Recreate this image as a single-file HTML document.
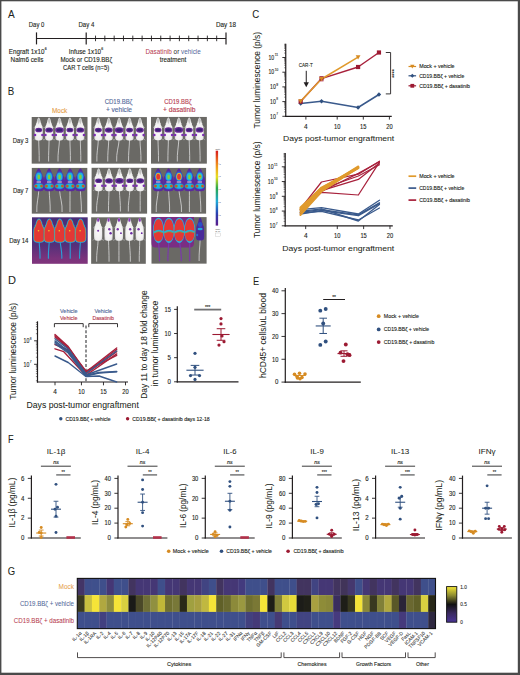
<!DOCTYPE html>
<html><head><meta charset="utf-8"><style>
html,body{margin:0;padding:0;background:#fff;}
svg{display:block;}
text{font-family:"Liberation Sans", sans-serif;}
</style></head><body>
<svg width="520" height="675" viewBox="0 0 520 675">
<defs>
<filter id="bl" x="-20%" y="-20%" width="140%" height="140%"><feGaussianBlur stdDeviation="0.45"/></filter>
<filter id="bl2" x="-20%" y="-20%" width="140%" height="140%"><feGaussianBlur stdDeviation="0.8"/></filter>
<linearGradient id="cbar" x1="0" y1="0" x2="0" y2="1">
<stop offset="0" stop-color="#d7191c"/><stop offset="0.18" stop-color="#f08a1c"/><stop offset="0.35" stop-color="#e8e020"/><stop offset="0.5" stop-color="#2aa84a"/><stop offset="0.68" stop-color="#20a8d8"/><stop offset="0.84" stop-color="#2a40b0"/><stop offset="1" stop-color="#5a1a8a"/>
</linearGradient>
<linearGradient id="hmbar" x1="0" y1="0" x2="0" y2="1">
<stop offset="0" stop-color="#f2e636"/><stop offset="0.25" stop-color="#8c8a30"/><stop offset="0.5" stop-color="#111111"/><stop offset="0.75" stop-color="#3a2a60"/><stop offset="1" stop-color="#4a3496"/>
</linearGradient>
<radialGradient id="mw" cx="0.5" cy="0.6" r="0.6"><stop offset="0" stop-color="#fbfafa"/><stop offset="0.7" stop-color="#f0efef"/><stop offset="1" stop-color="#cfcfcf"/></radialGradient>
<linearGradient id="d14bg" x1="0" y1="0" x2="0" y2="1">
<stop offset="0" stop-color="#4a2e78"/><stop offset="0.6" stop-color="#54307a"/><stop offset="0.88" stop-color="#7a337c"/><stop offset="1" stop-color="#80347c"/>
</linearGradient>
</defs>
<rect x="0" y="0" width="520" height="675" fill="#ffffff"/>
<text x="8.10" y="17.80" font-size="11" fill="#231f20" stroke="#231f20" stroke-width="0.05" textLength="6.70" lengthAdjust="spacingAndGlyphs" >A</text>
<line x1="36.50" y1="38.50" x2="226.00" y2="38.50" stroke="#231f20" stroke-width="1.1" />
<line x1="36.50" y1="32.40" x2="36.50" y2="44.40" stroke="#231f20" stroke-width="1.2" />
<line x1="86.20" y1="32.40" x2="86.20" y2="44.40" stroke="#231f20" stroke-width="1.2" />
<line x1="226.00" y1="32.40" x2="226.00" y2="44.40" stroke="#231f20" stroke-width="1.2" />
<line x1="95.52" y1="35.60" x2="95.52" y2="41.20" stroke="#231f20" stroke-width="0.9" />
<line x1="104.84" y1="35.60" x2="104.84" y2="41.20" stroke="#231f20" stroke-width="0.9" />
<line x1="114.16" y1="35.60" x2="114.16" y2="41.20" stroke="#231f20" stroke-width="0.9" />
<line x1="123.48" y1="35.60" x2="123.48" y2="41.20" stroke="#231f20" stroke-width="0.9" />
<line x1="132.80" y1="35.60" x2="132.80" y2="41.20" stroke="#231f20" stroke-width="0.9" />
<line x1="142.12" y1="35.60" x2="142.12" y2="41.20" stroke="#231f20" stroke-width="0.9" />
<line x1="151.44" y1="35.60" x2="151.44" y2="41.20" stroke="#231f20" stroke-width="0.9" />
<line x1="160.76" y1="35.60" x2="160.76" y2="41.20" stroke="#231f20" stroke-width="0.9" />
<line x1="170.08" y1="35.60" x2="170.08" y2="41.20" stroke="#231f20" stroke-width="0.9" />
<line x1="179.40" y1="35.60" x2="179.40" y2="41.20" stroke="#231f20" stroke-width="0.9" />
<line x1="188.72" y1="35.60" x2="188.72" y2="41.20" stroke="#231f20" stroke-width="0.9" />
<line x1="198.04" y1="35.60" x2="198.04" y2="41.20" stroke="#231f20" stroke-width="0.9" />
<line x1="207.36" y1="35.60" x2="207.36" y2="41.20" stroke="#231f20" stroke-width="0.9" />
<line x1="216.68" y1="35.60" x2="216.68" y2="41.20" stroke="#231f20" stroke-width="0.9" />
<text x="28.80" y="27.00" font-size="6.7" fill="#231f20" stroke="#231f20" stroke-width="0.12" textLength="15.50" lengthAdjust="spacingAndGlyphs" >Day 0</text>
<text x="78.50" y="27.00" font-size="6.7" fill="#231f20" stroke="#231f20" stroke-width="0.12" textLength="15.80" lengthAdjust="spacingAndGlyphs" >Day 4</text>
<text x="216.00" y="27.00" font-size="6.7" fill="#231f20" stroke="#231f20" stroke-width="0.12" textLength="20.00" lengthAdjust="spacingAndGlyphs" >Day 18</text>
<text x="8.80" y="54.00" font-size="6.7" fill="#231f20" stroke="#231f20" stroke-width="0.12" textLength="35.60" lengthAdjust="spacingAndGlyphs" >Engraft 1x10</text>
<text x="44.80" y="50.30" font-size="3.5" fill="#231f20" stroke="#231f20" stroke-width="0.12" >6</text>
<text x="10.60" y="62.30" font-size="6.7" fill="#231f20" stroke="#231f20" stroke-width="0.12" textLength="32.80" lengthAdjust="spacingAndGlyphs" >Nalm6 cells</text>
<text x="68.80" y="54.00" font-size="6.7" fill="#231f20" stroke="#231f20" stroke-width="0.12" textLength="32.30" lengthAdjust="spacingAndGlyphs" >Infuse 1x10</text>
<text x="101.20" y="50.30" font-size="3.5" fill="#231f20" stroke="#231f20" stroke-width="0.12" >6</text>
<text x="60.50" y="62.20" font-size="6.7" fill="#231f20" stroke="#231f20" stroke-width="0.12" textLength="51.60" lengthAdjust="spacingAndGlyphs" >Mock or CD19.BBζ</text>
<text x="63.00" y="70.40" font-size="6.7" fill="#231f20" stroke="#231f20" stroke-width="0.12" textLength="46.20" lengthAdjust="spacingAndGlyphs" >CAR T cells (n=5)</text>
<text x="145.4" y="54" font-size="6.7" textLength="55.4" lengthAdjust="spacingAndGlyphs"><tspan fill="#b63a4e">Dasatinib</tspan><tspan fill="#231f20"> or </tspan><tspan fill="#52699a">vehicle</tspan></text>
<text x="173.00" y="62.30" font-size="6.7" fill="#231f20" stroke="#231f20" stroke-width="0.12" text-anchor="middle" textLength="26.50" lengthAdjust="spacingAndGlyphs" >treatment</text>
<text x="7.70" y="95.00" font-size="11" fill="#231f20" stroke="#231f20" stroke-width="0.05" textLength="6.50" lengthAdjust="spacingAndGlyphs" >B</text>
<text x="52.00" y="112.60" font-size="6.9" fill="#e6a04a" stroke="#e6a04a" stroke-width="0.12" textLength="15.30" lengthAdjust="spacingAndGlyphs" >Mock</text>
<text x="104.70" y="103.60" font-size="6.8" fill="#52699a" stroke="#52699a" stroke-width="0.12" textLength="27.70" lengthAdjust="spacingAndGlyphs" >CD19.BBζ</text>
<text x="105.90" y="112.40" font-size="6.8" fill="#52699a" stroke="#52699a" stroke-width="0.12" textLength="26.10" lengthAdjust="spacingAndGlyphs" >+ vehicle</text>
<text x="164.30" y="103.60" font-size="6.8" fill="#b63a4e" stroke="#b63a4e" stroke-width="0.12" textLength="27.20" lengthAdjust="spacingAndGlyphs" >CD19.BBζ</text>
<text x="163.10" y="112.40" font-size="6.8" fill="#b63a4e" stroke="#b63a4e" stroke-width="0.12" textLength="32.40" lengthAdjust="spacingAndGlyphs" >+ dasatinib</text>
<text x="12.80" y="142.90" font-size="6.9" fill="#231f20" stroke="#231f20" stroke-width="0.12" textLength="15.50" lengthAdjust="spacingAndGlyphs" >Day 3</text>
<text x="12.90" y="192.90" font-size="6.9" fill="#231f20" stroke="#231f20" stroke-width="0.12" textLength="15.50" lengthAdjust="spacingAndGlyphs" >Day 7</text>
<text x="9.20" y="242.90" font-size="6.9" fill="#231f20" stroke="#231f20" stroke-width="0.12" textLength="19.20" lengthAdjust="spacingAndGlyphs" >Day 14</text>
<g>
<rect x="31.70" y="117.00" width="55.80" height="46.65" fill="#6a6965" />
<g filter="url(#bl)">
<path d="M38.70,139.90 C38.80,147.34 39.30,152.65 39.20,161.15" stroke="#cfcfcf" stroke-width="0.9" fill="none" stroke-linecap="round"/>
<line x1="35.10" y1="126.90" x2="33.70" y2="127.70" stroke="#b8b8b8" stroke-width="0.6" />
<line x1="35.10" y1="138.40" x2="33.40" y2="140.20" stroke="#b8b8b8" stroke-width="0.6" />
<line x1="42.30" y1="126.90" x2="43.70" y2="127.70" stroke="#b8b8b8" stroke-width="0.6" />
<line x1="42.30" y1="138.40" x2="44.00" y2="140.20" stroke="#b8b8b8" stroke-width="0.6" />
<path d="M38.70,117.40 L39.40,118.00 L40.10,119.40 L40.60,121.40 L40.90,122.90 L41.60,123.90 L41.40,124.70 L42.30,126.00 L42.70,128.40 L42.80,132.40 L42.80,136.40 L42.60,138.70 L41.80,139.90 L39.90,140.40 L37.50,140.40 L35.60,139.90 L34.80,138.70 L34.60,136.40 L34.60,132.40 L34.70,128.40 L35.10,126.00 L36.00,124.70 L35.80,123.90 L36.50,122.90 L36.80,121.40 L37.30,119.40 L38.00,118.00 Z" fill="url(#mw)"/>
<path d="M37.20,120.40 L38.70,118.20 L40.20,120.40 L38.70,124.40 Z" fill="#c4c4c4"/>
<ellipse cx="38.70" cy="130.00" rx="3.50" ry="2.30" fill="#6a2d96"/>
<ellipse cx="38.70" cy="130.00" rx="2.30" ry="1.30" fill="#3a2274"/>
<circle cx="35.00" cy="135.00" r="1.3" fill="#7a2fb0"/>
<circle cx="42.40" cy="135.00" r="1.3" fill="#7a2fb0"/>
<path d="M49.10,139.90 C49.00,147.34 48.50,152.65 48.60,161.15" stroke="#cfcfcf" stroke-width="0.9" fill="none" stroke-linecap="round"/>
<line x1="45.50" y1="126.90" x2="44.10" y2="127.70" stroke="#b8b8b8" stroke-width="0.6" />
<line x1="45.50" y1="138.40" x2="43.80" y2="140.20" stroke="#b8b8b8" stroke-width="0.6" />
<line x1="52.70" y1="126.90" x2="54.10" y2="127.70" stroke="#b8b8b8" stroke-width="0.6" />
<line x1="52.70" y1="138.40" x2="54.40" y2="140.20" stroke="#b8b8b8" stroke-width="0.6" />
<path d="M49.10,117.40 L49.80,118.00 L50.50,119.40 L51.00,121.40 L51.30,122.90 L52.00,123.90 L51.80,124.70 L52.70,126.00 L53.10,128.40 L53.20,132.40 L53.20,136.40 L53.00,138.70 L52.20,139.90 L50.30,140.40 L47.90,140.40 L46.00,139.90 L45.20,138.70 L45.00,136.40 L45.00,132.40 L45.10,128.40 L45.50,126.00 L46.40,124.70 L46.20,123.90 L46.90,122.90 L47.20,121.40 L47.70,119.40 L48.40,118.00 Z" fill="url(#mw)"/>
<path d="M47.60,120.40 L49.10,118.20 L50.60,120.40 L49.10,124.40 Z" fill="#c4c4c4"/>
<ellipse cx="49.10" cy="130.00" rx="3.92" ry="2.58" fill="#6a2d96"/>
<ellipse cx="49.10" cy="130.00" rx="2.58" ry="1.46" fill="#3a2274"/>
<circle cx="45.40" cy="135.00" r="1.3" fill="#7a2fb0"/>
<circle cx="52.80" cy="135.00" r="1.3" fill="#7a2fb0"/>
<path d="M59.50,139.90 C59.20,147.34 57.70,152.65 58.00,161.15" stroke="#cfcfcf" stroke-width="0.9" fill="none" stroke-linecap="round"/>
<line x1="55.90" y1="126.90" x2="54.50" y2="127.70" stroke="#b8b8b8" stroke-width="0.6" />
<line x1="55.90" y1="138.40" x2="54.20" y2="140.20" stroke="#b8b8b8" stroke-width="0.6" />
<line x1="63.10" y1="126.90" x2="64.50" y2="127.70" stroke="#b8b8b8" stroke-width="0.6" />
<line x1="63.10" y1="138.40" x2="64.80" y2="140.20" stroke="#b8b8b8" stroke-width="0.6" />
<path d="M59.50,117.40 L60.20,118.00 L60.90,119.40 L61.40,121.40 L61.70,122.90 L62.40,123.90 L62.20,124.70 L63.10,126.00 L63.50,128.40 L63.60,132.40 L63.60,136.40 L63.40,138.70 L62.60,139.90 L60.70,140.40 L58.30,140.40 L56.40,139.90 L55.60,138.70 L55.40,136.40 L55.40,132.40 L55.50,128.40 L55.90,126.00 L56.80,124.70 L56.60,123.90 L57.30,122.90 L57.60,121.40 L58.10,119.40 L58.80,118.00 Z" fill="url(#mw)"/>
<path d="M58.00,120.40 L59.50,118.20 L61.00,120.40 L59.50,124.40 Z" fill="#c4c4c4"/>
<ellipse cx="59.50" cy="130.00" rx="4.34" ry="2.85" fill="#6a2d96"/>
<ellipse cx="59.50" cy="130.00" rx="2.85" ry="1.61" fill="#3a2274"/>
<circle cx="55.80" cy="135.00" r="1.3" fill="#7a2fb0"/>
<circle cx="63.20" cy="135.00" r="1.3" fill="#7a2fb0"/>
<path d="M69.90,139.90 C70.00,147.34 70.50,152.65 70.40,161.15" stroke="#cfcfcf" stroke-width="0.9" fill="none" stroke-linecap="round"/>
<line x1="66.30" y1="126.90" x2="64.90" y2="127.70" stroke="#b8b8b8" stroke-width="0.6" />
<line x1="66.30" y1="138.40" x2="64.60" y2="140.20" stroke="#b8b8b8" stroke-width="0.6" />
<line x1="73.50" y1="126.90" x2="74.90" y2="127.70" stroke="#b8b8b8" stroke-width="0.6" />
<line x1="73.50" y1="138.40" x2="75.20" y2="140.20" stroke="#b8b8b8" stroke-width="0.6" />
<path d="M69.90,117.40 L70.60,118.00 L71.30,119.40 L71.80,121.40 L72.10,122.90 L72.80,123.90 L72.60,124.70 L73.50,126.00 L73.90,128.40 L74.00,132.40 L74.00,136.40 L73.80,138.70 L73.00,139.90 L71.10,140.40 L68.70,140.40 L66.80,139.90 L66.00,138.70 L65.80,136.40 L65.80,132.40 L65.90,128.40 L66.30,126.00 L67.20,124.70 L67.00,123.90 L67.70,122.90 L68.00,121.40 L68.50,119.40 L69.20,118.00 Z" fill="url(#mw)"/>
<path d="M68.40,120.40 L69.90,118.20 L71.40,120.40 L69.90,124.40 Z" fill="#c4c4c4"/>
<ellipse cx="69.90" cy="130.00" rx="3.50" ry="2.30" fill="#6a2d96"/>
<ellipse cx="69.90" cy="130.00" rx="2.30" ry="1.30" fill="#3a2274"/>
<circle cx="66.20" cy="135.00" r="1.3" fill="#7a2fb0"/>
<circle cx="73.60" cy="135.00" r="1.3" fill="#7a2fb0"/>
<path d="M80.30,139.90 C80.40,147.34 80.90,152.65 80.80,161.15" stroke="#cfcfcf" stroke-width="0.9" fill="none" stroke-linecap="round"/>
<line x1="76.70" y1="126.90" x2="75.30" y2="127.70" stroke="#b8b8b8" stroke-width="0.6" />
<line x1="76.70" y1="138.40" x2="75.00" y2="140.20" stroke="#b8b8b8" stroke-width="0.6" />
<line x1="83.90" y1="126.90" x2="85.30" y2="127.70" stroke="#b8b8b8" stroke-width="0.6" />
<line x1="83.90" y1="138.40" x2="85.60" y2="140.20" stroke="#b8b8b8" stroke-width="0.6" />
<path d="M80.30,117.40 L81.00,118.00 L81.70,119.40 L82.20,121.40 L82.50,122.90 L83.20,123.90 L83.00,124.70 L83.90,126.00 L84.30,128.40 L84.40,132.40 L84.40,136.40 L84.20,138.70 L83.40,139.90 L81.50,140.40 L79.10,140.40 L77.20,139.90 L76.40,138.70 L76.20,136.40 L76.20,132.40 L76.30,128.40 L76.70,126.00 L77.60,124.70 L77.40,123.90 L78.10,122.90 L78.40,121.40 L78.90,119.40 L79.60,118.00 Z" fill="url(#mw)"/>
<path d="M78.80,120.40 L80.30,118.20 L81.80,120.40 L80.30,124.40 Z" fill="#c4c4c4"/>
<ellipse cx="80.30" cy="130.00" rx="3.92" ry="2.58" fill="#6a2d96"/>
<ellipse cx="80.30" cy="130.00" rx="2.58" ry="1.46" fill="#3a2274"/>
<circle cx="76.60" cy="135.00" r="1.3" fill="#7a2fb0"/>
<circle cx="84.00" cy="135.00" r="1.3" fill="#7a2fb0"/>
</g></g>
<g>
<rect x="91.35" y="117.10" width="55.55" height="46.55" fill="#6a6965" />
<g filter="url(#bl)">
<path d="M98.35,140.00 C98.05,147.40 96.55,152.69 96.85,161.15" stroke="#cfcfcf" stroke-width="0.9" fill="none" stroke-linecap="round"/>
<line x1="94.75" y1="127.00" x2="93.35" y2="127.80" stroke="#b8b8b8" stroke-width="0.6" />
<line x1="94.75" y1="138.50" x2="93.05" y2="140.30" stroke="#b8b8b8" stroke-width="0.6" />
<line x1="101.95" y1="127.00" x2="103.35" y2="127.80" stroke="#b8b8b8" stroke-width="0.6" />
<line x1="101.95" y1="138.50" x2="103.65" y2="140.30" stroke="#b8b8b8" stroke-width="0.6" />
<path d="M98.35,117.50 L99.05,118.10 L99.75,119.50 L100.25,121.50 L100.55,123.00 L101.25,124.00 L101.05,124.80 L101.95,126.10 L102.35,128.50 L102.45,132.50 L102.45,136.50 L102.25,138.80 L101.45,140.00 L99.55,140.50 L97.15,140.50 L95.25,140.00 L94.45,138.80 L94.25,136.50 L94.25,132.50 L94.35,128.50 L94.75,126.10 L95.65,124.80 L95.45,124.00 L96.15,123.00 L96.45,121.50 L96.95,119.50 L97.65,118.10 Z" fill="url(#mw)"/>
<path d="M96.85,120.50 L98.35,118.30 L99.85,120.50 L98.35,124.50 Z" fill="#c4c4c4"/>
<ellipse cx="98.35" cy="130.10" rx="3.50" ry="2.30" fill="#6a2d96"/>
<ellipse cx="98.35" cy="130.10" rx="2.30" ry="1.30" fill="#3a2274"/>
<circle cx="94.65" cy="135.10" r="1.3" fill="#7a2fb0"/>
<circle cx="102.05" cy="135.10" r="1.3" fill="#7a2fb0"/>
<path d="M108.75,140.00 C108.55,147.40 107.55,152.69 107.75,161.15" stroke="#cfcfcf" stroke-width="0.9" fill="none" stroke-linecap="round"/>
<line x1="105.15" y1="127.00" x2="103.75" y2="127.80" stroke="#b8b8b8" stroke-width="0.6" />
<line x1="105.15" y1="138.50" x2="103.45" y2="140.30" stroke="#b8b8b8" stroke-width="0.6" />
<line x1="112.35" y1="127.00" x2="113.75" y2="127.80" stroke="#b8b8b8" stroke-width="0.6" />
<line x1="112.35" y1="138.50" x2="114.05" y2="140.30" stroke="#b8b8b8" stroke-width="0.6" />
<path d="M108.75,117.50 L109.45,118.10 L110.15,119.50 L110.65,121.50 L110.95,123.00 L111.65,124.00 L111.45,124.80 L112.35,126.10 L112.75,128.50 L112.85,132.50 L112.85,136.50 L112.65,138.80 L111.85,140.00 L109.95,140.50 L107.55,140.50 L105.65,140.00 L104.85,138.80 L104.65,136.50 L104.65,132.50 L104.75,128.50 L105.15,126.10 L106.05,124.80 L105.85,124.00 L106.55,123.00 L106.85,121.50 L107.35,119.50 L108.05,118.10 Z" fill="url(#mw)"/>
<path d="M107.25,120.50 L108.75,118.30 L110.25,120.50 L108.75,124.50 Z" fill="#c4c4c4"/>
<ellipse cx="108.75" cy="130.10" rx="3.92" ry="2.58" fill="#6a2d96"/>
<ellipse cx="108.75" cy="130.10" rx="2.58" ry="1.46" fill="#3a2274"/>
<circle cx="105.05" cy="135.10" r="1.3" fill="#7a2fb0"/>
<circle cx="112.45" cy="135.10" r="1.3" fill="#7a2fb0"/>
<path d="M119.15,140.00 C118.65,147.40 116.15,152.69 116.65,161.15" stroke="#cfcfcf" stroke-width="0.9" fill="none" stroke-linecap="round"/>
<line x1="115.55" y1="127.00" x2="114.15" y2="127.80" stroke="#b8b8b8" stroke-width="0.6" />
<line x1="115.55" y1="138.50" x2="113.85" y2="140.30" stroke="#b8b8b8" stroke-width="0.6" />
<line x1="122.75" y1="127.00" x2="124.15" y2="127.80" stroke="#b8b8b8" stroke-width="0.6" />
<line x1="122.75" y1="138.50" x2="124.45" y2="140.30" stroke="#b8b8b8" stroke-width="0.6" />
<path d="M119.15,117.50 L119.85,118.10 L120.55,119.50 L121.05,121.50 L121.35,123.00 L122.05,124.00 L121.85,124.80 L122.75,126.10 L123.15,128.50 L123.25,132.50 L123.25,136.50 L123.05,138.80 L122.25,140.00 L120.35,140.50 L117.95,140.50 L116.05,140.00 L115.25,138.80 L115.05,136.50 L115.05,132.50 L115.15,128.50 L115.55,126.10 L116.45,124.80 L116.25,124.00 L116.95,123.00 L117.25,121.50 L117.75,119.50 L118.45,118.10 Z" fill="url(#mw)"/>
<path d="M117.65,120.50 L119.15,118.30 L120.65,120.50 L119.15,124.50 Z" fill="#c4c4c4"/>
<ellipse cx="119.15" cy="130.10" rx="4.34" ry="2.85" fill="#6a2d96"/>
<ellipse cx="119.15" cy="130.10" rx="2.85" ry="1.61" fill="#3a2274"/>
<circle cx="115.45" cy="135.10" r="1.3" fill="#7a2fb0"/>
<circle cx="122.85" cy="135.10" r="1.3" fill="#7a2fb0"/>
<path d="M129.55,140.00 C129.35,147.40 128.35,152.69 128.55,161.15" stroke="#cfcfcf" stroke-width="0.9" fill="none" stroke-linecap="round"/>
<line x1="125.95" y1="127.00" x2="124.55" y2="127.80" stroke="#b8b8b8" stroke-width="0.6" />
<line x1="125.95" y1="138.50" x2="124.25" y2="140.30" stroke="#b8b8b8" stroke-width="0.6" />
<line x1="133.15" y1="127.00" x2="134.55" y2="127.80" stroke="#b8b8b8" stroke-width="0.6" />
<line x1="133.15" y1="138.50" x2="134.85" y2="140.30" stroke="#b8b8b8" stroke-width="0.6" />
<path d="M129.55,117.50 L130.25,118.10 L130.95,119.50 L131.45,121.50 L131.75,123.00 L132.45,124.00 L132.25,124.80 L133.15,126.10 L133.55,128.50 L133.65,132.50 L133.65,136.50 L133.45,138.80 L132.65,140.00 L130.75,140.50 L128.35,140.50 L126.45,140.00 L125.65,138.80 L125.45,136.50 L125.45,132.50 L125.55,128.50 L125.95,126.10 L126.85,124.80 L126.65,124.00 L127.35,123.00 L127.65,121.50 L128.15,119.50 L128.85,118.10 Z" fill="url(#mw)"/>
<path d="M128.05,120.50 L129.55,118.30 L131.05,120.50 L129.55,124.50 Z" fill="#c4c4c4"/>
<ellipse cx="129.55" cy="130.10" rx="3.50" ry="2.30" fill="#6a2d96"/>
<ellipse cx="129.55" cy="130.10" rx="2.30" ry="1.30" fill="#3a2274"/>
<circle cx="125.85" cy="135.10" r="1.3" fill="#7a2fb0"/>
<circle cx="133.25" cy="135.10" r="1.3" fill="#7a2fb0"/>
<path d="M139.95,140.00 C140.15,147.40 141.15,152.69 140.95,161.15" stroke="#cfcfcf" stroke-width="0.9" fill="none" stroke-linecap="round"/>
<line x1="136.35" y1="127.00" x2="134.95" y2="127.80" stroke="#b8b8b8" stroke-width="0.6" />
<line x1="136.35" y1="138.50" x2="134.65" y2="140.30" stroke="#b8b8b8" stroke-width="0.6" />
<line x1="143.55" y1="127.00" x2="144.95" y2="127.80" stroke="#b8b8b8" stroke-width="0.6" />
<line x1="143.55" y1="138.50" x2="145.25" y2="140.30" stroke="#b8b8b8" stroke-width="0.6" />
<path d="M139.95,117.50 L140.65,118.10 L141.35,119.50 L141.85,121.50 L142.15,123.00 L142.85,124.00 L142.65,124.80 L143.55,126.10 L143.95,128.50 L144.05,132.50 L144.05,136.50 L143.85,138.80 L143.05,140.00 L141.15,140.50 L138.75,140.50 L136.85,140.00 L136.05,138.80 L135.85,136.50 L135.85,132.50 L135.95,128.50 L136.35,126.10 L137.25,124.80 L137.05,124.00 L137.75,123.00 L138.05,121.50 L138.55,119.50 L139.25,118.10 Z" fill="url(#mw)"/>
<path d="M138.45,120.50 L139.95,118.30 L141.45,120.50 L139.95,124.50 Z" fill="#c4c4c4"/>
<ellipse cx="139.95" cy="130.10" rx="3.92" ry="2.58" fill="#6a2d96"/>
<ellipse cx="139.95" cy="130.10" rx="2.58" ry="1.46" fill="#3a2274"/>
<circle cx="136.25" cy="135.10" r="1.3" fill="#7a2fb0"/>
<circle cx="143.65" cy="135.10" r="1.3" fill="#7a2fb0"/>
</g></g>
<g>
<rect x="151.00" y="116.95" width="55.85" height="46.70" fill="#6a6965" />
<g filter="url(#bl)">
<path d="M158.00,139.85 C158.10,147.31 158.60,152.63 158.50,161.15" stroke="#cfcfcf" stroke-width="0.9" fill="none" stroke-linecap="round"/>
<line x1="154.40" y1="126.85" x2="153.00" y2="127.65" stroke="#b8b8b8" stroke-width="0.6" />
<line x1="154.40" y1="138.35" x2="152.70" y2="140.15" stroke="#b8b8b8" stroke-width="0.6" />
<line x1="161.60" y1="126.85" x2="163.00" y2="127.65" stroke="#b8b8b8" stroke-width="0.6" />
<line x1="161.60" y1="138.35" x2="163.30" y2="140.15" stroke="#b8b8b8" stroke-width="0.6" />
<path d="M158.00,117.35 L158.70,117.95 L159.40,119.35 L159.90,121.35 L160.20,122.85 L160.90,123.85 L160.70,124.65 L161.60,125.95 L162.00,128.35 L162.10,132.35 L162.10,136.35 L161.90,138.65 L161.10,139.85 L159.20,140.35 L156.80,140.35 L154.90,139.85 L154.10,138.65 L153.90,136.35 L153.90,132.35 L154.00,128.35 L154.40,125.95 L155.30,124.65 L155.10,123.85 L155.80,122.85 L156.10,121.35 L156.60,119.35 L157.30,117.95 Z" fill="url(#mw)"/>
<path d="M156.50,120.35 L158.00,118.15 L159.50,120.35 L158.00,124.35 Z" fill="#c4c4c4"/>
<ellipse cx="158.00" cy="129.95" rx="3.50" ry="2.30" fill="#6a2d96"/>
<ellipse cx="158.00" cy="129.95" rx="2.30" ry="1.30" fill="#3a2274"/>
<circle cx="154.30" cy="134.95" r="1.3" fill="#7a2fb0"/>
<circle cx="161.70" cy="134.95" r="1.3" fill="#7a2fb0"/>
<path d="M168.40,139.85 C168.30,147.31 167.80,152.63 167.90,161.15" stroke="#cfcfcf" stroke-width="0.9" fill="none" stroke-linecap="round"/>
<line x1="164.80" y1="126.85" x2="163.40" y2="127.65" stroke="#b8b8b8" stroke-width="0.6" />
<line x1="164.80" y1="138.35" x2="163.10" y2="140.15" stroke="#b8b8b8" stroke-width="0.6" />
<line x1="172.00" y1="126.85" x2="173.40" y2="127.65" stroke="#b8b8b8" stroke-width="0.6" />
<line x1="172.00" y1="138.35" x2="173.70" y2="140.15" stroke="#b8b8b8" stroke-width="0.6" />
<path d="M168.40,117.35 L169.10,117.95 L169.80,119.35 L170.30,121.35 L170.60,122.85 L171.30,123.85 L171.10,124.65 L172.00,125.95 L172.40,128.35 L172.50,132.35 L172.50,136.35 L172.30,138.65 L171.50,139.85 L169.60,140.35 L167.20,140.35 L165.30,139.85 L164.50,138.65 L164.30,136.35 L164.30,132.35 L164.40,128.35 L164.80,125.95 L165.70,124.65 L165.50,123.85 L166.20,122.85 L166.50,121.35 L167.00,119.35 L167.70,117.95 Z" fill="url(#mw)"/>
<path d="M166.90,120.35 L168.40,118.15 L169.90,120.35 L168.40,124.35 Z" fill="#c4c4c4"/>
<ellipse cx="168.40" cy="129.95" rx="3.92" ry="2.58" fill="#6a2d96"/>
<ellipse cx="168.40" cy="129.95" rx="2.58" ry="1.46" fill="#3a2274"/>
<circle cx="164.70" cy="134.95" r="1.3" fill="#7a2fb0"/>
<circle cx="172.10" cy="134.95" r="1.3" fill="#7a2fb0"/>
<path d="M178.80,139.85 C178.50,147.31 177.00,152.63 177.30,161.15" stroke="#cfcfcf" stroke-width="0.9" fill="none" stroke-linecap="round"/>
<line x1="175.20" y1="126.85" x2="173.80" y2="127.65" stroke="#b8b8b8" stroke-width="0.6" />
<line x1="175.20" y1="138.35" x2="173.50" y2="140.15" stroke="#b8b8b8" stroke-width="0.6" />
<line x1="182.40" y1="126.85" x2="183.80" y2="127.65" stroke="#b8b8b8" stroke-width="0.6" />
<line x1="182.40" y1="138.35" x2="184.10" y2="140.15" stroke="#b8b8b8" stroke-width="0.6" />
<path d="M178.80,117.35 L179.50,117.95 L180.20,119.35 L180.70,121.35 L181.00,122.85 L181.70,123.85 L181.50,124.65 L182.40,125.95 L182.80,128.35 L182.90,132.35 L182.90,136.35 L182.70,138.65 L181.90,139.85 L180.00,140.35 L177.60,140.35 L175.70,139.85 L174.90,138.65 L174.70,136.35 L174.70,132.35 L174.80,128.35 L175.20,125.95 L176.10,124.65 L175.90,123.85 L176.60,122.85 L176.90,121.35 L177.40,119.35 L178.10,117.95 Z" fill="url(#mw)"/>
<path d="M177.30,120.35 L178.80,118.15 L180.30,120.35 L178.80,124.35 Z" fill="#c4c4c4"/>
<ellipse cx="178.80" cy="129.95" rx="4.34" ry="2.85" fill="#6a2d96"/>
<ellipse cx="178.80" cy="129.95" rx="2.85" ry="1.61" fill="#3a2274"/>
<circle cx="175.10" cy="134.95" r="1.3" fill="#7a2fb0"/>
<circle cx="182.50" cy="134.95" r="1.3" fill="#7a2fb0"/>
<path d="M189.20,139.85 C189.30,147.31 189.80,152.63 189.70,161.15" stroke="#cfcfcf" stroke-width="0.9" fill="none" stroke-linecap="round"/>
<line x1="185.60" y1="126.85" x2="184.20" y2="127.65" stroke="#b8b8b8" stroke-width="0.6" />
<line x1="185.60" y1="138.35" x2="183.90" y2="140.15" stroke="#b8b8b8" stroke-width="0.6" />
<line x1="192.80" y1="126.85" x2="194.20" y2="127.65" stroke="#b8b8b8" stroke-width="0.6" />
<line x1="192.80" y1="138.35" x2="194.50" y2="140.15" stroke="#b8b8b8" stroke-width="0.6" />
<path d="M189.20,117.35 L189.90,117.95 L190.60,119.35 L191.10,121.35 L191.40,122.85 L192.10,123.85 L191.90,124.65 L192.80,125.95 L193.20,128.35 L193.30,132.35 L193.30,136.35 L193.10,138.65 L192.30,139.85 L190.40,140.35 L188.00,140.35 L186.10,139.85 L185.30,138.65 L185.10,136.35 L185.10,132.35 L185.20,128.35 L185.60,125.95 L186.50,124.65 L186.30,123.85 L187.00,122.85 L187.30,121.35 L187.80,119.35 L188.50,117.95 Z" fill="url(#mw)"/>
<path d="M187.70,120.35 L189.20,118.15 L190.70,120.35 L189.20,124.35 Z" fill="#c4c4c4"/>
<ellipse cx="189.20" cy="129.95" rx="3.50" ry="2.30" fill="#6a2d96"/>
<ellipse cx="189.20" cy="129.95" rx="2.30" ry="1.30" fill="#3a2274"/>
<circle cx="185.50" cy="134.95" r="1.3" fill="#7a2fb0"/>
<circle cx="192.90" cy="134.95" r="1.3" fill="#7a2fb0"/>
<path d="M199.60,139.85 C199.70,147.31 200.20,152.63 200.10,161.15" stroke="#cfcfcf" stroke-width="0.9" fill="none" stroke-linecap="round"/>
<line x1="196.00" y1="126.85" x2="194.60" y2="127.65" stroke="#b8b8b8" stroke-width="0.6" />
<line x1="196.00" y1="138.35" x2="194.30" y2="140.15" stroke="#b8b8b8" stroke-width="0.6" />
<line x1="203.20" y1="126.85" x2="204.60" y2="127.65" stroke="#b8b8b8" stroke-width="0.6" />
<line x1="203.20" y1="138.35" x2="204.90" y2="140.15" stroke="#b8b8b8" stroke-width="0.6" />
<path d="M199.60,117.35 L200.30,117.95 L201.00,119.35 L201.50,121.35 L201.80,122.85 L202.50,123.85 L202.30,124.65 L203.20,125.95 L203.60,128.35 L203.70,132.35 L203.70,136.35 L203.50,138.65 L202.70,139.85 L200.80,140.35 L198.40,140.35 L196.50,139.85 L195.70,138.65 L195.50,136.35 L195.50,132.35 L195.60,128.35 L196.00,125.95 L196.90,124.65 L196.70,123.85 L197.40,122.85 L197.70,121.35 L198.20,119.35 L198.90,117.95 Z" fill="url(#mw)"/>
<path d="M198.10,120.35 L199.60,118.15 L201.10,120.35 L199.60,124.35 Z" fill="#c4c4c4"/>
<ellipse cx="199.60" cy="129.95" rx="3.92" ry="2.58" fill="#6a2d96"/>
<ellipse cx="199.60" cy="129.95" rx="2.58" ry="1.46" fill="#3a2274"/>
<circle cx="195.90" cy="134.95" r="1.3" fill="#7a2fb0"/>
<circle cx="203.30" cy="134.95" r="1.3" fill="#7a2fb0"/>
</g></g>
<g>
<rect x="31.80" y="167.90" width="55.50" height="45.75" fill="#6a6965" />
<g filter="url(#bl)">
<path d="M38.80,190.80 C38.40,198.10 36.40,203.31 36.80,211.65" stroke="#cfcfcf" stroke-width="0.9" fill="none" stroke-linecap="round"/>
<path d="M38.80,168.30 L39.71,168.90 L40.62,170.30 L41.27,172.30 L41.66,173.80 L42.57,174.80 L42.31,175.60 L43.48,176.90 L44.00,179.30 L44.13,183.30 L44.13,187.30 L43.87,189.60 L42.83,190.80 L40.36,191.30 L37.24,191.30 L34.77,190.80 L33.73,189.60 L33.47,187.30 L33.47,183.30 L33.60,179.30 L34.12,176.90 L35.29,175.60 L35.03,174.80 L35.94,173.80 L36.33,172.30 L36.98,170.30 L37.89,168.90 Z" fill="#5a2b9c"/>
<ellipse cx="38.80" cy="176.50" rx="3.6" ry="5.0" fill="#2c5fd0"/>
<ellipse cx="38.80" cy="176.70" rx="2.8" ry="4.0" fill="#22b2e2"/>
<ellipse cx="38.80" cy="176.90" rx="1.3" ry="2.4" fill="#86cc3a"/>
<ellipse cx="38.80" cy="186.10" rx="5.0" ry="3.4" fill="#2c5fd0"/>
<ellipse cx="38.80" cy="186.10" rx="4.0" ry="2.6" fill="#22b2e2"/>
<circle cx="36.00" cy="186.10" r="1.7" fill="#50c040"/>
<circle cx="36.00" cy="186.10" r="1.15" fill="#e33834"/>
<circle cx="41.60" cy="186.10" r="1.7" fill="#50c040"/>
<circle cx="41.60" cy="186.10" r="1.15" fill="#e33834"/>
<rect x="36.60" y="181.50" width="4.4" height="1.0" fill="#e0e0e0"/>
<path d="M49.20,190.80 C49.40,198.10 50.40,203.31 50.20,211.65" stroke="#cfcfcf" stroke-width="0.9" fill="none" stroke-linecap="round"/>
<path d="M49.20,168.30 L50.11,168.90 L51.02,170.30 L51.67,172.30 L52.06,173.80 L52.97,174.80 L52.71,175.60 L53.88,176.90 L54.40,179.30 L54.53,183.30 L54.53,187.30 L54.27,189.60 L53.23,190.80 L50.76,191.30 L47.64,191.30 L45.17,190.80 L44.13,189.60 L43.87,187.30 L43.87,183.30 L44.00,179.30 L44.52,176.90 L45.69,175.60 L45.43,174.80 L46.34,173.80 L46.73,172.30 L47.38,170.30 L48.29,168.90 Z" fill="#5a2b9c"/>
<ellipse cx="49.20" cy="176.50" rx="3.6" ry="5.0" fill="#2c5fd0"/>
<ellipse cx="49.20" cy="176.70" rx="2.8" ry="4.0" fill="#22b2e2"/>
<ellipse cx="49.20" cy="176.90" rx="1.3" ry="2.4" fill="#86cc3a"/>
<ellipse cx="49.20" cy="186.10" rx="5.0" ry="3.4" fill="#2c5fd0"/>
<ellipse cx="49.20" cy="186.10" rx="4.0" ry="2.6" fill="#22b2e2"/>
<circle cx="46.40" cy="186.10" r="1.7" fill="#50c040"/>
<circle cx="46.40" cy="186.10" r="1.15" fill="#e33834"/>
<circle cx="52.00" cy="186.10" r="1.7" fill="#50c040"/>
<circle cx="52.00" cy="186.10" r="1.15" fill="#e33834"/>
<rect x="47.00" y="181.50" width="4.4" height="1.0" fill="#e0e0e0"/>
<path d="M59.60,190.80 C60.10,198.10 62.60,203.31 62.10,211.65" stroke="#cfcfcf" stroke-width="0.9" fill="none" stroke-linecap="round"/>
<path d="M59.60,168.30 L60.51,168.90 L61.42,170.30 L62.07,172.30 L62.46,173.80 L63.37,174.80 L63.11,175.60 L64.28,176.90 L64.80,179.30 L64.93,183.30 L64.93,187.30 L64.67,189.60 L63.63,190.80 L61.16,191.30 L58.04,191.30 L55.57,190.80 L54.53,189.60 L54.27,187.30 L54.27,183.30 L54.40,179.30 L54.92,176.90 L56.09,175.60 L55.83,174.80 L56.74,173.80 L57.13,172.30 L57.78,170.30 L58.69,168.90 Z" fill="#5a2b9c"/>
<ellipse cx="59.60" cy="176.50" rx="3.6" ry="5.0" fill="#2c5fd0"/>
<ellipse cx="59.60" cy="176.70" rx="2.8" ry="4.0" fill="#22b2e2"/>
<ellipse cx="59.60" cy="176.90" rx="1.3" ry="2.4" fill="#86cc3a"/>
<ellipse cx="59.60" cy="186.10" rx="5.0" ry="3.4" fill="#2c5fd0"/>
<ellipse cx="59.60" cy="186.10" rx="4.0" ry="2.6" fill="#22b2e2"/>
<circle cx="56.80" cy="186.10" r="1.7" fill="#50c040"/>
<circle cx="56.80" cy="186.10" r="1.15" fill="#e33834"/>
<circle cx="62.40" cy="186.10" r="1.7" fill="#50c040"/>
<circle cx="62.40" cy="186.10" r="1.15" fill="#e33834"/>
<rect x="57.40" y="181.50" width="4.4" height="1.0" fill="#e0e0e0"/>
<path d="M70.00,190.80 C70.00,198.10 70.00,203.31 70.00,211.65" stroke="#cfcfcf" stroke-width="0.9" fill="none" stroke-linecap="round"/>
<path d="M70.00,168.30 L70.91,168.90 L71.82,170.30 L72.47,172.30 L72.86,173.80 L73.77,174.80 L73.51,175.60 L74.68,176.90 L75.20,179.30 L75.33,183.30 L75.33,187.30 L75.07,189.60 L74.03,190.80 L71.56,191.30 L68.44,191.30 L65.97,190.80 L64.93,189.60 L64.67,187.30 L64.67,183.30 L64.80,179.30 L65.32,176.90 L66.49,175.60 L66.23,174.80 L67.14,173.80 L67.53,172.30 L68.18,170.30 L69.09,168.90 Z" fill="#5a2b9c"/>
<ellipse cx="70.00" cy="176.50" rx="3.6" ry="5.0" fill="#2c5fd0"/>
<ellipse cx="70.00" cy="176.70" rx="2.8" ry="4.0" fill="#22b2e2"/>
<ellipse cx="70.00" cy="176.90" rx="1.3" ry="2.4" fill="#86cc3a"/>
<ellipse cx="70.00" cy="186.10" rx="5.0" ry="3.4" fill="#2c5fd0"/>
<ellipse cx="70.00" cy="186.10" rx="4.0" ry="2.6" fill="#22b2e2"/>
<circle cx="67.20" cy="186.10" r="1.7" fill="#50c040"/>
<circle cx="67.20" cy="186.10" r="1.15" fill="#e33834"/>
<circle cx="72.80" cy="186.10" r="1.7" fill="#50c040"/>
<circle cx="72.80" cy="186.10" r="1.15" fill="#e33834"/>
<rect x="67.80" y="181.50" width="4.4" height="1.0" fill="#e0e0e0"/>
<path d="M80.40,190.80 C80.60,198.10 81.60,203.31 81.40,211.65" stroke="#cfcfcf" stroke-width="0.9" fill="none" stroke-linecap="round"/>
<path d="M80.40,168.30 L81.31,168.90 L82.22,170.30 L82.87,172.30 L83.26,173.80 L84.17,174.80 L83.91,175.60 L85.08,176.90 L85.60,179.30 L85.73,183.30 L85.73,187.30 L85.47,189.60 L84.43,190.80 L81.96,191.30 L78.84,191.30 L76.37,190.80 L75.33,189.60 L75.07,187.30 L75.07,183.30 L75.20,179.30 L75.72,176.90 L76.89,175.60 L76.63,174.80 L77.54,173.80 L77.93,172.30 L78.58,170.30 L79.49,168.90 Z" fill="#5a2b9c"/>
<ellipse cx="80.40" cy="176.50" rx="3.6" ry="5.0" fill="#2c5fd0"/>
<ellipse cx="80.40" cy="176.70" rx="2.8" ry="4.0" fill="#22b2e2"/>
<ellipse cx="80.40" cy="176.90" rx="1.3" ry="2.4" fill="#86cc3a"/>
<ellipse cx="80.40" cy="186.10" rx="5.0" ry="3.4" fill="#2c5fd0"/>
<ellipse cx="80.40" cy="186.10" rx="4.0" ry="2.6" fill="#22b2e2"/>
<circle cx="77.60" cy="186.10" r="1.7" fill="#50c040"/>
<circle cx="77.60" cy="186.10" r="1.15" fill="#e33834"/>
<circle cx="83.20" cy="186.10" r="1.7" fill="#50c040"/>
<circle cx="83.20" cy="186.10" r="1.15" fill="#e33834"/>
<rect x="78.20" y="181.50" width="4.4" height="1.0" fill="#e0e0e0"/>
</g></g>
<g>
<rect x="91.60" y="167.80" width="55.50" height="45.85" fill="#6a6965" />
<g filter="url(#bl)">
<path d="M98.60,190.70 C98.20,197.86 96.20,202.97 96.60,211.15" stroke="#cfcfcf" stroke-width="0.9" fill="none" stroke-linecap="round"/>
<line x1="95.00" y1="177.70" x2="93.60" y2="178.50" stroke="#b8b8b8" stroke-width="0.6" />
<line x1="95.00" y1="189.20" x2="93.30" y2="191.00" stroke="#b8b8b8" stroke-width="0.6" />
<line x1="102.20" y1="177.70" x2="103.60" y2="178.50" stroke="#b8b8b8" stroke-width="0.6" />
<line x1="102.20" y1="189.20" x2="103.90" y2="191.00" stroke="#b8b8b8" stroke-width="0.6" />
<path d="M98.60,168.20 L99.30,168.80 L100.00,170.20 L100.50,172.20 L100.80,173.70 L101.50,174.70 L101.30,175.50 L102.20,176.80 L102.60,179.20 L102.70,183.20 L102.70,187.20 L102.50,189.50 L101.70,190.70 L99.80,191.20 L97.40,191.20 L95.50,190.70 L94.70,189.50 L94.50,187.20 L94.50,183.20 L94.60,179.20 L95.00,176.80 L95.90,175.50 L95.70,174.70 L96.40,173.70 L96.70,172.20 L97.20,170.20 L97.90,168.80 Z" fill="url(#mw)"/>
<path d="M97.10,171.20 L98.60,169.00 L100.10,171.20 L98.60,175.20 Z" fill="#c4c4c4"/>
<ellipse cx="98.60" cy="180.80" rx="3.50" ry="2.30" fill="#6a2d96"/>
<ellipse cx="98.60" cy="180.80" rx="2.30" ry="1.30" fill="#3a2274"/>
<circle cx="94.90" cy="185.80" r="1.3" fill="#7a2fb0"/>
<circle cx="102.30" cy="185.80" r="1.3" fill="#7a2fb0"/>
<path d="M109.00,190.70 C108.90,197.86 108.40,202.97 108.50,211.15" stroke="#cfcfcf" stroke-width="0.9" fill="none" stroke-linecap="round"/>
<line x1="105.40" y1="177.70" x2="104.00" y2="178.50" stroke="#b8b8b8" stroke-width="0.6" />
<line x1="105.40" y1="189.20" x2="103.70" y2="191.00" stroke="#b8b8b8" stroke-width="0.6" />
<line x1="112.60" y1="177.70" x2="114.00" y2="178.50" stroke="#b8b8b8" stroke-width="0.6" />
<line x1="112.60" y1="189.20" x2="114.30" y2="191.00" stroke="#b8b8b8" stroke-width="0.6" />
<path d="M109.00,168.20 L109.70,168.80 L110.40,170.20 L110.90,172.20 L111.20,173.70 L111.90,174.70 L111.70,175.50 L112.60,176.80 L113.00,179.20 L113.10,183.20 L113.10,187.20 L112.90,189.50 L112.10,190.70 L110.20,191.20 L107.80,191.20 L105.90,190.70 L105.10,189.50 L104.90,187.20 L104.90,183.20 L105.00,179.20 L105.40,176.80 L106.30,175.50 L106.10,174.70 L106.80,173.70 L107.10,172.20 L107.60,170.20 L108.30,168.80 Z" fill="url(#mw)"/>
<path d="M107.50,171.20 L109.00,169.00 L110.50,171.20 L109.00,175.20 Z" fill="#c4c4c4"/>
<ellipse cx="109.00" cy="180.80" rx="3.92" ry="2.58" fill="#6a2d96"/>
<ellipse cx="109.00" cy="180.80" rx="2.58" ry="1.46" fill="#3a2274"/>
<circle cx="105.30" cy="185.80" r="1.3" fill="#7a2fb0"/>
<circle cx="112.70" cy="185.80" r="1.3" fill="#7a2fb0"/>
<path d="M119.40,190.70 C119.60,197.86 120.60,202.97 120.40,211.15" stroke="#cfcfcf" stroke-width="0.9" fill="none" stroke-linecap="round"/>
<line x1="115.80" y1="177.70" x2="114.40" y2="178.50" stroke="#b8b8b8" stroke-width="0.6" />
<line x1="115.80" y1="189.20" x2="114.10" y2="191.00" stroke="#b8b8b8" stroke-width="0.6" />
<line x1="123.00" y1="177.70" x2="124.40" y2="178.50" stroke="#b8b8b8" stroke-width="0.6" />
<line x1="123.00" y1="189.20" x2="124.70" y2="191.00" stroke="#b8b8b8" stroke-width="0.6" />
<path d="M119.40,168.20 L120.10,168.80 L120.80,170.20 L121.30,172.20 L121.60,173.70 L122.30,174.70 L122.10,175.50 L123.00,176.80 L123.40,179.20 L123.50,183.20 L123.50,187.20 L123.30,189.50 L122.50,190.70 L120.60,191.20 L118.20,191.20 L116.30,190.70 L115.50,189.50 L115.30,187.20 L115.30,183.20 L115.40,179.20 L115.80,176.80 L116.70,175.50 L116.50,174.70 L117.20,173.70 L117.50,172.20 L118.00,170.20 L118.70,168.80 Z" fill="url(#mw)"/>
<path d="M117.90,171.20 L119.40,169.00 L120.90,171.20 L119.40,175.20 Z" fill="#c4c4c4"/>
<ellipse cx="119.40" cy="180.80" rx="4.34" ry="2.85" fill="#6a2d96"/>
<ellipse cx="119.40" cy="180.80" rx="2.85" ry="1.61" fill="#3a2274"/>
<circle cx="115.70" cy="185.80" r="1.3" fill="#7a2fb0"/>
<circle cx="123.10" cy="185.80" r="1.3" fill="#7a2fb0"/>
<path d="M129.80,190.70 C129.50,197.86 128.00,202.97 128.30,211.15" stroke="#cfcfcf" stroke-width="0.9" fill="none" stroke-linecap="round"/>
<line x1="126.20" y1="177.70" x2="124.80" y2="178.50" stroke="#b8b8b8" stroke-width="0.6" />
<line x1="126.20" y1="189.20" x2="124.50" y2="191.00" stroke="#b8b8b8" stroke-width="0.6" />
<line x1="133.40" y1="177.70" x2="134.80" y2="178.50" stroke="#b8b8b8" stroke-width="0.6" />
<line x1="133.40" y1="189.20" x2="135.10" y2="191.00" stroke="#b8b8b8" stroke-width="0.6" />
<path d="M129.80,168.20 L130.50,168.80 L131.20,170.20 L131.70,172.20 L132.00,173.70 L132.70,174.70 L132.50,175.50 L133.40,176.80 L133.80,179.20 L133.90,183.20 L133.90,187.20 L133.70,189.50 L132.90,190.70 L131.00,191.20 L128.60,191.20 L126.70,190.70 L125.90,189.50 L125.70,187.20 L125.70,183.20 L125.80,179.20 L126.20,176.80 L127.10,175.50 L126.90,174.70 L127.60,173.70 L127.90,172.20 L128.40,170.20 L129.10,168.80 Z" fill="url(#mw)"/>
<path d="M128.30,171.20 L129.80,169.00 L131.30,171.20 L129.80,175.20 Z" fill="#c4c4c4"/>
<ellipse cx="129.80" cy="180.80" rx="3.50" ry="2.30" fill="#6a2d96"/>
<ellipse cx="129.80" cy="180.80" rx="2.30" ry="1.30" fill="#3a2274"/>
<circle cx="126.10" cy="185.80" r="1.3" fill="#7a2fb0"/>
<circle cx="133.50" cy="185.80" r="1.3" fill="#7a2fb0"/>
<path d="M140.20,190.70 C140.20,197.86 140.20,202.97 140.20,211.15" stroke="#cfcfcf" stroke-width="0.9" fill="none" stroke-linecap="round"/>
<line x1="136.60" y1="177.70" x2="135.20" y2="178.50" stroke="#b8b8b8" stroke-width="0.6" />
<line x1="136.60" y1="189.20" x2="134.90" y2="191.00" stroke="#b8b8b8" stroke-width="0.6" />
<line x1="143.80" y1="177.70" x2="145.20" y2="178.50" stroke="#b8b8b8" stroke-width="0.6" />
<line x1="143.80" y1="189.20" x2="145.50" y2="191.00" stroke="#b8b8b8" stroke-width="0.6" />
<path d="M140.20,168.20 L140.90,168.80 L141.60,170.20 L142.10,172.20 L142.40,173.70 L143.10,174.70 L142.90,175.50 L143.80,176.80 L144.20,179.20 L144.30,183.20 L144.30,187.20 L144.10,189.50 L143.30,190.70 L141.40,191.20 L139.00,191.20 L137.10,190.70 L136.30,189.50 L136.10,187.20 L136.10,183.20 L136.20,179.20 L136.60,176.80 L137.50,175.50 L137.30,174.70 L138.00,173.70 L138.30,172.20 L138.80,170.20 L139.50,168.80 Z" fill="url(#mw)"/>
<path d="M138.70,171.20 L140.20,169.00 L141.70,171.20 L140.20,175.20 Z" fill="#c4c4c4"/>
<ellipse cx="140.20" cy="180.80" rx="3.92" ry="2.58" fill="#6a2d96"/>
<ellipse cx="140.20" cy="180.80" rx="2.58" ry="1.46" fill="#3a2274"/>
<circle cx="136.50" cy="185.80" r="1.3" fill="#7a2fb0"/>
<circle cx="143.90" cy="185.80" r="1.3" fill="#7a2fb0"/>
</g></g>
<g>
<rect x="151.20" y="167.90" width="54.90" height="45.75" fill="#6a6965" />
<g filter="url(#bl)">
<path d="M158.20,190.80 C157.80,198.10 155.80,203.31 156.20,211.65" stroke="#cfcfcf" stroke-width="0.9" fill="none" stroke-linecap="round"/>
<path d="M158.20,168.30 L159.11,168.90 L160.02,170.30 L160.67,172.30 L161.06,173.80 L161.97,174.80 L161.71,175.60 L162.88,176.90 L163.40,179.30 L163.53,183.30 L163.53,187.30 L163.27,189.60 L162.23,190.80 L159.76,191.30 L156.64,191.30 L154.17,190.80 L153.13,189.60 L152.87,187.30 L152.87,183.30 L153.00,179.30 L153.52,176.90 L154.69,175.60 L154.43,174.80 L155.34,173.80 L155.73,172.30 L156.38,170.30 L157.29,168.90 Z" fill="#5a2b9c"/>
<ellipse cx="158.20" cy="176.50" rx="3.6" ry="5.0" fill="#2c5fd0"/>
<ellipse cx="158.20" cy="176.70" rx="2.8" ry="4.0" fill="#22b2e2"/>
<ellipse cx="158.20" cy="176.50" rx="2.5" ry="3.6" fill="#f0c020"/>
<ellipse cx="158.20" cy="176.70" rx="1.9" ry="2.9" fill="#e33834"/>
<ellipse cx="158.20" cy="186.10" rx="5.0" ry="3.4" fill="#2c5fd0"/>
<ellipse cx="158.20" cy="186.10" rx="4.0" ry="2.6" fill="#22b2e2"/>
<circle cx="155.40" cy="186.10" r="1.7" fill="#50c040"/>
<circle cx="155.40" cy="186.10" r="1.15" fill="#e33834"/>
<circle cx="161.00" cy="186.10" r="1.7" fill="#50c040"/>
<circle cx="161.00" cy="186.10" r="1.15" fill="#e33834"/>
<rect x="156.00" y="181.50" width="4.4" height="1.0" fill="#e0e0e0"/>
<path d="M168.60,190.80 C168.80,198.10 169.80,203.31 169.60,211.65" stroke="#cfcfcf" stroke-width="0.9" fill="none" stroke-linecap="round"/>
<path d="M168.60,168.30 L169.51,168.90 L170.42,170.30 L171.07,172.30 L171.46,173.80 L172.37,174.80 L172.11,175.60 L173.28,176.90 L173.80,179.30 L173.93,183.30 L173.93,187.30 L173.67,189.60 L172.63,190.80 L170.16,191.30 L167.04,191.30 L164.57,190.80 L163.53,189.60 L163.27,187.30 L163.27,183.30 L163.40,179.30 L163.92,176.90 L165.09,175.60 L164.83,174.80 L165.74,173.80 L166.13,172.30 L166.78,170.30 L167.69,168.90 Z" fill="#5a2b9c"/>
<ellipse cx="168.60" cy="176.50" rx="3.6" ry="5.0" fill="#2c5fd0"/>
<ellipse cx="168.60" cy="176.70" rx="2.8" ry="4.0" fill="#22b2e2"/>
<ellipse cx="168.60" cy="176.90" rx="1.3" ry="2.4" fill="#86cc3a"/>
<ellipse cx="168.60" cy="186.10" rx="5.0" ry="3.4" fill="#2c5fd0"/>
<ellipse cx="168.60" cy="186.10" rx="4.0" ry="2.6" fill="#22b2e2"/>
<circle cx="165.80" cy="186.10" r="1.7" fill="#50c040"/>
<circle cx="165.80" cy="186.10" r="1.15" fill="#e33834"/>
<circle cx="171.40" cy="186.10" r="1.7" fill="#50c040"/>
<circle cx="171.40" cy="186.10" r="1.15" fill="#e33834"/>
<rect x="166.40" y="181.50" width="4.4" height="1.0" fill="#e0e0e0"/>
<path d="M179.00,190.80 C179.50,198.10 182.00,203.31 181.50,211.65" stroke="#cfcfcf" stroke-width="0.9" fill="none" stroke-linecap="round"/>
<path d="M179.00,168.30 L179.91,168.90 L180.82,170.30 L181.47,172.30 L181.86,173.80 L182.77,174.80 L182.51,175.60 L183.68,176.90 L184.20,179.30 L184.33,183.30 L184.33,187.30 L184.07,189.60 L183.03,190.80 L180.56,191.30 L177.44,191.30 L174.97,190.80 L173.93,189.60 L173.67,187.30 L173.67,183.30 L173.80,179.30 L174.32,176.90 L175.49,175.60 L175.23,174.80 L176.14,173.80 L176.53,172.30 L177.18,170.30 L178.09,168.90 Z" fill="#5a2b9c"/>
<ellipse cx="179.00" cy="176.50" rx="3.6" ry="5.0" fill="#2c5fd0"/>
<ellipse cx="179.00" cy="176.70" rx="2.8" ry="4.0" fill="#22b2e2"/>
<ellipse cx="179.00" cy="176.50" rx="2.5" ry="3.6" fill="#f0c020"/>
<ellipse cx="179.00" cy="176.70" rx="1.9" ry="2.9" fill="#e33834"/>
<ellipse cx="179.00" cy="186.10" rx="5.0" ry="3.4" fill="#2c5fd0"/>
<ellipse cx="179.00" cy="186.10" rx="4.0" ry="2.6" fill="#22b2e2"/>
<circle cx="176.20" cy="186.10" r="1.7" fill="#50c040"/>
<circle cx="176.20" cy="186.10" r="1.15" fill="#e33834"/>
<circle cx="181.80" cy="186.10" r="1.7" fill="#50c040"/>
<circle cx="181.80" cy="186.10" r="1.15" fill="#e33834"/>
<rect x="176.80" y="181.50" width="4.4" height="1.0" fill="#e0e0e0"/>
<path d="M189.40,190.80 C189.40,198.10 189.40,203.31 189.40,211.65" stroke="#cfcfcf" stroke-width="0.9" fill="none" stroke-linecap="round"/>
<path d="M189.40,168.30 L190.31,168.90 L191.22,170.30 L191.87,172.30 L192.26,173.80 L193.17,174.80 L192.91,175.60 L194.08,176.90 L194.60,179.30 L194.73,183.30 L194.73,187.30 L194.47,189.60 L193.43,190.80 L190.96,191.30 L187.84,191.30 L185.37,190.80 L184.33,189.60 L184.07,187.30 L184.07,183.30 L184.20,179.30 L184.72,176.90 L185.89,175.60 L185.63,174.80 L186.54,173.80 L186.93,172.30 L187.58,170.30 L188.49,168.90 Z" fill="#5a2b9c"/>
<ellipse cx="189.40" cy="176.50" rx="3.6" ry="5.0" fill="#2c5fd0"/>
<ellipse cx="189.40" cy="176.70" rx="2.8" ry="4.0" fill="#22b2e2"/>
<ellipse cx="189.40" cy="176.90" rx="1.3" ry="2.4" fill="#86cc3a"/>
<ellipse cx="189.40" cy="186.10" rx="5.0" ry="3.4" fill="#2c5fd0"/>
<ellipse cx="189.40" cy="186.10" rx="4.0" ry="2.6" fill="#22b2e2"/>
<circle cx="186.60" cy="186.10" r="1.7" fill="#50c040"/>
<circle cx="186.60" cy="186.10" r="1.15" fill="#e33834"/>
<circle cx="192.20" cy="186.10" r="1.7" fill="#50c040"/>
<circle cx="192.20" cy="186.10" r="1.15" fill="#e33834"/>
<rect x="187.20" y="181.50" width="4.4" height="1.0" fill="#e0e0e0"/>
<path d="M199.80,190.80 C200.00,198.10 201.00,203.31 200.80,211.65" stroke="#cfcfcf" stroke-width="0.9" fill="none" stroke-linecap="round"/>
<path d="M199.80,168.30 L200.71,168.90 L201.62,170.30 L202.27,172.30 L202.66,173.80 L203.57,174.80 L203.31,175.60 L204.48,176.90 L205.00,179.30 L205.13,183.30 L205.13,187.30 L204.87,189.60 L203.83,190.80 L201.36,191.30 L198.24,191.30 L195.77,190.80 L194.73,189.60 L194.47,187.30 L194.47,183.30 L194.60,179.30 L195.12,176.90 L196.29,175.60 L196.03,174.80 L196.94,173.80 L197.33,172.30 L197.98,170.30 L198.89,168.90 Z" fill="#5a2b9c"/>
<ellipse cx="199.80" cy="176.50" rx="3.6" ry="5.0" fill="#2c5fd0"/>
<ellipse cx="199.80" cy="176.70" rx="2.8" ry="4.0" fill="#22b2e2"/>
<ellipse cx="199.80" cy="176.50" rx="1.8" ry="2.6" fill="#90d030"/>
<circle cx="199.80" cy="176.30" r="0.9" fill="#e84020"/>
<ellipse cx="199.80" cy="186.10" rx="5.0" ry="3.4" fill="#2c5fd0"/>
<ellipse cx="199.80" cy="186.10" rx="4.0" ry="2.6" fill="#22b2e2"/>
<circle cx="197.00" cy="186.10" r="1.7" fill="#50c040"/>
<circle cx="197.00" cy="186.10" r="1.15" fill="#e33834"/>
<circle cx="202.60" cy="186.10" r="1.7" fill="#50c040"/>
<circle cx="202.60" cy="186.10" r="1.15" fill="#e33834"/>
<rect x="197.60" y="181.50" width="4.4" height="1.0" fill="#e0e0e0"/>
</g></g>
<g>
<rect x="32.00" y="217.30" width="55.70" height="46.50" fill="url(#d14bg)" />
<g filter="url(#bl)">
<path d="M39.00,238.70 C39.20,245.56 40.20,250.46 40.00,258.30" stroke="#2aa0d8" stroke-width="1.1" fill="none" stroke-linecap="round"/>
<path d="M39.00,219.70 L39.78,220.27 L40.57,221.60 L41.13,223.50 L41.46,224.93 L42.25,225.88 L42.02,226.64 L43.03,227.87 L43.48,230.15 L43.59,233.95 L43.59,237.75 L43.37,239.94 L42.47,241.08 L40.34,241.55 L37.66,241.55 L35.53,241.08 L34.63,239.94 L34.41,237.75 L34.41,233.95 L34.52,230.15 L34.97,227.87 L35.98,226.64 L35.75,225.88 L36.54,224.93 L36.87,223.50 L37.43,221.60 L38.22,220.27 Z" fill="#2a80d0" stroke="#2a80d0" stroke-width="2.8" stroke-linejoin="round" opacity="0.6"/>
<path d="M39.00,219.70 L39.78,220.27 L40.57,221.60 L41.13,223.50 L41.46,224.93 L42.25,225.88 L42.02,226.64 L43.03,227.87 L43.48,230.15 L43.59,233.95 L43.59,237.75 L43.37,239.94 L42.47,241.08 L40.34,241.55 L37.66,241.55 L35.53,241.08 L34.63,239.94 L34.41,237.75 L34.41,233.95 L34.52,230.15 L34.97,227.87 L35.98,226.64 L35.75,225.88 L36.54,224.93 L36.87,223.50 L37.43,221.60 L38.22,220.27 Z" fill="#26b8e0" stroke="#26b8e0" stroke-width="1.8" stroke-linejoin="round"/>
<path d="M39.00,219.70 L39.78,220.27 L40.57,221.60 L41.13,223.50 L41.46,224.93 L42.25,225.88 L42.02,226.64 L43.03,227.87 L43.48,230.15 L43.59,233.95 L43.59,237.75 L43.37,239.94 L42.47,241.08 L40.34,241.55 L37.66,241.55 L35.53,241.08 L34.63,239.94 L34.41,237.75 L34.41,233.95 L34.52,230.15 L34.97,227.87 L35.98,226.64 L35.75,225.88 L36.54,224.93 L36.87,223.50 L37.43,221.60 L38.22,220.27 Z" fill="#80c850" stroke="#80c850" stroke-width="1.0" stroke-linejoin="round"/>
<path d="M39.00,219.70 L39.78,220.27 L40.57,221.60 L41.13,223.50 L41.46,224.93 L42.25,225.88 L42.02,226.64 L43.03,227.87 L43.48,230.15 L43.59,233.95 L43.59,237.75 L43.37,239.94 L42.47,241.08 L40.34,241.55 L37.66,241.55 L35.53,241.08 L34.63,239.94 L34.41,237.75 L34.41,233.95 L34.52,230.15 L34.97,227.87 L35.98,226.64 L35.75,225.88 L36.54,224.93 L36.87,223.50 L37.43,221.60 L38.22,220.27 Z" fill="#e33834" stroke="#e33834" stroke-width="0.6" stroke-linejoin="round"/>
<circle cx="38.50" cy="230.70" r="0.8" fill="#f0d020"/>
<path d="M49.40,238.70 C49.20,245.56 48.20,250.46 48.40,258.30" stroke="#2aa0d8" stroke-width="1.1" fill="none" stroke-linecap="round"/>
<path d="M49.40,219.70 L50.18,220.27 L50.97,221.60 L51.53,223.50 L51.86,224.93 L52.65,225.88 L52.42,226.64 L53.43,227.87 L53.88,230.15 L53.99,233.95 L53.99,237.75 L53.77,239.94 L52.87,241.08 L50.74,241.55 L48.06,241.55 L45.93,241.08 L45.03,239.94 L44.81,237.75 L44.81,233.95 L44.92,230.15 L45.37,227.87 L46.38,226.64 L46.15,225.88 L46.94,224.93 L47.27,223.50 L47.83,221.60 L48.62,220.27 Z" fill="#2a80d0" stroke="#2a80d0" stroke-width="2.8" stroke-linejoin="round" opacity="0.6"/>
<path d="M49.40,219.70 L50.18,220.27 L50.97,221.60 L51.53,223.50 L51.86,224.93 L52.65,225.88 L52.42,226.64 L53.43,227.87 L53.88,230.15 L53.99,233.95 L53.99,237.75 L53.77,239.94 L52.87,241.08 L50.74,241.55 L48.06,241.55 L45.93,241.08 L45.03,239.94 L44.81,237.75 L44.81,233.95 L44.92,230.15 L45.37,227.87 L46.38,226.64 L46.15,225.88 L46.94,224.93 L47.27,223.50 L47.83,221.60 L48.62,220.27 Z" fill="#26b8e0" stroke="#26b8e0" stroke-width="1.8" stroke-linejoin="round"/>
<path d="M49.40,219.70 L50.18,220.27 L50.97,221.60 L51.53,223.50 L51.86,224.93 L52.65,225.88 L52.42,226.64 L53.43,227.87 L53.88,230.15 L53.99,233.95 L53.99,237.75 L53.77,239.94 L52.87,241.08 L50.74,241.55 L48.06,241.55 L45.93,241.08 L45.03,239.94 L44.81,237.75 L44.81,233.95 L44.92,230.15 L45.37,227.87 L46.38,226.64 L46.15,225.88 L46.94,224.93 L47.27,223.50 L47.83,221.60 L48.62,220.27 Z" fill="#80c850" stroke="#80c850" stroke-width="1.0" stroke-linejoin="round"/>
<path d="M49.40,219.70 L50.18,220.27 L50.97,221.60 L51.53,223.50 L51.86,224.93 L52.65,225.88 L52.42,226.64 L53.43,227.87 L53.88,230.15 L53.99,233.95 L53.99,237.75 L53.77,239.94 L52.87,241.08 L50.74,241.55 L48.06,241.55 L45.93,241.08 L45.03,239.94 L44.81,237.75 L44.81,233.95 L44.92,230.15 L45.37,227.87 L46.38,226.64 L46.15,225.88 L46.94,224.93 L47.27,223.50 L47.83,221.60 L48.62,220.27 Z" fill="#e33834" stroke="#e33834" stroke-width="0.6" stroke-linejoin="round"/>
<circle cx="48.90" cy="230.70" r="0.8" fill="#f0d020"/>
<path d="M59.80,238.70 C60.20,245.56 62.20,250.46 61.80,258.30" stroke="#2aa0d8" stroke-width="1.1" fill="none" stroke-linecap="round"/>
<path d="M59.80,219.70 L60.58,220.27 L61.37,221.60 L61.93,223.50 L62.26,224.93 L63.05,225.88 L62.82,226.64 L63.83,227.87 L64.28,230.15 L64.39,233.95 L64.39,237.75 L64.17,239.94 L63.27,241.08 L61.14,241.55 L58.46,241.55 L56.33,241.08 L55.43,239.94 L55.21,237.75 L55.21,233.95 L55.32,230.15 L55.77,227.87 L56.78,226.64 L56.55,225.88 L57.34,224.93 L57.67,223.50 L58.23,221.60 L59.02,220.27 Z" fill="#2a80d0" stroke="#2a80d0" stroke-width="2.8" stroke-linejoin="round" opacity="0.6"/>
<path d="M59.80,219.70 L60.58,220.27 L61.37,221.60 L61.93,223.50 L62.26,224.93 L63.05,225.88 L62.82,226.64 L63.83,227.87 L64.28,230.15 L64.39,233.95 L64.39,237.75 L64.17,239.94 L63.27,241.08 L61.14,241.55 L58.46,241.55 L56.33,241.08 L55.43,239.94 L55.21,237.75 L55.21,233.95 L55.32,230.15 L55.77,227.87 L56.78,226.64 L56.55,225.88 L57.34,224.93 L57.67,223.50 L58.23,221.60 L59.02,220.27 Z" fill="#26b8e0" stroke="#26b8e0" stroke-width="1.8" stroke-linejoin="round"/>
<path d="M59.80,219.70 L60.58,220.27 L61.37,221.60 L61.93,223.50 L62.26,224.93 L63.05,225.88 L62.82,226.64 L63.83,227.87 L64.28,230.15 L64.39,233.95 L64.39,237.75 L64.17,239.94 L63.27,241.08 L61.14,241.55 L58.46,241.55 L56.33,241.08 L55.43,239.94 L55.21,237.75 L55.21,233.95 L55.32,230.15 L55.77,227.87 L56.78,226.64 L56.55,225.88 L57.34,224.93 L57.67,223.50 L58.23,221.60 L59.02,220.27 Z" fill="#80c850" stroke="#80c850" stroke-width="1.0" stroke-linejoin="round"/>
<path d="M59.80,219.70 L60.58,220.27 L61.37,221.60 L61.93,223.50 L62.26,224.93 L63.05,225.88 L62.82,226.64 L63.83,227.87 L64.28,230.15 L64.39,233.95 L64.39,237.75 L64.17,239.94 L63.27,241.08 L61.14,241.55 L58.46,241.55 L56.33,241.08 L55.43,239.94 L55.21,237.75 L55.21,233.95 L55.32,230.15 L55.77,227.87 L56.78,226.64 L56.55,225.88 L57.34,224.93 L57.67,223.50 L58.23,221.60 L59.02,220.27 Z" fill="#e33834" stroke="#e33834" stroke-width="0.6" stroke-linejoin="round"/>
<circle cx="59.30" cy="230.70" r="0.8" fill="#f0d020"/>
<path d="M70.20,238.70 C70.20,245.56 70.20,250.46 70.20,258.30" stroke="#2aa0d8" stroke-width="1.1" fill="none" stroke-linecap="round"/>
<path d="M70.20,219.70 L70.98,220.27 L71.77,221.60 L72.33,223.50 L72.66,224.93 L73.45,225.88 L73.22,226.64 L74.23,227.87 L74.68,230.15 L74.79,233.95 L74.79,237.75 L74.57,239.94 L73.67,241.08 L71.54,241.55 L68.86,241.55 L66.73,241.08 L65.83,239.94 L65.61,237.75 L65.61,233.95 L65.72,230.15 L66.17,227.87 L67.18,226.64 L66.95,225.88 L67.74,224.93 L68.07,223.50 L68.63,221.60 L69.42,220.27 Z" fill="#2a80d0" stroke="#2a80d0" stroke-width="2.8" stroke-linejoin="round" opacity="0.6"/>
<path d="M70.20,219.70 L70.98,220.27 L71.77,221.60 L72.33,223.50 L72.66,224.93 L73.45,225.88 L73.22,226.64 L74.23,227.87 L74.68,230.15 L74.79,233.95 L74.79,237.75 L74.57,239.94 L73.67,241.08 L71.54,241.55 L68.86,241.55 L66.73,241.08 L65.83,239.94 L65.61,237.75 L65.61,233.95 L65.72,230.15 L66.17,227.87 L67.18,226.64 L66.95,225.88 L67.74,224.93 L68.07,223.50 L68.63,221.60 L69.42,220.27 Z" fill="#26b8e0" stroke="#26b8e0" stroke-width="1.8" stroke-linejoin="round"/>
<path d="M70.20,219.70 L70.98,220.27 L71.77,221.60 L72.33,223.50 L72.66,224.93 L73.45,225.88 L73.22,226.64 L74.23,227.87 L74.68,230.15 L74.79,233.95 L74.79,237.75 L74.57,239.94 L73.67,241.08 L71.54,241.55 L68.86,241.55 L66.73,241.08 L65.83,239.94 L65.61,237.75 L65.61,233.95 L65.72,230.15 L66.17,227.87 L67.18,226.64 L66.95,225.88 L67.74,224.93 L68.07,223.50 L68.63,221.60 L69.42,220.27 Z" fill="#80c850" stroke="#80c850" stroke-width="1.0" stroke-linejoin="round"/>
<path d="M70.20,219.70 L70.98,220.27 L71.77,221.60 L72.33,223.50 L72.66,224.93 L73.45,225.88 L73.22,226.64 L74.23,227.87 L74.68,230.15 L74.79,233.95 L74.79,237.75 L74.57,239.94 L73.67,241.08 L71.54,241.55 L68.86,241.55 L66.73,241.08 L65.83,239.94 L65.61,237.75 L65.61,233.95 L65.72,230.15 L66.17,227.87 L67.18,226.64 L66.95,225.88 L67.74,224.93 L68.07,223.50 L68.63,221.60 L69.42,220.27 Z" fill="#e33834" stroke="#e33834" stroke-width="0.6" stroke-linejoin="round"/>
<circle cx="69.70" cy="230.70" r="0.8" fill="#f0d020"/>
<path d="M80.60,238.70 C80.40,245.56 79.40,250.46 79.60,258.30" stroke="#2aa0d8" stroke-width="1.1" fill="none" stroke-linecap="round"/>
<path d="M80.60,219.70 L81.38,220.27 L82.17,221.60 L82.73,223.50 L83.06,224.93 L83.85,225.88 L83.62,226.64 L84.63,227.87 L85.08,230.15 L85.19,233.95 L85.19,237.75 L84.97,239.94 L84.07,241.08 L81.94,241.55 L79.26,241.55 L77.13,241.08 L76.23,239.94 L76.01,237.75 L76.01,233.95 L76.12,230.15 L76.57,227.87 L77.58,226.64 L77.35,225.88 L78.14,224.93 L78.47,223.50 L79.03,221.60 L79.82,220.27 Z" fill="#2a80d0" stroke="#2a80d0" stroke-width="2.8" stroke-linejoin="round" opacity="0.6"/>
<path d="M80.60,219.70 L81.38,220.27 L82.17,221.60 L82.73,223.50 L83.06,224.93 L83.85,225.88 L83.62,226.64 L84.63,227.87 L85.08,230.15 L85.19,233.95 L85.19,237.75 L84.97,239.94 L84.07,241.08 L81.94,241.55 L79.26,241.55 L77.13,241.08 L76.23,239.94 L76.01,237.75 L76.01,233.95 L76.12,230.15 L76.57,227.87 L77.58,226.64 L77.35,225.88 L78.14,224.93 L78.47,223.50 L79.03,221.60 L79.82,220.27 Z" fill="#26b8e0" stroke="#26b8e0" stroke-width="1.8" stroke-linejoin="round"/>
<path d="M80.60,219.70 L81.38,220.27 L82.17,221.60 L82.73,223.50 L83.06,224.93 L83.85,225.88 L83.62,226.64 L84.63,227.87 L85.08,230.15 L85.19,233.95 L85.19,237.75 L84.97,239.94 L84.07,241.08 L81.94,241.55 L79.26,241.55 L77.13,241.08 L76.23,239.94 L76.01,237.75 L76.01,233.95 L76.12,230.15 L76.57,227.87 L77.58,226.64 L77.35,225.88 L78.14,224.93 L78.47,223.50 L79.03,221.60 L79.82,220.27 Z" fill="#80c850" stroke="#80c850" stroke-width="1.0" stroke-linejoin="round"/>
<path d="M80.60,219.70 L81.38,220.27 L82.17,221.60 L82.73,223.50 L83.06,224.93 L83.85,225.88 L83.62,226.64 L84.63,227.87 L85.08,230.15 L85.19,233.95 L85.19,237.75 L84.97,239.94 L84.07,241.08 L81.94,241.55 L79.26,241.55 L77.13,241.08 L76.23,239.94 L76.01,237.75 L76.01,233.95 L76.12,230.15 L76.57,227.87 L77.58,226.64 L77.35,225.88 L78.14,224.93 L78.47,223.50 L79.03,221.60 L79.82,220.27 Z" fill="#e33834" stroke="#e33834" stroke-width="0.6" stroke-linejoin="round"/>
<circle cx="80.10" cy="230.70" r="0.8" fill="#f0d020"/>
</g></g>
<g>
<rect x="91.15" y="217.30" width="54.65" height="46.50" fill="#6a6965" />
<g filter="url(#bl)">
<path d="M98.15,240.20 C97.85,247.59 96.35,252.86 96.65,261.30" stroke="#cfcfcf" stroke-width="0.9" fill="none" stroke-linecap="round"/>
<line x1="94.55" y1="227.20" x2="93.15" y2="228.00" stroke="#b8b8b8" stroke-width="0.6" />
<line x1="94.55" y1="238.70" x2="92.85" y2="240.50" stroke="#b8b8b8" stroke-width="0.6" />
<line x1="101.75" y1="227.20" x2="103.15" y2="228.00" stroke="#b8b8b8" stroke-width="0.6" />
<line x1="101.75" y1="238.70" x2="103.45" y2="240.50" stroke="#b8b8b8" stroke-width="0.6" />
<path d="M98.15,217.70 L98.85,218.30 L99.55,219.70 L100.05,221.70 L100.35,223.20 L101.05,224.20 L100.85,225.00 L101.75,226.30 L102.15,228.70 L102.25,232.70 L102.25,236.70 L102.05,239.00 L101.25,240.20 L99.35,240.70 L96.95,240.70 L95.05,240.20 L94.25,239.00 L94.05,236.70 L94.05,232.70 L94.15,228.70 L94.55,226.30 L95.45,225.00 L95.25,224.20 L95.95,223.20 L96.25,221.70 L96.75,219.70 L97.45,218.30 Z" fill="url(#mw)"/>
<ellipse cx="98.15" cy="219.90" rx="1.1" ry="1.9" fill="#8a3ab8"/>
<circle cx="98.15" cy="230.70" r="1.0" fill="#7a34a8"/>
<path d="M108.55,240.20 C108.65,247.59 109.15,252.86 109.05,261.30" stroke="#cfcfcf" stroke-width="0.9" fill="none" stroke-linecap="round"/>
<line x1="104.95" y1="227.20" x2="103.55" y2="228.00" stroke="#b8b8b8" stroke-width="0.6" />
<line x1="104.95" y1="238.70" x2="103.25" y2="240.50" stroke="#b8b8b8" stroke-width="0.6" />
<line x1="112.15" y1="227.20" x2="113.55" y2="228.00" stroke="#b8b8b8" stroke-width="0.6" />
<line x1="112.15" y1="238.70" x2="113.85" y2="240.50" stroke="#b8b8b8" stroke-width="0.6" />
<path d="M108.55,217.70 L109.25,218.30 L109.95,219.70 L110.45,221.70 L110.75,223.20 L111.45,224.20 L111.25,225.00 L112.15,226.30 L112.55,228.70 L112.65,232.70 L112.65,236.70 L112.45,239.00 L111.65,240.20 L109.75,240.70 L107.35,240.70 L105.45,240.20 L104.65,239.00 L104.45,236.70 L104.45,232.70 L104.55,228.70 L104.95,226.30 L105.85,225.00 L105.65,224.20 L106.35,223.20 L106.65,221.70 L107.15,219.70 L107.85,218.30 Z" fill="url(#mw)"/>
<ellipse cx="108.55" cy="219.90" rx="1.1" ry="1.9" fill="#8a3ab8"/>
<circle cx="109.35" cy="229.20" r="1.2" fill="#7a34a8"/>
<circle cx="110.55" cy="233.20" r="1.20" fill="#6a2aa0"/>
<path d="M118.95,240.20 C118.95,247.59 118.95,252.86 118.95,261.30" stroke="#cfcfcf" stroke-width="0.9" fill="none" stroke-linecap="round"/>
<line x1="115.35" y1="227.20" x2="113.95" y2="228.00" stroke="#b8b8b8" stroke-width="0.6" />
<line x1="115.35" y1="238.70" x2="113.65" y2="240.50" stroke="#b8b8b8" stroke-width="0.6" />
<line x1="122.55" y1="227.20" x2="123.95" y2="228.00" stroke="#b8b8b8" stroke-width="0.6" />
<line x1="122.55" y1="238.70" x2="124.25" y2="240.50" stroke="#b8b8b8" stroke-width="0.6" />
<path d="M118.95,217.70 L119.65,218.30 L120.35,219.70 L120.85,221.70 L121.15,223.20 L121.85,224.20 L121.65,225.00 L122.55,226.30 L122.95,228.70 L123.05,232.70 L123.05,236.70 L122.85,239.00 L122.05,240.20 L120.15,240.70 L117.75,240.70 L115.85,240.20 L115.05,239.00 L114.85,236.70 L114.85,232.70 L114.95,228.70 L115.35,226.30 L116.25,225.00 L116.05,224.20 L116.75,223.20 L117.05,221.70 L117.55,219.70 L118.25,218.30 Z" fill="url(#mw)"/>
<ellipse cx="118.95" cy="219.90" rx="1.1" ry="1.9" fill="#8a3ab8"/>
<circle cx="117.75" cy="229.20" r="1.2" fill="#7a34a8"/>
<circle cx="120.95" cy="233.20" r="0.90" fill="#6a2aa0"/>
<path d="M129.35,240.20 C129.55,247.59 130.55,252.86 130.35,261.30" stroke="#cfcfcf" stroke-width="0.9" fill="none" stroke-linecap="round"/>
<line x1="125.75" y1="227.20" x2="124.35" y2="228.00" stroke="#b8b8b8" stroke-width="0.6" />
<line x1="125.75" y1="238.70" x2="124.05" y2="240.50" stroke="#b8b8b8" stroke-width="0.6" />
<line x1="132.95" y1="227.20" x2="134.35" y2="228.00" stroke="#b8b8b8" stroke-width="0.6" />
<line x1="132.95" y1="238.70" x2="134.65" y2="240.50" stroke="#b8b8b8" stroke-width="0.6" />
<path d="M129.35,217.70 L130.05,218.30 L130.75,219.70 L131.25,221.70 L131.55,223.20 L132.25,224.20 L132.05,225.00 L132.95,226.30 L133.35,228.70 L133.45,232.70 L133.45,236.70 L133.25,239.00 L132.45,240.20 L130.55,240.70 L128.15,240.70 L126.25,240.20 L125.45,239.00 L125.25,236.70 L125.25,232.70 L125.35,228.70 L125.75,226.30 L126.65,225.00 L126.45,224.20 L127.15,223.20 L127.45,221.70 L127.95,219.70 L128.65,218.30 Z" fill="url(#mw)"/>
<ellipse cx="129.35" cy="219.90" rx="1.1" ry="1.9" fill="#8a3ab8"/>
<circle cx="130.15" cy="229.20" r="1.2" fill="#7a34a8"/>
<circle cx="131.35" cy="233.20" r="1.20" fill="#6a2aa0"/>
<path d="M139.75,240.20 C139.65,247.59 139.15,252.86 139.25,261.30" stroke="#cfcfcf" stroke-width="0.9" fill="none" stroke-linecap="round"/>
<line x1="136.15" y1="227.20" x2="134.75" y2="228.00" stroke="#b8b8b8" stroke-width="0.6" />
<line x1="136.15" y1="238.70" x2="134.45" y2="240.50" stroke="#b8b8b8" stroke-width="0.6" />
<line x1="143.35" y1="227.20" x2="144.75" y2="228.00" stroke="#b8b8b8" stroke-width="0.6" />
<line x1="143.35" y1="238.70" x2="145.05" y2="240.50" stroke="#b8b8b8" stroke-width="0.6" />
<path d="M139.75,217.70 L140.45,218.30 L141.15,219.70 L141.65,221.70 L141.95,223.20 L142.65,224.20 L142.45,225.00 L143.35,226.30 L143.75,228.70 L143.85,232.70 L143.85,236.70 L143.65,239.00 L142.85,240.20 L140.95,240.70 L138.55,240.70 L136.65,240.20 L135.85,239.00 L135.65,236.70 L135.65,232.70 L135.75,228.70 L136.15,226.30 L137.05,225.00 L136.85,224.20 L137.55,223.20 L137.85,221.70 L138.35,219.70 L139.05,218.30 Z" fill="url(#mw)"/>
<ellipse cx="139.75" cy="219.90" rx="1.1" ry="1.9" fill="#8a3ab8"/>
<circle cx="138.55" cy="229.20" r="1.2" fill="#7a34a8"/>
<circle cx="141.75" cy="233.20" r="0.90" fill="#6a2aa0"/>
</g></g>
<g>
<rect x="151.50" y="217.10" width="55.10" height="46.55" fill="#6a6965" />
<path d="M151.50,217.10 H194.00 V243.10 Q194.00,247.60 189.50,247.60 H155.50 Q151.50,247.60 151.50,243.10 Z" fill="#7a2e84" filter="url(#bl)"/>
<g filter="url(#bl)">
<path d="M158.50,239.50 C158.70,246.90 159.70,252.19 159.50,260.65" stroke="#7a3aa8" stroke-width="1.2" fill="none" stroke-linecap="round"/>
<ellipse cx="158.50" cy="230.30" rx="5.6" ry="12.6" fill="#26b0e0"/>
<path d="M158.50,218.90 C162.00,219.20 163.50,225.50 163.30,231.50 C163.30,237.50 162.00,241.10 158.50,241.30 C155.00,241.10 153.70,237.50 153.70,231.50 C153.50,225.50 155.00,219.20 158.50,218.90 Z" fill="#e33834"/>
<path d="M153.70,232.50 Q158.50,229.00 163.30,232.00" stroke="#26b0d8" stroke-width="1.6" fill="none"/>
<path d="M153.70,233.00 Q158.50,230.30 163.30,232.70" stroke="#60c060" stroke-width="0.6" fill="none"/>
<path d="M168.90,239.50 C168.70,246.90 167.70,252.19 167.90,260.65" stroke="#7a3aa8" stroke-width="1.2" fill="none" stroke-linecap="round"/>
<ellipse cx="168.90" cy="230.30" rx="5.6" ry="12.6" fill="#26b0e0"/>
<path d="M168.90,218.90 C172.40,219.20 173.90,225.50 173.70,231.50 C173.70,237.50 172.40,241.10 168.90,241.30 C165.40,241.10 164.10,237.50 164.10,231.50 C163.90,225.50 165.40,219.20 168.90,218.90 Z" fill="#e33834"/>
<path d="M164.10,232.50 Q168.90,229.00 173.70,232.00" stroke="#26b0d8" stroke-width="1.6" fill="none"/>
<path d="M164.10,233.00 Q168.90,230.30 173.70,232.70" stroke="#60c060" stroke-width="0.6" fill="none"/>
<path d="M179.30,239.50 C179.70,246.90 181.70,252.19 181.30,260.65" stroke="#7a3aa8" stroke-width="1.2" fill="none" stroke-linecap="round"/>
<ellipse cx="179.30" cy="230.30" rx="5.6" ry="12.6" fill="#26b0e0"/>
<path d="M179.30,218.90 C182.80,219.20 184.30,225.50 184.10,231.50 C184.10,237.50 182.80,241.10 179.30,241.30 C175.80,241.10 174.50,237.50 174.50,231.50 C174.30,225.50 175.80,219.20 179.30,218.90 Z" fill="#e33834"/>
<path d="M174.50,232.50 Q179.30,229.00 184.10,232.00" stroke="#26b0d8" stroke-width="1.6" fill="none"/>
<path d="M174.50,233.00 Q179.30,230.30 184.10,232.70" stroke="#60c060" stroke-width="0.6" fill="none"/>
<path d="M189.70,239.50 C189.70,246.90 189.70,252.19 189.70,260.65" stroke="#7a3aa8" stroke-width="1.2" fill="none" stroke-linecap="round"/>
<ellipse cx="189.70" cy="230.30" rx="5.6" ry="12.6" fill="#26b0e0"/>
<path d="M189.70,218.90 C193.20,219.20 194.70,225.50 194.50,231.50 C194.50,237.50 193.20,241.10 189.70,241.30 C186.20,241.10 184.90,237.50 184.90,231.50 C184.70,225.50 186.20,219.20 189.70,218.90 Z" fill="#e33834"/>
<path d="M184.90,232.50 Q189.70,229.00 194.50,232.00" stroke="#26b0d8" stroke-width="1.6" fill="none"/>
<path d="M184.90,233.00 Q189.70,230.30 194.50,232.70" stroke="#60c060" stroke-width="0.6" fill="none"/>
<path d="M200.10,240.00 C199.90,247.23 198.90,252.39 199.10,260.65" stroke="#cfcfcf" stroke-width="0.9" fill="none" stroke-linecap="round"/>
<path d="M200.10,217.50 L200.80,218.10 L201.50,219.50 L202.00,221.50 L202.30,223.00 L203.00,224.00 L202.80,224.80 L203.70,226.10 L204.10,228.50 L204.20,232.50 L204.20,236.50 L204.00,238.80 L203.20,240.00 L201.30,240.50 L198.90,240.50 L197.00,240.00 L196.20,238.80 L196.00,236.50 L196.00,232.50 L196.10,228.50 L196.50,226.10 L197.40,224.80 L197.20,224.00 L197.90,223.00 L198.20,221.50 L198.70,219.50 L199.40,218.10 Z" fill="#4a2c9a"/>
<ellipse cx="200.10" cy="224.50" rx="2.2" ry="2.6" fill="#2a50c8"/>
<ellipse cx="200.10" cy="229.00" rx="2.6" ry="1.2" fill="#22a8e0"/>
<ellipse cx="197.10" cy="235.00" rx="1.0" ry="1.2" fill="#2a70d0"/>
</g></g>
<rect x="215.70" y="150.70" width="2.40" height="74.90" fill="url(#cbar)" />
<line x1="218.20" y1="163.90" x2="219.40" y2="163.90" stroke="#888" stroke-width="0.4" />
<text x="219.80" y="164.50" font-size="1.6" fill="#888" stroke="#888" stroke-width="0.12" >6</text>
<line x1="218.20" y1="176.80" x2="219.40" y2="176.80" stroke="#888" stroke-width="0.4" />
<text x="219.80" y="177.40" font-size="1.6" fill="#888" stroke="#888" stroke-width="0.12" >6</text>
<line x1="218.20" y1="189.60" x2="219.40" y2="189.60" stroke="#888" stroke-width="0.4" />
<text x="219.80" y="190.20" font-size="1.6" fill="#888" stroke="#888" stroke-width="0.12" >6</text>
<line x1="218.20" y1="202.50" x2="219.40" y2="202.50" stroke="#888" stroke-width="0.4" />
<text x="219.80" y="203.10" font-size="1.6" fill="#888" stroke="#888" stroke-width="0.12" >6</text>
<line x1="218.20" y1="215.30" x2="219.40" y2="215.30" stroke="#888" stroke-width="0.4" />
<text x="219.80" y="215.90" font-size="1.6" fill="#888" stroke="#888" stroke-width="0.12" >6</text>
<text x="215.50" y="149.60" font-size="1.6" fill="#888" stroke="#888" stroke-width="0.12" textLength="4.50" lengthAdjust="spacingAndGlyphs" >p/sec/cm²/sr</text>
<text x="215.50" y="230.00" font-size="1.4" fill="#999" stroke="#999" stroke-width="0.12" textLength="4.50" lengthAdjust="spacingAndGlyphs" >Radiance</text>
<text x="215.50" y="232.20" font-size="1.2" fill="#999" stroke="#999" stroke-width="0.12" textLength="4.50" lengthAdjust="spacingAndGlyphs" >Min = 1e6</text>
<rect x="215.50" y="233.00" width="5.20" height="3.40" fill="none" stroke="#aaa" stroke-width="0.3"/>
<text x="252.30" y="18.20" font-size="11" fill="#231f20" stroke="#231f20" stroke-width="0.05" textLength="7.00" lengthAdjust="spacingAndGlyphs" >C</text>
<line x1="285.75" y1="43.75" x2="285.75" y2="116.90" stroke="#231f20" stroke-width="1.2" />
<line x1="285.15" y1="116.30" x2="391.75" y2="116.30" stroke="#231f20" stroke-width="1.2" />
<line x1="282.35" y1="116.30" x2="285.75" y2="116.30" stroke="#231f20" stroke-width="0.9" />
<text x="278.15" y="115.05" font-size="4.4" fill="#231f20" stroke="#231f20" stroke-width="0.12" text-anchor="end" textLength="1.80" lengthAdjust="spacingAndGlyphs" >7</text>
<text x="275.85" y="118.55" font-size="6.5" fill="#231f20" stroke="#231f20" stroke-width="0.12" text-anchor="end" textLength="5.75" lengthAdjust="spacingAndGlyphs" >10</text>
<line x1="282.35" y1="101.60" x2="285.75" y2="101.60" stroke="#231f20" stroke-width="0.9" />
<text x="278.15" y="100.35" font-size="4.4" fill="#231f20" stroke="#231f20" stroke-width="0.12" text-anchor="end" textLength="1.80" lengthAdjust="spacingAndGlyphs" >8</text>
<text x="275.85" y="103.85" font-size="6.5" fill="#231f20" stroke="#231f20" stroke-width="0.12" text-anchor="end" textLength="5.75" lengthAdjust="spacingAndGlyphs" >10</text>
<line x1="282.35" y1="86.90" x2="285.75" y2="86.90" stroke="#231f20" stroke-width="0.9" />
<text x="278.15" y="85.65" font-size="4.4" fill="#231f20" stroke="#231f20" stroke-width="0.12" text-anchor="end" textLength="1.80" lengthAdjust="spacingAndGlyphs" >9</text>
<text x="275.85" y="89.15" font-size="6.5" fill="#231f20" stroke="#231f20" stroke-width="0.12" text-anchor="end" textLength="5.75" lengthAdjust="spacingAndGlyphs" >10</text>
<line x1="282.35" y1="72.20" x2="285.75" y2="72.20" stroke="#231f20" stroke-width="0.9" />
<text x="278.15" y="70.95" font-size="4.4" fill="#231f20" stroke="#231f20" stroke-width="0.12" text-anchor="end" textLength="3.50" lengthAdjust="spacingAndGlyphs" >10</text>
<text x="274.15" y="74.45" font-size="6.5" fill="#231f20" stroke="#231f20" stroke-width="0.12" text-anchor="end" textLength="5.75" lengthAdjust="spacingAndGlyphs" >10</text>
<line x1="282.35" y1="57.50" x2="285.75" y2="57.50" stroke="#231f20" stroke-width="0.9" />
<text x="278.15" y="56.25" font-size="4.4" fill="#231f20" stroke="#231f20" stroke-width="0.12" text-anchor="end" textLength="3.50" lengthAdjust="spacingAndGlyphs" >11</text>
<text x="274.15" y="59.75" font-size="6.5" fill="#231f20" stroke="#231f20" stroke-width="0.12" text-anchor="end" textLength="5.75" lengthAdjust="spacingAndGlyphs" >10</text>
<line x1="284.15" y1="111.87" x2="285.75" y2="111.87" stroke="#231f20" stroke-width="0.55" />
<line x1="284.15" y1="109.29" x2="285.75" y2="109.29" stroke="#231f20" stroke-width="0.55" />
<line x1="284.15" y1="107.45" x2="285.75" y2="107.45" stroke="#231f20" stroke-width="0.55" />
<line x1="284.15" y1="106.03" x2="285.75" y2="106.03" stroke="#231f20" stroke-width="0.55" />
<line x1="284.15" y1="104.86" x2="285.75" y2="104.86" stroke="#231f20" stroke-width="0.55" />
<line x1="284.15" y1="103.88" x2="285.75" y2="103.88" stroke="#231f20" stroke-width="0.55" />
<line x1="284.15" y1="103.02" x2="285.75" y2="103.02" stroke="#231f20" stroke-width="0.55" />
<line x1="284.15" y1="102.27" x2="285.75" y2="102.27" stroke="#231f20" stroke-width="0.55" />
<line x1="284.15" y1="97.17" x2="285.75" y2="97.17" stroke="#231f20" stroke-width="0.55" />
<line x1="284.15" y1="94.59" x2="285.75" y2="94.59" stroke="#231f20" stroke-width="0.55" />
<line x1="284.15" y1="92.75" x2="285.75" y2="92.75" stroke="#231f20" stroke-width="0.55" />
<line x1="284.15" y1="91.33" x2="285.75" y2="91.33" stroke="#231f20" stroke-width="0.55" />
<line x1="284.15" y1="90.16" x2="285.75" y2="90.16" stroke="#231f20" stroke-width="0.55" />
<line x1="284.15" y1="89.18" x2="285.75" y2="89.18" stroke="#231f20" stroke-width="0.55" />
<line x1="284.15" y1="88.32" x2="285.75" y2="88.32" stroke="#231f20" stroke-width="0.55" />
<line x1="284.15" y1="87.57" x2="285.75" y2="87.57" stroke="#231f20" stroke-width="0.55" />
<line x1="284.15" y1="82.47" x2="285.75" y2="82.47" stroke="#231f20" stroke-width="0.55" />
<line x1="284.15" y1="79.89" x2="285.75" y2="79.89" stroke="#231f20" stroke-width="0.55" />
<line x1="284.15" y1="78.05" x2="285.75" y2="78.05" stroke="#231f20" stroke-width="0.55" />
<line x1="284.15" y1="76.63" x2="285.75" y2="76.63" stroke="#231f20" stroke-width="0.55" />
<line x1="284.15" y1="75.46" x2="285.75" y2="75.46" stroke="#231f20" stroke-width="0.55" />
<line x1="284.15" y1="74.48" x2="285.75" y2="74.48" stroke="#231f20" stroke-width="0.55" />
<line x1="284.15" y1="73.62" x2="285.75" y2="73.62" stroke="#231f20" stroke-width="0.55" />
<line x1="284.15" y1="72.87" x2="285.75" y2="72.87" stroke="#231f20" stroke-width="0.55" />
<line x1="284.15" y1="67.77" x2="285.75" y2="67.77" stroke="#231f20" stroke-width="0.55" />
<line x1="284.15" y1="65.19" x2="285.75" y2="65.19" stroke="#231f20" stroke-width="0.55" />
<line x1="284.15" y1="63.35" x2="285.75" y2="63.35" stroke="#231f20" stroke-width="0.55" />
<line x1="284.15" y1="61.93" x2="285.75" y2="61.93" stroke="#231f20" stroke-width="0.55" />
<line x1="284.15" y1="60.76" x2="285.75" y2="60.76" stroke="#231f20" stroke-width="0.55" />
<line x1="284.15" y1="59.78" x2="285.75" y2="59.78" stroke="#231f20" stroke-width="0.55" />
<line x1="284.15" y1="58.92" x2="285.75" y2="58.92" stroke="#231f20" stroke-width="0.55" />
<line x1="284.15" y1="58.17" x2="285.75" y2="58.17" stroke="#231f20" stroke-width="0.55" />
<line x1="284.15" y1="53.07" x2="285.75" y2="53.07" stroke="#231f20" stroke-width="0.55" />
<line x1="284.15" y1="50.49" x2="285.75" y2="50.49" stroke="#231f20" stroke-width="0.55" />
<line x1="284.15" y1="48.65" x2="285.75" y2="48.65" stroke="#231f20" stroke-width="0.55" />
<line x1="284.15" y1="47.23" x2="285.75" y2="47.23" stroke="#231f20" stroke-width="0.55" />
<line x1="284.15" y1="46.06" x2="285.75" y2="46.06" stroke="#231f20" stroke-width="0.55" />
<line x1="284.15" y1="45.08" x2="285.75" y2="45.08" stroke="#231f20" stroke-width="0.55" />
<line x1="284.15" y1="44.22" x2="285.75" y2="44.22" stroke="#231f20" stroke-width="0.55" />
<line x1="305.88" y1="116.30" x2="305.88" y2="119.60" stroke="#231f20" stroke-width="0.9" />
<text x="305.88" y="128.60" font-size="6.5" fill="#231f20" stroke="#231f20" stroke-width="0.12" text-anchor="middle" textLength="3.60" lengthAdjust="spacingAndGlyphs" >4</text>
<line x1="337.20" y1="116.30" x2="337.20" y2="119.60" stroke="#231f20" stroke-width="0.9" />
<text x="337.20" y="128.60" font-size="6.5" fill="#231f20" stroke="#231f20" stroke-width="0.12" text-anchor="middle" textLength="6.40" lengthAdjust="spacingAndGlyphs" >10</text>
<line x1="363.30" y1="116.30" x2="363.30" y2="119.60" stroke="#231f20" stroke-width="0.9" />
<text x="363.30" y="128.60" font-size="6.5" fill="#231f20" stroke="#231f20" stroke-width="0.12" text-anchor="middle" textLength="6.40" lengthAdjust="spacingAndGlyphs" >15</text>
<line x1="389.40" y1="116.30" x2="389.40" y2="119.60" stroke="#231f20" stroke-width="0.9" />
<text x="389.40" y="128.60" font-size="6.5" fill="#231f20" stroke="#231f20" stroke-width="0.12" text-anchor="middle" textLength="6.40" lengthAdjust="spacingAndGlyphs" >20</text>
<text x="259.80" y="128.50" font-size="8.6" fill="#231f20" stroke="#231f20" stroke-width="0.05" textLength="96.50" lengthAdjust="spacingAndGlyphs" transform="rotate(-90 259.80 128.50)" >Tumor luminescence (p/s)</text>
<text x="283.00" y="141.25" font-size="8.1" fill="#231f20" stroke="#231f20" stroke-width="0.05" textLength="111.25" lengthAdjust="spacingAndGlyphs" >Days post-tumor engraftment</text>
<polyline points="300.66,103.60 321.54,101.30 358.08,107.50 378.96,94.50" stroke="#3a5a8c" stroke-width="1.5" fill="none" stroke-linejoin="round" stroke-linecap="round" />
<polyline points="300.66,101.60 321.54,78.60 358.08,67.00 378.96,52.50" stroke="#a8213c" stroke-width="1.5" fill="none" stroke-linejoin="round" stroke-linecap="round" />
<polyline points="300.66,101.25 321.54,79.00 358.08,57.20" stroke="#e09a2c" stroke-width="1.5" fill="none" stroke-linejoin="round" stroke-linecap="round" />
<path d="M298.46,103.60 L300.66,101.40 L302.86,103.60 L300.66,105.80 Z" fill="#30507f"/>
<path d="M319.34,101.30 L321.54,99.10 L323.74,101.30 L321.54,103.50 Z" fill="#30507f"/>
<path d="M355.88,107.50 L358.08,105.30 L360.28,107.50 L358.08,109.70 Z" fill="#30507f"/>
<path d="M376.76,94.50 L378.96,92.30 L381.16,94.50 L378.96,96.70 Z" fill="#30507f"/>
<rect x="298.56" y="99.50" width="4.20" height="4.20" fill="#9c1a32" />
<rect x="319.44" y="76.50" width="4.20" height="4.20" fill="#9c1a32" />
<rect x="355.98" y="64.90" width="4.20" height="4.20" fill="#9c1a32" />
<rect x="376.86" y="50.40" width="4.20" height="4.20" fill="#9c1a32" />
<path d="M298.26,99.25 L303.06,99.25 L300.66,103.45 Z" fill="#d68b22"/>
<path d="M319.14,77.00 L323.94,77.00 L321.54,81.20 Z" fill="#d68b22"/>
<path d="M355.68,55.20 L360.48,55.20 L358.08,59.40 Z" fill="#d68b22"/>
<line x1="319.54" y1="76.50" x2="323.54" y2="76.50" stroke="#9c1a32" stroke-width="0.6" />
<line x1="319.54" y1="81.50" x2="323.54" y2="81.50" stroke="#d98aa0" stroke-width="0.6" />
<text x="298.80" y="67.30" font-size="5.8" fill="#231f20" stroke="#231f20" stroke-width="0.12" textLength="13.90" lengthAdjust="spacingAndGlyphs" >CAR-T</text>
<line x1="306.25" y1="70.80" x2="306.25" y2="84.50" stroke="#231f20" stroke-width="1.0" />
<path d="M303.6,82.2 L306.25,87.2 L308.9,82.2 Z" fill="#231f20"/>
<line x1="385.80" y1="52.50" x2="390.60" y2="52.50" stroke="#231f20" stroke-width="0.9" />
<line x1="390.60" y1="52.50" x2="390.60" y2="93.90" stroke="#231f20" stroke-width="0.9" />
<line x1="385.80" y1="93.90" x2="390.60" y2="93.90" stroke="#231f20" stroke-width="0.9" />
<text x="395.60" y="77.80" font-size="5.2" fill="#231f20" stroke="#231f20" stroke-width="0.12" textLength="8.60" lengthAdjust="spacingAndGlyphs" transform="rotate(-90 395.60 77.80)" >****</text>
<line x1="408.50" y1="66.50" x2="416.10" y2="66.50" stroke="#d68b22" stroke-width="1.2" />
<path d="M410.10,64.70 L414.50,64.70 L412.30,68.50 Z" fill="#d68b22"/>
<text x="419.20" y="68.30" font-size="5.2" fill="#231f20" stroke="#231f20" stroke-width="0.12" textLength="35.40" lengthAdjust="spacingAndGlyphs" >Mock + vehicle</text>
<line x1="408.50" y1="75.80" x2="416.10" y2="75.80" stroke="#30507f" stroke-width="1.2" />
<path d="M410.30,75.80 L412.30,73.80 L414.30,75.80 L412.30,77.80 Z" fill="#30507f"/>
<text x="419.20" y="77.60" font-size="5.2" fill="#231f20" stroke="#231f20" stroke-width="0.12" textLength="45.10" lengthAdjust="spacingAndGlyphs" >CD19.BBζ + vehicle</text>
<line x1="408.50" y1="85.80" x2="416.10" y2="85.80" stroke="#9c1a32" stroke-width="1.2" />
<rect x="410.40" y="83.90" width="3.80" height="3.80" fill="#9c1a32" />
<text x="419.20" y="87.60" font-size="5.2" fill="#231f20" stroke="#231f20" stroke-width="0.12" textLength="50.80" lengthAdjust="spacingAndGlyphs" >CD19.BBζ + dasatinib</text>
<line x1="285.20" y1="153.00" x2="285.20" y2="226.40" stroke="#231f20" stroke-width="1.2" />
<line x1="284.60" y1="225.80" x2="392.80" y2="225.80" stroke="#231f20" stroke-width="1.2" />
<line x1="281.80" y1="225.80" x2="285.20" y2="225.80" stroke="#231f20" stroke-width="0.9" />
<text x="277.60" y="224.55" font-size="4.4" fill="#231f20" stroke="#231f20" stroke-width="0.12" text-anchor="end" textLength="1.80" lengthAdjust="spacingAndGlyphs" >7</text>
<text x="275.30" y="228.05" font-size="6.5" fill="#231f20" stroke="#231f20" stroke-width="0.12" text-anchor="end" textLength="5.75" lengthAdjust="spacingAndGlyphs" >10</text>
<line x1="281.80" y1="211.05" x2="285.20" y2="211.05" stroke="#231f20" stroke-width="0.9" />
<text x="277.60" y="209.80" font-size="4.4" fill="#231f20" stroke="#231f20" stroke-width="0.12" text-anchor="end" textLength="1.80" lengthAdjust="spacingAndGlyphs" >8</text>
<text x="275.30" y="213.30" font-size="6.5" fill="#231f20" stroke="#231f20" stroke-width="0.12" text-anchor="end" textLength="5.75" lengthAdjust="spacingAndGlyphs" >10</text>
<line x1="281.80" y1="196.30" x2="285.20" y2="196.30" stroke="#231f20" stroke-width="0.9" />
<text x="277.60" y="195.05" font-size="4.4" fill="#231f20" stroke="#231f20" stroke-width="0.12" text-anchor="end" textLength="1.80" lengthAdjust="spacingAndGlyphs" >9</text>
<text x="275.30" y="198.55" font-size="6.5" fill="#231f20" stroke="#231f20" stroke-width="0.12" text-anchor="end" textLength="5.75" lengthAdjust="spacingAndGlyphs" >10</text>
<line x1="281.80" y1="181.55" x2="285.20" y2="181.55" stroke="#231f20" stroke-width="0.9" />
<text x="277.60" y="180.30" font-size="4.4" fill="#231f20" stroke="#231f20" stroke-width="0.12" text-anchor="end" textLength="3.50" lengthAdjust="spacingAndGlyphs" >10</text>
<text x="273.60" y="183.80" font-size="6.5" fill="#231f20" stroke="#231f20" stroke-width="0.12" text-anchor="end" textLength="5.75" lengthAdjust="spacingAndGlyphs" >10</text>
<line x1="281.80" y1="166.80" x2="285.20" y2="166.80" stroke="#231f20" stroke-width="0.9" />
<text x="277.60" y="165.55" font-size="4.4" fill="#231f20" stroke="#231f20" stroke-width="0.12" text-anchor="end" textLength="3.50" lengthAdjust="spacingAndGlyphs" >11</text>
<text x="273.60" y="169.05" font-size="6.5" fill="#231f20" stroke="#231f20" stroke-width="0.12" text-anchor="end" textLength="5.75" lengthAdjust="spacingAndGlyphs" >10</text>
<line x1="283.60" y1="221.36" x2="285.20" y2="221.36" stroke="#231f20" stroke-width="0.55" />
<line x1="283.60" y1="218.76" x2="285.20" y2="218.76" stroke="#231f20" stroke-width="0.55" />
<line x1="283.60" y1="216.92" x2="285.20" y2="216.92" stroke="#231f20" stroke-width="0.55" />
<line x1="283.60" y1="215.49" x2="285.20" y2="215.49" stroke="#231f20" stroke-width="0.55" />
<line x1="283.60" y1="214.32" x2="285.20" y2="214.32" stroke="#231f20" stroke-width="0.55" />
<line x1="283.60" y1="213.33" x2="285.20" y2="213.33" stroke="#231f20" stroke-width="0.55" />
<line x1="283.60" y1="212.48" x2="285.20" y2="212.48" stroke="#231f20" stroke-width="0.55" />
<line x1="283.60" y1="211.72" x2="285.20" y2="211.72" stroke="#231f20" stroke-width="0.55" />
<line x1="283.60" y1="206.61" x2="285.20" y2="206.61" stroke="#231f20" stroke-width="0.55" />
<line x1="283.60" y1="204.01" x2="285.20" y2="204.01" stroke="#231f20" stroke-width="0.55" />
<line x1="283.60" y1="202.17" x2="285.20" y2="202.17" stroke="#231f20" stroke-width="0.55" />
<line x1="283.60" y1="200.74" x2="285.20" y2="200.74" stroke="#231f20" stroke-width="0.55" />
<line x1="283.60" y1="199.57" x2="285.20" y2="199.57" stroke="#231f20" stroke-width="0.55" />
<line x1="283.60" y1="198.58" x2="285.20" y2="198.58" stroke="#231f20" stroke-width="0.55" />
<line x1="283.60" y1="197.73" x2="285.20" y2="197.73" stroke="#231f20" stroke-width="0.55" />
<line x1="283.60" y1="196.97" x2="285.20" y2="196.97" stroke="#231f20" stroke-width="0.55" />
<line x1="283.60" y1="191.86" x2="285.20" y2="191.86" stroke="#231f20" stroke-width="0.55" />
<line x1="283.60" y1="189.26" x2="285.20" y2="189.26" stroke="#231f20" stroke-width="0.55" />
<line x1="283.60" y1="187.42" x2="285.20" y2="187.42" stroke="#231f20" stroke-width="0.55" />
<line x1="283.60" y1="185.99" x2="285.20" y2="185.99" stroke="#231f20" stroke-width="0.55" />
<line x1="283.60" y1="184.82" x2="285.20" y2="184.82" stroke="#231f20" stroke-width="0.55" />
<line x1="283.60" y1="183.83" x2="285.20" y2="183.83" stroke="#231f20" stroke-width="0.55" />
<line x1="283.60" y1="182.98" x2="285.20" y2="182.98" stroke="#231f20" stroke-width="0.55" />
<line x1="283.60" y1="182.22" x2="285.20" y2="182.22" stroke="#231f20" stroke-width="0.55" />
<line x1="283.60" y1="177.11" x2="285.20" y2="177.11" stroke="#231f20" stroke-width="0.55" />
<line x1="283.60" y1="174.51" x2="285.20" y2="174.51" stroke="#231f20" stroke-width="0.55" />
<line x1="283.60" y1="172.67" x2="285.20" y2="172.67" stroke="#231f20" stroke-width="0.55" />
<line x1="283.60" y1="171.24" x2="285.20" y2="171.24" stroke="#231f20" stroke-width="0.55" />
<line x1="283.60" y1="170.07" x2="285.20" y2="170.07" stroke="#231f20" stroke-width="0.55" />
<line x1="283.60" y1="169.08" x2="285.20" y2="169.08" stroke="#231f20" stroke-width="0.55" />
<line x1="283.60" y1="168.23" x2="285.20" y2="168.23" stroke="#231f20" stroke-width="0.55" />
<line x1="283.60" y1="167.47" x2="285.20" y2="167.47" stroke="#231f20" stroke-width="0.55" />
<line x1="283.60" y1="162.36" x2="285.20" y2="162.36" stroke="#231f20" stroke-width="0.55" />
<line x1="283.60" y1="159.76" x2="285.20" y2="159.76" stroke="#231f20" stroke-width="0.55" />
<line x1="283.60" y1="157.92" x2="285.20" y2="157.92" stroke="#231f20" stroke-width="0.55" />
<line x1="283.60" y1="156.49" x2="285.20" y2="156.49" stroke="#231f20" stroke-width="0.55" />
<line x1="283.60" y1="155.32" x2="285.20" y2="155.32" stroke="#231f20" stroke-width="0.55" />
<line x1="283.60" y1="154.33" x2="285.20" y2="154.33" stroke="#231f20" stroke-width="0.55" />
<line x1="283.60" y1="153.48" x2="285.20" y2="153.48" stroke="#231f20" stroke-width="0.55" />
<line x1="305.68" y1="225.80" x2="305.68" y2="229.10" stroke="#231f20" stroke-width="0.9" />
<text x="305.68" y="238.20" font-size="6.5" fill="#231f20" stroke="#231f20" stroke-width="0.12" text-anchor="middle" textLength="3.60" lengthAdjust="spacingAndGlyphs" >4</text>
<line x1="337.29" y1="225.80" x2="337.29" y2="229.10" stroke="#231f20" stroke-width="0.9" />
<text x="337.29" y="238.20" font-size="6.5" fill="#231f20" stroke="#231f20" stroke-width="0.12" text-anchor="middle" textLength="6.40" lengthAdjust="spacingAndGlyphs" >10</text>
<line x1="363.63" y1="225.80" x2="363.63" y2="229.10" stroke="#231f20" stroke-width="0.9" />
<text x="363.63" y="238.20" font-size="6.5" fill="#231f20" stroke="#231f20" stroke-width="0.12" text-anchor="middle" textLength="6.40" lengthAdjust="spacingAndGlyphs" >15</text>
<line x1="389.98" y1="225.80" x2="389.98" y2="229.10" stroke="#231f20" stroke-width="0.9" />
<text x="389.98" y="238.20" font-size="6.5" fill="#231f20" stroke="#231f20" stroke-width="0.12" text-anchor="middle" textLength="6.40" lengthAdjust="spacingAndGlyphs" >20</text>
<text x="260.30" y="238.00" font-size="8.6" fill="#231f20" stroke="#231f20" stroke-width="0.05" textLength="96.50" lengthAdjust="spacingAndGlyphs" transform="rotate(-90 260.30 238.00)" >Tumor luminescence (p/s)</text>
<text x="282.30" y="250.80" font-size="8.1" fill="#231f20" stroke="#231f20" stroke-width="0.05" textLength="111.90" lengthAdjust="spacingAndGlyphs" >Days post-tumor engraftment</text>
<polyline points="300.41,209.70 321.48,207.60 358.36,214.00 379.44,200.20" stroke="#3a5a8c" stroke-width="1.35" fill="none" stroke-linejoin="round" stroke-linecap="round" />
<polyline points="300.41,212.30 321.48,209.70 358.36,214.90 379.44,202.80" stroke="#3a5a8c" stroke-width="1.35" fill="none" stroke-linejoin="round" stroke-linecap="round" />
<polyline points="300.41,213.20 321.48,211.40 358.36,220.00 379.44,208.00" stroke="#3a5a8c" stroke-width="1.35" fill="none" stroke-linejoin="round" stroke-linecap="round" />
<polyline points="300.41,211.40 321.48,208.80 358.36,221.00 379.44,204.50" stroke="#3a5a8c" stroke-width="1.35" fill="none" stroke-linejoin="round" stroke-linecap="round" />
<polyline points="300.41,214.00 321.48,210.50 358.36,215.70 379.44,203.60" stroke="#3a5a8c" stroke-width="1.35" fill="none" stroke-linejoin="round" stroke-linecap="round" />
<polyline points="300.41,208.80 321.48,182.00 358.36,174.20 379.44,161.20" stroke="#a8213c" stroke-width="1.25" fill="none" stroke-linejoin="round" stroke-linecap="round" />
<polyline points="300.41,210.60 321.48,190.70 358.36,179.40 379.44,163.00" stroke="#a8213c" stroke-width="1.25" fill="none" stroke-linejoin="round" stroke-linecap="round" />
<polyline points="300.41,212.30 321.48,192.40 358.36,195.00 379.44,162.10" stroke="#a8213c" stroke-width="1.25" fill="none" stroke-linejoin="round" stroke-linecap="round" />
<polyline points="300.41,209.50 321.48,189.00 358.36,176.00 379.44,164.70" stroke="#a8213c" stroke-width="1.25" fill="none" stroke-linejoin="round" stroke-linecap="round" />
<polyline points="300.41,214.00 321.48,191.50 358.36,173.40 379.44,161.80" stroke="#a8213c" stroke-width="1.25" fill="none" stroke-linejoin="round" stroke-linecap="round" />
<polyline points="300.41,207.50 321.48,188.00 358.36,167.20" stroke="#e09a2c" stroke-width="1.9" fill="none" stroke-linejoin="round" stroke-linecap="round" />
<polyline points="300.41,210.00 321.48,189.50 358.36,166.40" stroke="#e09a2c" stroke-width="1.9" fill="none" stroke-linejoin="round" stroke-linecap="round" />
<polyline points="300.41,212.50 321.48,190.50 358.36,168.00" stroke="#e09a2c" stroke-width="1.9" fill="none" stroke-linejoin="round" stroke-linecap="round" />
<polyline points="300.41,215.00 321.48,191.50 358.36,167.50" stroke="#e09a2c" stroke-width="1.9" fill="none" stroke-linejoin="round" stroke-linecap="round" />
<polyline points="300.41,209.00 321.48,187.50 358.36,168.20" stroke="#e09a2c" stroke-width="1.9" fill="none" stroke-linejoin="round" stroke-linecap="round" />
<line x1="408.50" y1="176.20" x2="416.20" y2="176.20" stroke="#e09a2c" stroke-width="1.7" />
<text x="419.20" y="178.00" font-size="5.2" fill="#231f20" stroke="#231f20" stroke-width="0.12" textLength="35.40" lengthAdjust="spacingAndGlyphs" >Mock + vehicle</text>
<line x1="408.50" y1="188.10" x2="416.20" y2="188.10" stroke="#3a5a8c" stroke-width="1.7" />
<text x="419.20" y="189.90" font-size="5.2" fill="#231f20" stroke="#231f20" stroke-width="0.12" textLength="45.10" lengthAdjust="spacingAndGlyphs" >CD19.BBζ + vehicle</text>
<line x1="408.50" y1="200.10" x2="416.20" y2="200.10" stroke="#a8213c" stroke-width="1.7" />
<text x="419.20" y="201.90" font-size="5.2" fill="#231f20" stroke="#231f20" stroke-width="0.12" textLength="50.80" lengthAdjust="spacingAndGlyphs" >CD19.BBζ + dasatinib</text>
<text x="8.00" y="284.20" font-size="11" fill="#231f20" stroke="#231f20" stroke-width="0.05" textLength="8.00" lengthAdjust="spacingAndGlyphs" >D</text>
<line x1="37.50" y1="321.30" x2="37.50" y2="382.60" stroke="#231f20" stroke-width="1.2" />
<line x1="36.90" y1="382.00" x2="128.00" y2="382.00" stroke="#231f20" stroke-width="1.2" />
<line x1="34.10" y1="364.30" x2="37.50" y2="364.30" stroke="#231f20" stroke-width="0.9" />
<text x="31.60" y="363.05" font-size="4.4" fill="#231f20" stroke="#231f20" stroke-width="0.12" text-anchor="end" textLength="1.80" lengthAdjust="spacingAndGlyphs" >7</text>
<text x="29.30" y="366.55" font-size="6.5" fill="#231f20" stroke="#231f20" stroke-width="0.12" text-anchor="end" textLength="5.75" lengthAdjust="spacingAndGlyphs" >10</text>
<line x1="34.10" y1="340.80" x2="37.50" y2="340.80" stroke="#231f20" stroke-width="0.9" />
<text x="31.60" y="339.55" font-size="4.4" fill="#231f20" stroke="#231f20" stroke-width="0.12" text-anchor="end" textLength="1.80" lengthAdjust="spacingAndGlyphs" >8</text>
<text x="29.30" y="343.05" font-size="6.5" fill="#231f20" stroke="#231f20" stroke-width="0.12" text-anchor="end" textLength="5.75" lengthAdjust="spacingAndGlyphs" >10</text>
<line x1="35.90" y1="380.73" x2="37.50" y2="380.73" stroke="#231f20" stroke-width="0.55" />
<line x1="35.90" y1="376.59" x2="37.50" y2="376.59" stroke="#231f20" stroke-width="0.55" />
<line x1="35.90" y1="373.66" x2="37.50" y2="373.66" stroke="#231f20" stroke-width="0.55" />
<line x1="35.90" y1="371.38" x2="37.50" y2="371.38" stroke="#231f20" stroke-width="0.55" />
<line x1="35.90" y1="369.52" x2="37.50" y2="369.52" stroke="#231f20" stroke-width="0.55" />
<line x1="35.90" y1="367.94" x2="37.50" y2="367.94" stroke="#231f20" stroke-width="0.55" />
<line x1="35.90" y1="366.58" x2="37.50" y2="366.58" stroke="#231f20" stroke-width="0.55" />
<line x1="35.90" y1="365.38" x2="37.50" y2="365.38" stroke="#231f20" stroke-width="0.55" />
<line x1="35.90" y1="357.23" x2="37.50" y2="357.23" stroke="#231f20" stroke-width="0.55" />
<line x1="35.90" y1="353.09" x2="37.50" y2="353.09" stroke="#231f20" stroke-width="0.55" />
<line x1="35.90" y1="350.16" x2="37.50" y2="350.16" stroke="#231f20" stroke-width="0.55" />
<line x1="35.90" y1="347.88" x2="37.50" y2="347.88" stroke="#231f20" stroke-width="0.55" />
<line x1="35.90" y1="346.02" x2="37.50" y2="346.02" stroke="#231f20" stroke-width="0.55" />
<line x1="35.90" y1="344.44" x2="37.50" y2="344.44" stroke="#231f20" stroke-width="0.55" />
<line x1="35.90" y1="343.08" x2="37.50" y2="343.08" stroke="#231f20" stroke-width="0.55" />
<line x1="35.90" y1="341.88" x2="37.50" y2="341.88" stroke="#231f20" stroke-width="0.55" />
<line x1="35.90" y1="333.73" x2="37.50" y2="333.73" stroke="#231f20" stroke-width="0.55" />
<line x1="35.90" y1="329.59" x2="37.50" y2="329.59" stroke="#231f20" stroke-width="0.55" />
<line x1="35.90" y1="326.66" x2="37.50" y2="326.66" stroke="#231f20" stroke-width="0.55" />
<line x1="35.90" y1="324.38" x2="37.50" y2="324.38" stroke="#231f20" stroke-width="0.55" />
<line x1="35.90" y1="322.52" x2="37.50" y2="322.52" stroke="#231f20" stroke-width="0.55" />
<line x1="55.00" y1="382.00" x2="55.00" y2="385.30" stroke="#231f20" stroke-width="0.9" />
<text x="55.00" y="394.30" font-size="6.5" fill="#231f20" stroke="#231f20" stroke-width="0.12" text-anchor="middle" textLength="3.60" lengthAdjust="spacingAndGlyphs" >4</text>
<line x1="81.44" y1="382.00" x2="81.44" y2="385.30" stroke="#231f20" stroke-width="0.9" />
<text x="81.44" y="394.30" font-size="6.5" fill="#231f20" stroke="#231f20" stroke-width="0.12" text-anchor="middle" textLength="6.40" lengthAdjust="spacingAndGlyphs" >10</text>
<line x1="103.48" y1="382.00" x2="103.48" y2="385.30" stroke="#231f20" stroke-width="0.9" />
<text x="103.48" y="394.30" font-size="6.5" fill="#231f20" stroke="#231f20" stroke-width="0.12" text-anchor="middle" textLength="6.40" lengthAdjust="spacingAndGlyphs" >15</text>
<line x1="125.51" y1="382.00" x2="125.51" y2="385.30" stroke="#231f20" stroke-width="0.9" />
<text x="125.51" y="394.30" font-size="6.5" fill="#231f20" stroke="#231f20" stroke-width="0.12" text-anchor="middle" textLength="6.40" lengthAdjust="spacingAndGlyphs" >20</text>
<text x="15.60" y="399.80" font-size="8.6" fill="#231f20" stroke="#231f20" stroke-width="0.05" textLength="96.80" lengthAdjust="spacingAndGlyphs" transform="rotate(-90 15.60 399.80)" >Tumor luminescence (p/s)</text>
<text x="26.50" y="407.80" font-size="8.6" fill="#231f20" stroke="#231f20" stroke-width="0.05" textLength="112.30" lengthAdjust="spacingAndGlyphs" >Days post-tumor engraftment</text>
<line x1="86.00" y1="325.50" x2="86.00" y2="382.00" stroke="#5f6062" stroke-width="1.4" stroke-dasharray="3,1.8"/>
<path d="M54.4,327.2 V323.6 H83.2 V327.2" stroke="#231f20" stroke-width="0.9" fill="none"/>
<path d="M88.8,327.2 V323.6 H117.5 V327.2" stroke="#231f20" stroke-width="0.9" fill="none"/>
<text x="68.80" y="313.20" font-size="5.2" fill="#52699a" stroke="#52699a" stroke-width="0.12" text-anchor="middle" textLength="17.50" lengthAdjust="spacingAndGlyphs" >Vehicle</text>
<text x="68.80" y="319.80" font-size="5.2" fill="#b63a4e" stroke="#b63a4e" stroke-width="0.12" text-anchor="middle" textLength="17.50" lengthAdjust="spacingAndGlyphs" >Vehicle</text>
<text x="103.20" y="313.20" font-size="5.2" fill="#52699a" stroke="#52699a" stroke-width="0.12" text-anchor="middle" textLength="17.50" lengthAdjust="spacingAndGlyphs" >Vehicle</text>
<text x="103.20" y="319.80" font-size="5.2" fill="#b63a4e" stroke="#b63a4e" stroke-width="0.12" text-anchor="middle" textLength="21.50" lengthAdjust="spacingAndGlyphs" >Dasatinib</text>
<polyline points="55.00,334.40 68.22,346.60 85.85,372.00 116.70,348.00" stroke="#a8213c" stroke-width="1.4" fill="none" stroke-linejoin="round" stroke-linecap="round" />
<polyline points="55.00,335.80 68.22,347.50 85.85,373.00 116.70,349.50" stroke="#a8213c" stroke-width="1.4" fill="none" stroke-linejoin="round" stroke-linecap="round" />
<polyline points="55.00,344.50 68.22,350.00 85.85,374.00 116.70,351.70" stroke="#a8213c" stroke-width="1.4" fill="none" stroke-linejoin="round" stroke-linecap="round" />
<polyline points="55.00,348.80 63.81,351.70 85.85,375.50 116.70,353.90" stroke="#a8213c" stroke-width="1.4" fill="none" stroke-linejoin="round" stroke-linecap="round" />
<polyline points="55.00,337.00 68.22,348.00 85.85,371.00 116.70,355.30" stroke="#a8213c" stroke-width="1.4" fill="none" stroke-linejoin="round" stroke-linecap="round" />
<polyline points="55.00,338.70 68.22,349.00 85.85,373.50 116.70,351.00" stroke="#3a5a8c" stroke-width="1.4" fill="none" stroke-linejoin="round" stroke-linecap="round" />
<polyline points="55.00,340.90 68.22,351.00 85.85,375.00 116.70,364.00" stroke="#3a5a8c" stroke-width="1.4" fill="none" stroke-linejoin="round" stroke-linecap="round" />
<polyline points="55.00,342.30 68.22,352.00 85.85,376.00 99.07,373.00 116.70,371.90" stroke="#3a5a8c" stroke-width="1.4" fill="none" stroke-linejoin="round" stroke-linecap="round" />
<polyline points="55.00,343.80 68.22,353.00 85.85,375.50 99.07,372.50 116.70,371.50" stroke="#3a5a8c" stroke-width="1.4" fill="none" stroke-linejoin="round" stroke-linecap="round" />
<polyline points="55.00,356.00 68.22,362.50 85.85,376.50 99.07,376.00 116.70,382.00" stroke="#3a5a8c" stroke-width="1.4" fill="none" stroke-linejoin="round" stroke-linecap="round" />
<circle cx="60.80" cy="418.80" r="1.70" fill="#30507f" />
<text x="65.50" y="420.60" font-size="5.0" fill="#231f20" stroke="#231f20" stroke-width="0.12" textLength="45.00" lengthAdjust="spacingAndGlyphs" >CD19.BBζ + vehicle</text>
<circle cx="127.60" cy="418.80" r="1.70" fill="#9c1a32" />
<text x="132.30" y="420.60" font-size="5.0" fill="#231f20" stroke="#231f20" stroke-width="0.12" textLength="77.40" lengthAdjust="spacingAndGlyphs" >CD19.BBζ + dasatinib days 12-18</text>
<line x1="177.30" y1="306.20" x2="177.30" y2="382.40" stroke="#231f20" stroke-width="1.2" />
<line x1="176.70" y1="381.80" x2="238.50" y2="381.80" stroke="#231f20" stroke-width="1.2" />
<line x1="174.10" y1="381.80" x2="177.30" y2="381.80" stroke="#231f20" stroke-width="0.9" />
<text x="171.00" y="384.05" font-size="6.5" fill="#231f20" stroke="#231f20" stroke-width="0.12" text-anchor="end" textLength="3.40" lengthAdjust="spacingAndGlyphs" >0</text>
<line x1="174.10" y1="357.67" x2="177.30" y2="357.67" stroke="#231f20" stroke-width="0.9" />
<text x="171.00" y="359.92" font-size="6.5" fill="#231f20" stroke="#231f20" stroke-width="0.12" text-anchor="end" textLength="3.40" lengthAdjust="spacingAndGlyphs" >5</text>
<line x1="174.10" y1="333.53" x2="177.30" y2="333.53" stroke="#231f20" stroke-width="0.9" />
<text x="171.00" y="335.78" font-size="6.5" fill="#231f20" stroke="#231f20" stroke-width="0.12" text-anchor="end" textLength="6.40" lengthAdjust="spacingAndGlyphs" >10</text>
<line x1="174.10" y1="309.40" x2="177.30" y2="309.40" stroke="#231f20" stroke-width="0.9" />
<text x="171.00" y="311.65" font-size="6.5" fill="#231f20" stroke="#231f20" stroke-width="0.12" text-anchor="end" textLength="6.40" lengthAdjust="spacingAndGlyphs" >15</text>
<text x="146.90" y="398.80" font-size="8.8" fill="#231f20" stroke="#231f20" stroke-width="0.05" textLength="108.40" lengthAdjust="spacingAndGlyphs" transform="rotate(-90 146.90 398.80)" >Day 11 to day 18 fold change</text>
<text x="157.70" y="386.50" font-size="8.8" fill="#231f20" stroke="#231f20" stroke-width="0.05" textLength="85.70" lengthAdjust="spacingAndGlyphs" transform="rotate(-90 157.70 386.50)" >in tumor luminescence</text>
<line x1="194.20" y1="309.60" x2="221.20" y2="309.60" stroke="#707072" stroke-width="1.8" />
<text x="207.70" y="309.00" font-size="6.0" fill="#231f20" stroke="#231f20" stroke-width="0.12" text-anchor="middle" textLength="5.50" lengthAdjust="spacingAndGlyphs" >***</text>
<line x1="186.40" y1="370.22" x2="203.60" y2="370.22" stroke="#30507f" stroke-width="1.1" />
<line x1="195.00" y1="365.39" x2="195.00" y2="375.04" stroke="#30507f" stroke-width="1.0" />
<line x1="190.70" y1="365.39" x2="199.30" y2="365.39" stroke="#30507f" stroke-width="1.0" />
<line x1="190.70" y1="375.04" x2="199.30" y2="375.04" stroke="#30507f" stroke-width="1.0" />
<circle cx="195.00" cy="353.32" r="1.60" fill="#30507f" />
<circle cx="195.00" cy="367.32" r="1.60" fill="#30507f" />
<circle cx="190.50" cy="375.53" r="1.60" fill="#30507f" />
<circle cx="199.50" cy="375.53" r="1.60" fill="#30507f" />
<circle cx="195.00" cy="379.39" r="1.60" fill="#30507f" />
<line x1="212.40" y1="334.50" x2="229.60" y2="334.50" stroke="#9c1a32" stroke-width="1.1" />
<line x1="221.00" y1="328.71" x2="221.00" y2="340.29" stroke="#9c1a32" stroke-width="1.0" />
<line x1="216.70" y1="328.71" x2="225.30" y2="328.71" stroke="#9c1a32" stroke-width="1.0" />
<line x1="216.70" y1="340.29" x2="225.30" y2="340.29" stroke="#9c1a32" stroke-width="1.0" />
<circle cx="221.00" cy="318.57" r="1.60" fill="#9c1a32" />
<circle cx="221.00" cy="323.88" r="1.60" fill="#9c1a32" />
<circle cx="224.00" cy="341.74" r="1.60" fill="#9c1a32" />
<circle cx="219.00" cy="345.12" r="1.60" fill="#9c1a32" />
<circle cx="222.00" cy="335.95" r="1.60" fill="#9c1a32" />
<text x="252.90" y="284.50" font-size="11" fill="#231f20" stroke="#231f20" stroke-width="0.05" textLength="6.20" lengthAdjust="spacingAndGlyphs" >E</text>
<line x1="285.30" y1="287.90" x2="285.30" y2="382.70" stroke="#231f20" stroke-width="1.2" />
<line x1="284.70" y1="382.10" x2="360.80" y2="382.10" stroke="#231f20" stroke-width="1.2" />
<line x1="281.50" y1="382.10" x2="285.30" y2="382.10" stroke="#231f20" stroke-width="0.9" />
<text x="278.50" y="384.35" font-size="6.5" fill="#231f20" stroke="#231f20" stroke-width="0.12" text-anchor="end" textLength="3.40" lengthAdjust="spacingAndGlyphs" >0</text>
<line x1="281.50" y1="359.28" x2="285.30" y2="359.28" stroke="#231f20" stroke-width="0.9" />
<text x="278.50" y="361.53" font-size="6.5" fill="#231f20" stroke="#231f20" stroke-width="0.12" text-anchor="end" textLength="6.40" lengthAdjust="spacingAndGlyphs" >10</text>
<line x1="281.50" y1="336.45" x2="285.30" y2="336.45" stroke="#231f20" stroke-width="0.9" />
<text x="278.50" y="338.70" font-size="6.5" fill="#231f20" stroke="#231f20" stroke-width="0.12" text-anchor="end" textLength="6.40" lengthAdjust="spacingAndGlyphs" >20</text>
<line x1="281.50" y1="313.62" x2="285.30" y2="313.62" stroke="#231f20" stroke-width="0.9" />
<text x="278.50" y="315.88" font-size="6.5" fill="#231f20" stroke="#231f20" stroke-width="0.12" text-anchor="end" textLength="6.40" lengthAdjust="spacingAndGlyphs" >30</text>
<line x1="281.50" y1="290.80" x2="285.30" y2="290.80" stroke="#231f20" stroke-width="0.9" />
<text x="278.50" y="293.05" font-size="6.5" fill="#231f20" stroke="#231f20" stroke-width="0.12" text-anchor="end" textLength="6.40" lengthAdjust="spacingAndGlyphs" >40</text>
<text x="266.10" y="378.00" font-size="8.6" fill="#231f20" stroke="#231f20" stroke-width="0.05" textLength="84.90" lengthAdjust="spacingAndGlyphs" transform="rotate(-90 266.10 378.00)" >hCD45+ cells/uL blood</text>
<line x1="323.20" y1="299.50" x2="345.00" y2="299.50" stroke="#231f20" stroke-width="1.0" />
<text x="334.10" y="299.00" font-size="6.0" fill="#231f20" stroke="#231f20" stroke-width="0.12" text-anchor="middle" textLength="3.80" lengthAdjust="spacingAndGlyphs" >**</text>
<circle cx="294.50" cy="374.34" r="1.80" fill="#d68b22" />
<circle cx="297.00" cy="376.62" r="1.80" fill="#d68b22" />
<circle cx="299.50" cy="373.20" r="1.80" fill="#d68b22" />
<circle cx="302.00" cy="377.54" r="1.80" fill="#d68b22" />
<circle cx="305.00" cy="374.11" r="1.80" fill="#d68b22" />
<circle cx="300.00" cy="378.68" r="1.80" fill="#d68b22" />
<circle cx="297.50" cy="377.99" r="1.80" fill="#d68b22" />
<line x1="294.50" y1="375.48" x2="305.50" y2="375.48" stroke="#d68b22" stroke-width="1.0" />
<line x1="315.70" y1="325.95" x2="330.70" y2="325.95" stroke="#30507f" stroke-width="1.1" />
<line x1="323.20" y1="318.19" x2="323.20" y2="333.48" stroke="#30507f" stroke-width="1.0" />
<line x1="319.40" y1="318.19" x2="327.00" y2="318.19" stroke="#30507f" stroke-width="1.0" />
<line x1="319.40" y1="333.48" x2="327.00" y2="333.48" stroke="#30507f" stroke-width="1.0" />
<circle cx="320.30" cy="310.66" r="1.95" fill="#30507f" />
<circle cx="325.70" cy="309.06" r="1.95" fill="#30507f" />
<circle cx="323.20" cy="323.44" r="1.95" fill="#30507f" />
<circle cx="320.30" cy="344.90" r="1.95" fill="#30507f" />
<circle cx="325.70" cy="341.47" r="1.95" fill="#30507f" />
<line x1="337.50" y1="353.57" x2="350.50" y2="353.57" stroke="#9c1a32" stroke-width="1.1" />
<line x1="344.00" y1="350.83" x2="344.00" y2="356.31" stroke="#9c1a32" stroke-width="1.0" />
<line x1="340.50" y1="350.83" x2="347.50" y2="350.83" stroke="#9c1a32" stroke-width="1.0" />
<line x1="340.50" y1="356.31" x2="347.50" y2="356.31" stroke="#9c1a32" stroke-width="1.0" />
<circle cx="345.80" cy="344.44" r="1.95" fill="#9c1a32" />
<circle cx="340.50" cy="352.66" r="1.95" fill="#9c1a32" />
<circle cx="349.50" cy="355.17" r="1.95" fill="#9c1a32" />
<circle cx="343.50" cy="361.10" r="1.95" fill="#9c1a32" />
<circle cx="347.50" cy="354.25" r="1.95" fill="#9c1a32" />
<circle cx="378.70" cy="316.20" r="1.90" fill="#d68b22" />
<text x="383.80" y="318.00" font-size="5.6" fill="#231f20" stroke="#231f20" stroke-width="0.12" textLength="35.20" lengthAdjust="spacingAndGlyphs" >Mock + vehicle</text>
<circle cx="378.70" cy="329.40" r="1.90" fill="#30507f" />
<text x="383.80" y="331.20" font-size="5.6" fill="#231f20" stroke="#231f20" stroke-width="0.12" textLength="45.40" lengthAdjust="spacingAndGlyphs" >CD19.BBζ + vehicle</text>
<circle cx="378.70" cy="342.10" r="1.90" fill="#9c1a32" />
<text x="383.80" y="343.90" font-size="5.6" fill="#231f20" stroke="#231f20" stroke-width="0.12" textLength="50.60" lengthAdjust="spacingAndGlyphs" >CD19.BBζ + dasatinib</text>
<text x="8.00" y="443.00" font-size="11" fill="#231f20" stroke="#231f20" stroke-width="0.05" textLength="5.60" lengthAdjust="spacingAndGlyphs" >F</text>
<line x1="31.40" y1="475.60" x2="31.40" y2="538.60" stroke="#231f20" stroke-width="1.2" />
<line x1="30.80" y1="538.00" x2="80.80" y2="538.00" stroke="#231f20" stroke-width="1.2" />
<line x1="27.80" y1="538.00" x2="31.40" y2="538.00" stroke="#231f20" stroke-width="0.9" />
<text x="24.40" y="540.25" font-size="6.5" fill="#231f20" stroke="#231f20" stroke-width="0.12" text-anchor="end" textLength="3.40" lengthAdjust="spacingAndGlyphs" >0</text>
<line x1="27.80" y1="518.13" x2="31.40" y2="518.13" stroke="#231f20" stroke-width="0.9" />
<text x="24.40" y="520.38" font-size="6.5" fill="#231f20" stroke="#231f20" stroke-width="0.12" text-anchor="end" textLength="3.40" lengthAdjust="spacingAndGlyphs" >2</text>
<line x1="27.80" y1="498.27" x2="31.40" y2="498.27" stroke="#231f20" stroke-width="0.9" />
<text x="24.40" y="500.52" font-size="6.5" fill="#231f20" stroke="#231f20" stroke-width="0.12" text-anchor="end" textLength="3.40" lengthAdjust="spacingAndGlyphs" >4</text>
<line x1="27.80" y1="478.40" x2="31.40" y2="478.40" stroke="#231f20" stroke-width="0.9" />
<text x="24.40" y="480.65" font-size="6.5" fill="#231f20" stroke="#231f20" stroke-width="0.12" text-anchor="end" textLength="3.40" lengthAdjust="spacingAndGlyphs" >6</text>
<text x="56.00" y="453.80" font-size="8.0" fill="#231f20" stroke="#231f20" stroke-width="0.05" text-anchor="middle" textLength="18.60" lengthAdjust="spacingAndGlyphs" >IL-1β</text>
<text x="15.40" y="527.60" font-size="8.2" fill="#231f20" stroke="#231f20" stroke-width="0.05" textLength="49.80" lengthAdjust="spacingAndGlyphs" transform="rotate(-90 15.40 527.60)" >IL-1β (pg/mL)</text>
<line x1="40.90" y1="466.20" x2="70.90" y2="466.20" stroke="#3a3a3a" stroke-width="1.0" />
<text x="56.00" y="463.90" font-size="4.6" fill="#231f20" stroke="#231f20" stroke-width="0.12" text-anchor="middle" textLength="5.60" lengthAdjust="spacingAndGlyphs" style="font-style:italic" >ns</text>
<line x1="56.20" y1="474.90" x2="70.50" y2="474.90" stroke="#6d6e70" stroke-width="1.4" />
<text x="63.30" y="474.00" font-size="5.6" fill="#231f20" stroke="#231f20" stroke-width="0.12" text-anchor="middle" textLength="3.40" lengthAdjust="spacingAndGlyphs" >**</text>
<line x1="36.20" y1="533.03" x2="46.20" y2="533.03" stroke="#d68b22" stroke-width="1.1" />
<line x1="41.20" y1="530.05" x2="41.20" y2="536.01" stroke="#d68b22" stroke-width="0.9" />
<line x1="38.80" y1="530.05" x2="43.60" y2="530.05" stroke="#d68b22" stroke-width="0.9" />
<line x1="38.80" y1="536.01" x2="43.60" y2="536.01" stroke="#d68b22" stroke-width="0.9" />
<circle cx="41.20" cy="527.57" r="1.45" fill="#d68b22" />
<circle cx="41.20" cy="533.03" r="1.45" fill="#d68b22" />
<circle cx="41.20" cy="537.50" r="1.45" fill="#d68b22" />
<circle cx="39.20" cy="532.54" r="1.45" fill="#d68b22" />
<line x1="51.00" y1="509.19" x2="61.00" y2="509.19" stroke="#30507f" stroke-width="1.1" />
<line x1="56.00" y1="501.25" x2="56.00" y2="517.14" stroke="#30507f" stroke-width="0.9" />
<line x1="53.60" y1="501.25" x2="58.40" y2="501.25" stroke="#30507f" stroke-width="0.9" />
<line x1="53.60" y1="517.14" x2="58.40" y2="517.14" stroke="#30507f" stroke-width="0.9" />
<circle cx="56.00" cy="484.36" r="1.45" fill="#30507f" />
<circle cx="57.50" cy="507.21" r="1.45" fill="#30507f" />
<circle cx="55.00" cy="509.19" r="1.45" fill="#30507f" />
<circle cx="56.00" cy="516.15" r="1.45" fill="#30507f" />
<circle cx="56.00" cy="532.54" r="1.45" fill="#30507f" />
<line x1="66.40" y1="537.50" x2="75.00" y2="537.50" stroke="#b3304a" stroke-width="2.6" />
<line x1="118.00" y1="475.60" x2="118.00" y2="538.60" stroke="#231f20" stroke-width="1.2" />
<line x1="117.40" y1="538.00" x2="167.40" y2="538.00" stroke="#231f20" stroke-width="1.2" />
<line x1="114.40" y1="538.00" x2="118.00" y2="538.00" stroke="#231f20" stroke-width="0.9" />
<text x="111.00" y="540.25" font-size="6.5" fill="#231f20" stroke="#231f20" stroke-width="0.12" text-anchor="end" textLength="3.40" lengthAdjust="spacingAndGlyphs" >0</text>
<line x1="114.40" y1="523.10" x2="118.00" y2="523.10" stroke="#231f20" stroke-width="0.9" />
<text x="111.00" y="525.35" font-size="6.5" fill="#231f20" stroke="#231f20" stroke-width="0.12" text-anchor="end" textLength="6.40" lengthAdjust="spacingAndGlyphs" >10</text>
<line x1="114.40" y1="508.20" x2="118.00" y2="508.20" stroke="#231f20" stroke-width="0.9" />
<text x="111.00" y="510.45" font-size="6.5" fill="#231f20" stroke="#231f20" stroke-width="0.12" text-anchor="end" textLength="6.40" lengthAdjust="spacingAndGlyphs" >20</text>
<line x1="114.40" y1="493.30" x2="118.00" y2="493.30" stroke="#231f20" stroke-width="0.9" />
<text x="111.00" y="495.55" font-size="6.5" fill="#231f20" stroke="#231f20" stroke-width="0.12" text-anchor="end" textLength="6.40" lengthAdjust="spacingAndGlyphs" >30</text>
<line x1="114.40" y1="478.40" x2="118.00" y2="478.40" stroke="#231f20" stroke-width="0.9" />
<text x="111.00" y="480.65" font-size="6.5" fill="#231f20" stroke="#231f20" stroke-width="0.12" text-anchor="end" textLength="6.40" lengthAdjust="spacingAndGlyphs" >40</text>
<text x="142.60" y="453.80" font-size="8.0" fill="#231f20" stroke="#231f20" stroke-width="0.05" text-anchor="middle" textLength="13.90" lengthAdjust="spacingAndGlyphs" >IL-4</text>
<text x="97.80" y="525.00" font-size="8.2" fill="#231f20" stroke="#231f20" stroke-width="0.05" textLength="45.10" lengthAdjust="spacingAndGlyphs" transform="rotate(-90 97.80 525.00)" >IL-4 (pg/mL)</text>
<line x1="127.50" y1="466.20" x2="157.50" y2="466.20" stroke="#3a3a3a" stroke-width="1.0" />
<text x="142.60" y="463.90" font-size="4.6" fill="#231f20" stroke="#231f20" stroke-width="0.12" text-anchor="middle" textLength="5.60" lengthAdjust="spacingAndGlyphs" style="font-style:italic" >ns</text>
<line x1="142.80" y1="474.90" x2="157.10" y2="474.90" stroke="#6d6e70" stroke-width="1.4" />
<text x="149.90" y="474.00" font-size="5.6" fill="#231f20" stroke="#231f20" stroke-width="0.12" text-anchor="middle" textLength="3.40" lengthAdjust="spacingAndGlyphs" >**</text>
<line x1="122.80" y1="523.70" x2="132.80" y2="523.70" stroke="#d68b22" stroke-width="1.1" />
<line x1="127.80" y1="521.61" x2="127.80" y2="525.78" stroke="#d68b22" stroke-width="0.9" />
<line x1="125.40" y1="521.61" x2="130.20" y2="521.61" stroke="#d68b22" stroke-width="0.9" />
<line x1="125.40" y1="525.78" x2="130.20" y2="525.78" stroke="#d68b22" stroke-width="0.9" />
<circle cx="127.80" cy="519.38" r="1.45" fill="#d68b22" />
<circle cx="129.80" cy="523.55" r="1.45" fill="#d68b22" />
<circle cx="125.80" cy="527.12" r="1.45" fill="#d68b22" />
<circle cx="126.80" cy="524.59" r="1.45" fill="#d68b22" />
<line x1="137.60" y1="502.24" x2="147.60" y2="502.24" stroke="#30507f" stroke-width="1.1" />
<line x1="142.60" y1="494.04" x2="142.60" y2="510.44" stroke="#30507f" stroke-width="0.9" />
<line x1="140.20" y1="494.04" x2="145.00" y2="494.04" stroke="#30507f" stroke-width="0.9" />
<line x1="140.20" y1="510.44" x2="145.00" y2="510.44" stroke="#30507f" stroke-width="0.9" />
<circle cx="142.60" cy="479.89" r="1.45" fill="#30507f" />
<circle cx="142.60" cy="489.57" r="1.45" fill="#30507f" />
<circle cx="142.60" cy="502.24" r="1.45" fill="#30507f" />
<circle cx="142.60" cy="512.67" r="1.45" fill="#30507f" />
<circle cx="142.60" cy="526.08" r="1.45" fill="#30507f" />
<line x1="153.00" y1="537.50" x2="161.60" y2="537.50" stroke="#b3304a" stroke-width="2.6" />
<line x1="205.30" y1="475.60" x2="205.30" y2="538.60" stroke="#231f20" stroke-width="1.2" />
<line x1="204.70" y1="538.00" x2="254.70" y2="538.00" stroke="#231f20" stroke-width="1.2" />
<line x1="201.70" y1="538.00" x2="205.30" y2="538.00" stroke="#231f20" stroke-width="0.9" />
<text x="198.30" y="540.25" font-size="6.5" fill="#231f20" stroke="#231f20" stroke-width="0.12" text-anchor="end" textLength="3.40" lengthAdjust="spacingAndGlyphs" >0</text>
<line x1="201.70" y1="518.13" x2="205.30" y2="518.13" stroke="#231f20" stroke-width="0.9" />
<text x="198.30" y="520.38" font-size="6.5" fill="#231f20" stroke="#231f20" stroke-width="0.12" text-anchor="end" textLength="6.40" lengthAdjust="spacingAndGlyphs" >10</text>
<line x1="201.70" y1="498.27" x2="205.30" y2="498.27" stroke="#231f20" stroke-width="0.9" />
<text x="198.30" y="500.52" font-size="6.5" fill="#231f20" stroke="#231f20" stroke-width="0.12" text-anchor="end" textLength="6.40" lengthAdjust="spacingAndGlyphs" >20</text>
<line x1="201.70" y1="478.40" x2="205.30" y2="478.40" stroke="#231f20" stroke-width="0.9" />
<text x="198.30" y="480.65" font-size="6.5" fill="#231f20" stroke="#231f20" stroke-width="0.12" text-anchor="end" textLength="6.40" lengthAdjust="spacingAndGlyphs" >30</text>
<text x="229.90" y="453.80" font-size="8.0" fill="#231f20" stroke="#231f20" stroke-width="0.05" text-anchor="middle" textLength="13.30" lengthAdjust="spacingAndGlyphs" >IL-6</text>
<text x="185.80" y="528.10" font-size="8.2" fill="#231f20" stroke="#231f20" stroke-width="0.05" textLength="44.60" lengthAdjust="spacingAndGlyphs" transform="rotate(-90 185.80 528.10)" >IL-6 (pg/mL)</text>
<line x1="214.80" y1="466.20" x2="244.80" y2="466.20" stroke="#3a3a3a" stroke-width="1.0" />
<text x="229.90" y="463.90" font-size="4.6" fill="#231f20" stroke="#231f20" stroke-width="0.12" text-anchor="middle" textLength="5.60" lengthAdjust="spacingAndGlyphs" style="font-style:italic" >ns</text>
<line x1="230.10" y1="474.90" x2="244.40" y2="474.90" stroke="#6d6e70" stroke-width="1.4" />
<text x="237.20" y="474.00" font-size="5.6" fill="#231f20" stroke="#231f20" stroke-width="0.12" text-anchor="middle" textLength="3.40" lengthAdjust="spacingAndGlyphs" >**</text>
<line x1="210.10" y1="534.42" x2="220.10" y2="534.42" stroke="#d68b22" stroke-width="1.1" />
<line x1="215.10" y1="532.83" x2="215.10" y2="536.01" stroke="#d68b22" stroke-width="0.9" />
<line x1="212.70" y1="532.83" x2="217.50" y2="532.83" stroke="#d68b22" stroke-width="0.9" />
<line x1="212.70" y1="536.01" x2="217.50" y2="536.01" stroke="#d68b22" stroke-width="0.9" />
<circle cx="215.10" cy="531.64" r="1.45" fill="#d68b22" />
<circle cx="213.10" cy="534.42" r="1.45" fill="#d68b22" />
<circle cx="217.10" cy="535.42" r="1.45" fill="#d68b22" />
<circle cx="215.10" cy="536.81" r="1.45" fill="#d68b22" />
<line x1="224.90" y1="501.25" x2="234.90" y2="501.25" stroke="#30507f" stroke-width="1.1" />
<line x1="229.90" y1="493.30" x2="229.90" y2="509.59" stroke="#30507f" stroke-width="0.9" />
<line x1="227.50" y1="493.30" x2="232.30" y2="493.30" stroke="#30507f" stroke-width="0.9" />
<line x1="227.50" y1="509.59" x2="232.30" y2="509.59" stroke="#30507f" stroke-width="0.9" />
<circle cx="229.90" cy="481.58" r="1.45" fill="#30507f" />
<circle cx="229.90" cy="486.35" r="1.45" fill="#30507f" />
<circle cx="229.90" cy="501.25" r="1.45" fill="#30507f" />
<circle cx="229.90" cy="510.19" r="1.45" fill="#30507f" />
<circle cx="229.90" cy="527.07" r="1.45" fill="#30507f" />
<line x1="240.30" y1="537.50" x2="248.90" y2="537.50" stroke="#b3304a" stroke-width="2.6" />
<line x1="292.40" y1="475.60" x2="292.40" y2="538.60" stroke="#231f20" stroke-width="1.2" />
<line x1="291.80" y1="538.00" x2="341.80" y2="538.00" stroke="#231f20" stroke-width="1.2" />
<line x1="288.80" y1="538.00" x2="292.40" y2="538.00" stroke="#231f20" stroke-width="0.9" />
<text x="285.40" y="540.25" font-size="6.5" fill="#231f20" stroke="#231f20" stroke-width="0.12" text-anchor="end" textLength="3.40" lengthAdjust="spacingAndGlyphs" >0</text>
<line x1="288.80" y1="523.10" x2="292.40" y2="523.10" stroke="#231f20" stroke-width="0.9" />
<text x="285.40" y="525.35" font-size="6.5" fill="#231f20" stroke="#231f20" stroke-width="0.12" text-anchor="end" textLength="6.40" lengthAdjust="spacingAndGlyphs" >20</text>
<line x1="288.80" y1="508.20" x2="292.40" y2="508.20" stroke="#231f20" stroke-width="0.9" />
<text x="285.40" y="510.45" font-size="6.5" fill="#231f20" stroke="#231f20" stroke-width="0.12" text-anchor="end" textLength="6.40" lengthAdjust="spacingAndGlyphs" >40</text>
<line x1="288.80" y1="493.30" x2="292.40" y2="493.30" stroke="#231f20" stroke-width="0.9" />
<text x="285.40" y="495.55" font-size="6.5" fill="#231f20" stroke="#231f20" stroke-width="0.12" text-anchor="end" textLength="6.40" lengthAdjust="spacingAndGlyphs" >60</text>
<line x1="288.80" y1="478.40" x2="292.40" y2="478.40" stroke="#231f20" stroke-width="0.9" />
<text x="285.40" y="480.65" font-size="6.5" fill="#231f20" stroke="#231f20" stroke-width="0.12" text-anchor="end" textLength="6.40" lengthAdjust="spacingAndGlyphs" >80</text>
<text x="317.00" y="453.80" font-size="8.0" fill="#231f20" stroke="#231f20" stroke-width="0.05" text-anchor="middle" textLength="13.50" lengthAdjust="spacingAndGlyphs" >IL-9</text>
<text x="272.50" y="528.60" font-size="8.2" fill="#231f20" stroke="#231f20" stroke-width="0.05" textLength="45.10" lengthAdjust="spacingAndGlyphs" transform="rotate(-90 272.50 528.60)" >IL-9 (pg/mL)</text>
<line x1="301.90" y1="466.20" x2="331.90" y2="466.20" stroke="#3a3a3a" stroke-width="1.0" />
<text x="317.00" y="463.90" font-size="4.6" fill="#231f20" stroke="#231f20" stroke-width="0.12" text-anchor="middle" textLength="5.60" lengthAdjust="spacingAndGlyphs" style="font-style:italic" >ns</text>
<line x1="317.20" y1="474.90" x2="331.50" y2="474.90" stroke="#6d6e70" stroke-width="1.4" />
<text x="324.30" y="474.00" font-size="5.6" fill="#231f20" stroke="#231f20" stroke-width="0.12" text-anchor="middle" textLength="5.00" lengthAdjust="spacingAndGlyphs" >***</text>
<line x1="297.20" y1="521.24" x2="307.20" y2="521.24" stroke="#d68b22" stroke-width="1.1" />
<line x1="302.20" y1="520.72" x2="302.20" y2="521.76" stroke="#d68b22" stroke-width="0.9" />
<line x1="299.80" y1="520.72" x2="304.60" y2="520.72" stroke="#d68b22" stroke-width="0.9" />
<line x1="299.80" y1="521.76" x2="304.60" y2="521.76" stroke="#d68b22" stroke-width="0.9" />
<circle cx="299.20" cy="520.49" r="1.45" fill="#d68b22" />
<circle cx="301.20" cy="521.01" r="1.45" fill="#d68b22" />
<circle cx="303.20" cy="521.61" r="1.45" fill="#d68b22" />
<circle cx="305.20" cy="521.39" r="1.45" fill="#d68b22" />
<line x1="312.00" y1="501.50" x2="322.00" y2="501.50" stroke="#30507f" stroke-width="1.1" />
<line x1="317.00" y1="496.28" x2="317.00" y2="506.71" stroke="#30507f" stroke-width="0.9" />
<line x1="314.60" y1="496.28" x2="319.40" y2="496.28" stroke="#30507f" stroke-width="0.9" />
<line x1="314.60" y1="506.71" x2="319.40" y2="506.71" stroke="#30507f" stroke-width="0.9" />
<circle cx="317.00" cy="487.34" r="1.45" fill="#30507f" />
<circle cx="317.00" cy="492.55" r="1.45" fill="#30507f" />
<circle cx="318.50" cy="503.73" r="1.45" fill="#30507f" />
<circle cx="316.00" cy="504.47" r="1.45" fill="#30507f" />
<circle cx="317.00" cy="517.88" r="1.45" fill="#30507f" />
<line x1="326.70" y1="534.27" x2="336.70" y2="534.27" stroke="#9c1a32" stroke-width="1.1" />
<line x1="331.70" y1="532.78" x2="331.70" y2="535.39" stroke="#9c1a32" stroke-width="0.9" />
<line x1="329.30" y1="532.78" x2="334.10" y2="532.78" stroke="#9c1a32" stroke-width="0.9" />
<line x1="329.30" y1="535.39" x2="334.10" y2="535.39" stroke="#9c1a32" stroke-width="0.9" />
<circle cx="331.70" cy="530.18" r="1.45" fill="#9c1a32" />
<circle cx="329.20" cy="534.13" r="1.45" fill="#9c1a32" />
<circle cx="334.20" cy="534.27" r="1.45" fill="#9c1a32" />
<circle cx="331.70" cy="535.76" r="1.45" fill="#9c1a32" />
<circle cx="331.70" cy="536.51" r="1.45" fill="#9c1a32" />
<line x1="375.60" y1="475.60" x2="375.60" y2="538.60" stroke="#231f20" stroke-width="1.2" />
<line x1="375.00" y1="538.00" x2="425.00" y2="538.00" stroke="#231f20" stroke-width="1.2" />
<line x1="372.00" y1="538.00" x2="375.60" y2="538.00" stroke="#231f20" stroke-width="0.9" />
<text x="368.60" y="540.25" font-size="6.5" fill="#231f20" stroke="#231f20" stroke-width="0.12" text-anchor="end" textLength="3.40" lengthAdjust="spacingAndGlyphs" >0</text>
<line x1="372.00" y1="518.13" x2="375.60" y2="518.13" stroke="#231f20" stroke-width="0.9" />
<text x="368.60" y="520.38" font-size="6.5" fill="#231f20" stroke="#231f20" stroke-width="0.12" text-anchor="end" textLength="3.40" lengthAdjust="spacingAndGlyphs" >2</text>
<line x1="372.00" y1="498.27" x2="375.60" y2="498.27" stroke="#231f20" stroke-width="0.9" />
<text x="368.60" y="500.52" font-size="6.5" fill="#231f20" stroke="#231f20" stroke-width="0.12" text-anchor="end" textLength="3.40" lengthAdjust="spacingAndGlyphs" >4</text>
<line x1="372.00" y1="478.40" x2="375.60" y2="478.40" stroke="#231f20" stroke-width="0.9" />
<text x="368.60" y="480.65" font-size="6.5" fill="#231f20" stroke="#231f20" stroke-width="0.12" text-anchor="end" textLength="3.40" lengthAdjust="spacingAndGlyphs" >6</text>
<text x="400.20" y="453.80" font-size="8.0" fill="#231f20" stroke="#231f20" stroke-width="0.05" text-anchor="middle" textLength="18.20" lengthAdjust="spacingAndGlyphs" >IL-13</text>
<text x="359.40" y="531.20" font-size="8.2" fill="#231f20" stroke="#231f20" stroke-width="0.05" textLength="52.40" lengthAdjust="spacingAndGlyphs" transform="rotate(-90 359.40 531.20)" >IL-13 (pg/mL)</text>
<line x1="385.10" y1="466.20" x2="415.10" y2="466.20" stroke="#3a3a3a" stroke-width="1.0" />
<text x="400.20" y="463.90" font-size="4.6" fill="#231f20" stroke="#231f20" stroke-width="0.12" text-anchor="middle" textLength="5.60" lengthAdjust="spacingAndGlyphs" style="font-style:italic" >ns</text>
<line x1="400.40" y1="474.90" x2="414.70" y2="474.90" stroke="#6d6e70" stroke-width="1.4" />
<text x="407.50" y="474.00" font-size="5.6" fill="#231f20" stroke="#231f20" stroke-width="0.12" text-anchor="middle" textLength="5.00" lengthAdjust="spacingAndGlyphs" >***</text>
<line x1="380.40" y1="524.59" x2="390.40" y2="524.59" stroke="#d68b22" stroke-width="1.1" />
<line x1="385.40" y1="523.60" x2="385.40" y2="525.58" stroke="#d68b22" stroke-width="0.9" />
<line x1="383.00" y1="523.60" x2="387.80" y2="523.60" stroke="#d68b22" stroke-width="0.9" />
<line x1="383.00" y1="525.58" x2="387.80" y2="525.58" stroke="#d68b22" stroke-width="0.9" />
<circle cx="382.40" cy="524.09" r="1.45" fill="#d68b22" />
<circle cx="384.40" cy="524.59" r="1.45" fill="#d68b22" />
<circle cx="386.40" cy="525.58" r="1.45" fill="#d68b22" />
<circle cx="388.40" cy="524.09" r="1.45" fill="#d68b22" />
<line x1="395.20" y1="502.24" x2="405.20" y2="502.24" stroke="#30507f" stroke-width="1.1" />
<line x1="400.20" y1="497.27" x2="400.20" y2="507.21" stroke="#30507f" stroke-width="0.9" />
<line x1="397.80" y1="497.27" x2="402.60" y2="497.27" stroke="#30507f" stroke-width="0.9" />
<line x1="397.80" y1="507.21" x2="402.60" y2="507.21" stroke="#30507f" stroke-width="0.9" />
<circle cx="400.20" cy="487.34" r="1.45" fill="#30507f" />
<circle cx="401.70" cy="496.28" r="1.45" fill="#30507f" />
<circle cx="399.20" cy="498.27" r="1.45" fill="#30507f" />
<circle cx="400.20" cy="508.20" r="1.45" fill="#30507f" />
<circle cx="400.20" cy="519.13" r="1.45" fill="#30507f" />
<line x1="409.90" y1="534.52" x2="419.90" y2="534.52" stroke="#9c1a32" stroke-width="1.1" />
<line x1="414.90" y1="533.53" x2="414.90" y2="535.52" stroke="#9c1a32" stroke-width="0.9" />
<line x1="412.50" y1="533.53" x2="417.30" y2="533.53" stroke="#9c1a32" stroke-width="0.9" />
<line x1="412.50" y1="535.52" x2="417.30" y2="535.52" stroke="#9c1a32" stroke-width="0.9" />
<circle cx="414.90" cy="530.05" r="1.45" fill="#9c1a32" />
<circle cx="412.40" cy="534.52" r="1.45" fill="#9c1a32" />
<circle cx="417.40" cy="534.52" r="1.45" fill="#9c1a32" />
<circle cx="414.90" cy="535.02" r="1.45" fill="#9c1a32" />
<line x1="462.50" y1="475.60" x2="462.50" y2="538.60" stroke="#231f20" stroke-width="1.2" />
<line x1="461.90" y1="538.00" x2="511.90" y2="538.00" stroke="#231f20" stroke-width="1.2" />
<line x1="458.90" y1="538.00" x2="462.50" y2="538.00" stroke="#231f20" stroke-width="0.9" />
<text x="455.50" y="540.25" font-size="6.5" fill="#231f20" stroke="#231f20" stroke-width="0.12" text-anchor="end" textLength="3.40" lengthAdjust="spacingAndGlyphs" >0</text>
<line x1="458.90" y1="523.10" x2="462.50" y2="523.10" stroke="#231f20" stroke-width="0.9" />
<text x="455.50" y="525.35" font-size="6.5" fill="#231f20" stroke="#231f20" stroke-width="0.12" text-anchor="end" textLength="6.40" lengthAdjust="spacingAndGlyphs" >10</text>
<line x1="458.90" y1="508.20" x2="462.50" y2="508.20" stroke="#231f20" stroke-width="0.9" />
<text x="455.50" y="510.45" font-size="6.5" fill="#231f20" stroke="#231f20" stroke-width="0.12" text-anchor="end" textLength="6.40" lengthAdjust="spacingAndGlyphs" >20</text>
<line x1="458.90" y1="493.30" x2="462.50" y2="493.30" stroke="#231f20" stroke-width="0.9" />
<text x="455.50" y="495.55" font-size="6.5" fill="#231f20" stroke="#231f20" stroke-width="0.12" text-anchor="end" textLength="6.40" lengthAdjust="spacingAndGlyphs" >30</text>
<line x1="458.90" y1="478.40" x2="462.50" y2="478.40" stroke="#231f20" stroke-width="0.9" />
<text x="455.50" y="480.65" font-size="6.5" fill="#231f20" stroke="#231f20" stroke-width="0.12" text-anchor="end" textLength="6.40" lengthAdjust="spacingAndGlyphs" >40</text>
<text x="487.10" y="453.80" font-size="8.0" fill="#231f20" stroke="#231f20" stroke-width="0.05" text-anchor="middle" textLength="17.10" lengthAdjust="spacingAndGlyphs" >IFNγ</text>
<text x="442.30" y="530.70" font-size="8.2" fill="#231f20" stroke="#231f20" stroke-width="0.05" textLength="50.80" lengthAdjust="spacingAndGlyphs" transform="rotate(-90 442.30 530.70)" >IFNγ (pg/mL)</text>
<line x1="472.00" y1="466.20" x2="502.00" y2="466.20" stroke="#3a3a3a" stroke-width="1.0" />
<text x="487.10" y="463.90" font-size="4.6" fill="#231f20" stroke="#231f20" stroke-width="0.12" text-anchor="middle" textLength="5.60" lengthAdjust="spacingAndGlyphs" style="font-style:italic" >ns</text>
<line x1="487.30" y1="474.90" x2="501.60" y2="474.90" stroke="#6d6e70" stroke-width="1.4" />
<text x="494.40" y="474.00" font-size="5.6" fill="#231f20" stroke="#231f20" stroke-width="0.12" text-anchor="middle" textLength="3.40" lengthAdjust="spacingAndGlyphs" >**</text>
<line x1="467.30" y1="531.59" x2="477.30" y2="531.59" stroke="#d68b22" stroke-width="1.1" />
<line x1="472.30" y1="530.85" x2="472.30" y2="532.34" stroke="#d68b22" stroke-width="0.9" />
<line x1="469.90" y1="530.85" x2="474.70" y2="530.85" stroke="#d68b22" stroke-width="0.9" />
<line x1="469.90" y1="532.34" x2="474.70" y2="532.34" stroke="#d68b22" stroke-width="0.9" />
<circle cx="469.30" cy="530.85" r="1.45" fill="#d68b22" />
<circle cx="471.30" cy="531.59" r="1.45" fill="#d68b22" />
<circle cx="473.30" cy="533.23" r="1.45" fill="#d68b22" />
<circle cx="475.30" cy="531.29" r="1.45" fill="#d68b22" />
<line x1="482.10" y1="508.20" x2="492.10" y2="508.20" stroke="#30507f" stroke-width="1.1" />
<line x1="487.10" y1="502.24" x2="487.10" y2="514.16" stroke="#30507f" stroke-width="0.9" />
<line x1="484.70" y1="502.24" x2="489.50" y2="502.24" stroke="#30507f" stroke-width="0.9" />
<line x1="484.70" y1="514.16" x2="489.50" y2="514.16" stroke="#30507f" stroke-width="0.9" />
<circle cx="487.10" cy="485.85" r="1.45" fill="#30507f" />
<circle cx="485.60" cy="518.63" r="1.45" fill="#30507f" />
<circle cx="488.60" cy="518.63" r="1.45" fill="#30507f" />
<circle cx="485.60" cy="508.20" r="1.45" fill="#30507f" />
<circle cx="488.60" cy="508.20" r="1.45" fill="#30507f" />
<line x1="496.80" y1="529.06" x2="506.80" y2="529.06" stroke="#9c1a32" stroke-width="1.1" />
<line x1="501.80" y1="527.57" x2="501.80" y2="530.55" stroke="#9c1a32" stroke-width="0.9" />
<line x1="499.40" y1="527.57" x2="504.20" y2="527.57" stroke="#9c1a32" stroke-width="0.9" />
<line x1="499.40" y1="530.55" x2="504.20" y2="530.55" stroke="#9c1a32" stroke-width="0.9" />
<circle cx="499.30" cy="526.38" r="1.45" fill="#9c1a32" />
<circle cx="504.30" cy="526.38" r="1.45" fill="#9c1a32" />
<circle cx="501.80" cy="529.06" r="1.45" fill="#9c1a32" />
<circle cx="498.80" cy="529.36" r="1.45" fill="#9c1a32" />
<circle cx="504.80" cy="529.80" r="1.45" fill="#9c1a32" />
<circle cx="501.80" cy="532.19" r="1.45" fill="#9c1a32" />
<circle cx="168.70" cy="551.20" r="1.80" fill="#d68b22" />
<text x="172.70" y="553.00" font-size="5.4" fill="#231f20" stroke="#231f20" stroke-width="0.12" textLength="36.00" lengthAdjust="spacingAndGlyphs" >Mock + vehicle</text>
<circle cx="221.50" cy="551.20" r="1.80" fill="#30507f" />
<text x="226.20" y="553.00" font-size="5.4" fill="#231f20" stroke="#231f20" stroke-width="0.12" textLength="45.80" lengthAdjust="spacingAndGlyphs" >CD19.BBζ + vehicle</text>
<circle cx="288.10" cy="551.20" r="1.80" fill="#9c1a32" />
<text x="293.40" y="553.00" font-size="5.4" fill="#231f20" stroke="#231f20" stroke-width="0.12" textLength="50.20" lengthAdjust="spacingAndGlyphs" >CD19.BBζ + dasatinib</text>
<text x="7.80" y="574.90" font-size="11" fill="#231f20" stroke="#231f20" stroke-width="0.05" textLength="7.40" lengthAdjust="spacingAndGlyphs" >G</text>
<text x="74.00" y="589.00" font-size="7.0" fill="#e6a04a" stroke="#e6a04a" stroke-width="0.05" text-anchor="end" textLength="15.50" lengthAdjust="spacingAndGlyphs" >Mock</text>
<text x="74.00" y="605.90" font-size="7.0" fill="#52699a" stroke="#52699a" stroke-width="0.05" text-anchor="end" textLength="54.10" lengthAdjust="spacingAndGlyphs" >CD19.BBζ + vehicle</text>
<text x="74.00" y="622.90" font-size="7.0" fill="#b63a4e" stroke="#b63a4e" stroke-width="0.05" text-anchor="end" textLength="60.20" lengthAdjust="spacingAndGlyphs" >CD19.BBζ + dasatinib</text>
<rect x="77.30" y="578.40" width="7.61" height="16.75" fill="#433566" />
<rect x="84.61" y="578.40" width="7.61" height="16.75" fill="#3f4f8b" />
<rect x="91.92" y="578.40" width="7.61" height="16.75" fill="#3f508c" />
<rect x="99.23" y="578.40" width="7.61" height="16.75" fill="#3f4f8b" />
<rect x="106.54" y="578.40" width="7.61" height="16.75" fill="#453775" />
<rect x="113.85" y="578.40" width="7.61" height="16.75" fill="#3f508c" />
<rect x="121.16" y="578.40" width="7.61" height="16.75" fill="#3f4f8b" />
<rect x="128.47" y="578.40" width="7.61" height="16.75" fill="#42345f" />
<rect x="135.78" y="578.40" width="7.61" height="16.75" fill="#453775" />
<rect x="143.09" y="578.40" width="7.61" height="16.75" fill="#453775" />
<rect x="150.40" y="578.40" width="7.61" height="16.75" fill="#453775" />
<rect x="157.71" y="578.40" width="7.61" height="16.75" fill="#3f4f8b" />
<rect x="165.02" y="578.40" width="7.61" height="16.75" fill="#453775" />
<rect x="172.33" y="578.40" width="7.61" height="16.75" fill="#453775" />
<rect x="179.64" y="578.40" width="7.61" height="16.75" fill="#42345f" />
<rect x="186.95" y="578.40" width="7.61" height="16.75" fill="#453775" />
<rect x="194.26" y="578.40" width="7.61" height="16.75" fill="#453775" />
<rect x="201.57" y="578.40" width="7.61" height="16.75" fill="#414482" />
<rect x="208.88" y="578.40" width="7.61" height="16.75" fill="#3f4f8b" />
<rect x="216.19" y="578.40" width="7.61" height="16.75" fill="#42345f" />
<rect x="223.50" y="578.40" width="7.61" height="16.75" fill="#453775" />
<rect x="230.81" y="578.40" width="7.61" height="16.75" fill="#453775" />
<rect x="238.12" y="578.40" width="7.61" height="16.75" fill="#433b7e" />
<rect x="245.43" y="578.40" width="7.61" height="16.75" fill="#3f4f8b" />
<rect x="252.74" y="578.40" width="7.61" height="16.75" fill="#3f4f8b" />
<rect x="260.06" y="578.40" width="7.61" height="16.75" fill="#3f4f8b" />
<rect x="267.37" y="578.40" width="7.61" height="16.75" fill="#42345f" />
<rect x="274.68" y="578.40" width="7.61" height="16.75" fill="#3f4f8b" />
<rect x="281.99" y="578.40" width="7.61" height="16.75" fill="#3f4f8b" />
<rect x="289.30" y="578.40" width="7.61" height="16.75" fill="#3f4f8b" />
<rect x="296.61" y="578.40" width="7.61" height="16.75" fill="#42345f" />
<rect x="303.92" y="578.40" width="7.61" height="16.75" fill="#42345f" />
<rect x="311.23" y="578.40" width="7.61" height="16.75" fill="#414482" />
<rect x="318.54" y="578.40" width="7.61" height="16.75" fill="#453775" />
<rect x="325.85" y="578.40" width="7.61" height="16.75" fill="#453775" />
<rect x="333.16" y="578.40" width="7.61" height="16.75" fill="#42345f" />
<rect x="340.47" y="578.40" width="7.61" height="16.75" fill="#413459" />
<rect x="347.78" y="578.40" width="7.61" height="16.75" fill="#45386e" />
<rect x="355.09" y="578.40" width="7.61" height="16.75" fill="#3f4f8b" />
<rect x="362.40" y="578.40" width="7.61" height="16.75" fill="#453775" />
<rect x="369.71" y="578.40" width="7.61" height="16.75" fill="#42345f" />
<rect x="377.02" y="578.40" width="7.61" height="16.75" fill="#453775" />
<rect x="384.33" y="578.40" width="7.61" height="16.75" fill="#453775" />
<rect x="391.64" y="578.40" width="7.61" height="16.75" fill="#42345f" />
<rect x="398.95" y="578.40" width="7.61" height="16.75" fill="#453775" />
<rect x="406.26" y="578.40" width="7.61" height="16.75" fill="#453775" />
<rect x="413.57" y="578.40" width="7.61" height="16.75" fill="#42345f" />
<rect x="420.88" y="578.40" width="7.61" height="16.75" fill="#3f4f8b" />
<rect x="428.19" y="578.40" width="7.61" height="16.75" fill="#3f4f8b" />
<rect x="77.30" y="595.10" width="7.61" height="16.85" fill="#3a3a20" />
<rect x="84.61" y="595.10" width="7.61" height="16.85" fill="#c8c040" />
<rect x="91.92" y="595.10" width="7.61" height="16.85" fill="#f5e438" />
<rect x="99.23" y="595.10" width="7.61" height="16.85" fill="#b0a840" />
<rect x="106.54" y="595.10" width="7.61" height="16.85" fill="#8f8e3e" />
<rect x="113.85" y="595.10" width="7.61" height="16.85" fill="#f5e438" />
<rect x="121.16" y="595.10" width="7.61" height="16.85" fill="#d8d040" />
<rect x="128.47" y="595.10" width="7.61" height="16.85" fill="#1a1a18" />
<rect x="135.78" y="595.10" width="7.61" height="16.85" fill="#4a4828" />
<rect x="143.09" y="595.10" width="7.61" height="16.85" fill="#6e6e36" />
<rect x="150.40" y="595.10" width="7.61" height="16.85" fill="#909040" />
<rect x="157.71" y="595.10" width="7.61" height="16.85" fill="#c0b838" />
<rect x="165.02" y="595.10" width="7.61" height="16.85" fill="#707030" />
<rect x="172.33" y="595.10" width="7.61" height="16.85" fill="#787838" />
<rect x="179.64" y="595.10" width="7.61" height="16.85" fill="#2a2a18" />
<rect x="186.95" y="595.10" width="7.61" height="16.85" fill="#a0a040" />
<rect x="194.26" y="595.10" width="7.61" height="16.85" fill="#a8a040" />
<rect x="201.57" y="595.10" width="7.61" height="16.85" fill="#c0b840" />
<rect x="208.88" y="595.10" width="7.61" height="16.85" fill="#f5e438" />
<rect x="216.19" y="595.10" width="7.61" height="16.85" fill="#606028" />
<rect x="223.50" y="595.10" width="7.61" height="16.85" fill="#6a6a30" />
<rect x="230.81" y="595.10" width="7.61" height="16.85" fill="#8c8a3a" />
<rect x="238.12" y="595.10" width="7.61" height="16.85" fill="#9a9840" />
<rect x="245.43" y="595.10" width="7.61" height="16.85" fill="#707030" />
<rect x="252.74" y="595.10" width="7.61" height="16.85" fill="#7a7835" />
<rect x="260.06" y="595.10" width="7.61" height="16.85" fill="#f5e438" />
<rect x="267.37" y="595.10" width="7.61" height="16.85" fill="#1e1e18" />
<rect x="274.68" y="595.10" width="7.61" height="16.85" fill="#808038" />
<rect x="281.99" y="595.10" width="7.61" height="16.85" fill="#d0c840" />
<rect x="289.30" y="595.10" width="7.61" height="16.85" fill="#e8dc38" />
<rect x="296.61" y="595.10" width="7.61" height="16.85" fill="#1c1c18" />
<rect x="303.92" y="595.10" width="7.61" height="16.85" fill="#202018" />
<rect x="311.23" y="595.10" width="7.61" height="16.85" fill="#a8a040" />
<rect x="318.54" y="595.10" width="7.61" height="16.85" fill="#8e8c38" />
<rect x="325.85" y="595.10" width="7.61" height="16.85" fill="#8a8838" />
<rect x="333.16" y="595.10" width="7.61" height="16.85" fill="#3a2e5e" />
<rect x="340.47" y="595.10" width="7.61" height="16.85" fill="#1e1e18" />
<rect x="347.78" y="595.10" width="7.61" height="16.85" fill="#383820" />
<rect x="355.09" y="595.10" width="7.61" height="16.85" fill="#f5e438" />
<rect x="362.40" y="595.10" width="7.61" height="16.85" fill="#8a8838" />
<rect x="369.71" y="595.10" width="7.61" height="16.85" fill="#383820" />
<rect x="377.02" y="595.10" width="7.61" height="16.85" fill="#808038" />
<rect x="384.33" y="595.10" width="7.61" height="16.85" fill="#b0a840" />
<rect x="391.64" y="595.10" width="7.61" height="16.85" fill="#5a5828" />
<rect x="398.95" y="595.10" width="7.61" height="16.85" fill="#2a2438" />
<rect x="406.26" y="595.10" width="7.61" height="16.85" fill="#6a6830" />
<rect x="413.57" y="595.10" width="7.61" height="16.85" fill="#606028" />
<rect x="420.88" y="595.10" width="7.61" height="16.85" fill="#d8d040" />
<rect x="428.19" y="595.10" width="7.61" height="16.85" fill="#282818" />
<rect x="77.30" y="611.90" width="7.61" height="16.75" fill="#3f4f8c" />
<rect x="84.61" y="611.90" width="7.61" height="16.75" fill="#3f4f8c" />
<rect x="91.92" y="611.90" width="7.61" height="16.75" fill="#3f4f8c" />
<rect x="99.23" y="611.90" width="7.61" height="16.75" fill="#424080" />
<rect x="106.54" y="611.90" width="7.61" height="16.75" fill="#3f4f8c" />
<rect x="113.85" y="611.90" width="7.61" height="16.75" fill="#3f4f8c" />
<rect x="121.16" y="611.90" width="7.61" height="16.75" fill="#3f4f8c" />
<rect x="128.47" y="611.90" width="7.61" height="16.75" fill="#3f4f8c" />
<rect x="135.78" y="611.90" width="7.61" height="16.75" fill="#3f4f8c" />
<rect x="143.09" y="611.90" width="7.61" height="16.75" fill="#3f4f8c" />
<rect x="150.40" y="611.90" width="7.61" height="16.75" fill="#3f4f8c" />
<rect x="157.71" y="611.90" width="7.61" height="16.75" fill="#3f4f8c" />
<rect x="165.02" y="611.90" width="7.61" height="16.75" fill="#3f4f8c" />
<rect x="172.33" y="611.90" width="7.61" height="16.75" fill="#3f4f8c" />
<rect x="179.64" y="611.90" width="7.61" height="16.75" fill="#3f4f8c" />
<rect x="186.95" y="611.90" width="7.61" height="16.75" fill="#3f4f8c" />
<rect x="194.26" y="611.90" width="7.61" height="16.75" fill="#3f4f8c" />
<rect x="201.57" y="611.90" width="7.61" height="16.75" fill="#3f4f8c" />
<rect x="208.88" y="611.90" width="7.61" height="16.75" fill="#3f4f8c" />
<rect x="216.19" y="611.90" width="7.61" height="16.75" fill="#3f4f8c" />
<rect x="223.50" y="611.90" width="7.61" height="16.75" fill="#3f4f8c" />
<rect x="230.81" y="611.90" width="7.61" height="16.75" fill="#3f4f8c" />
<rect x="238.12" y="611.90" width="7.61" height="16.75" fill="#3f4f8c" />
<rect x="245.43" y="611.90" width="7.61" height="16.75" fill="#42407e" />
<rect x="252.74" y="611.90" width="7.61" height="16.75" fill="#453a78" />
<rect x="260.06" y="611.90" width="7.61" height="16.75" fill="#3f4f8c" />
<rect x="267.37" y="611.90" width="7.61" height="16.75" fill="#3f4f8c" />
<rect x="274.68" y="611.90" width="7.61" height="16.75" fill="#463a74" />
<rect x="281.99" y="611.90" width="7.61" height="16.75" fill="#3f4f8c" />
<rect x="289.30" y="611.90" width="7.61" height="16.75" fill="#3f4f8c" />
<rect x="296.61" y="611.90" width="7.61" height="16.75" fill="#414482" />
<rect x="303.92" y="611.90" width="7.61" height="16.75" fill="#414482" />
<rect x="311.23" y="611.90" width="7.61" height="16.75" fill="#3f4f8c" />
<rect x="318.54" y="611.90" width="7.61" height="16.75" fill="#3f4f8c" />
<rect x="325.85" y="611.90" width="7.61" height="16.75" fill="#3f4f8c" />
<rect x="333.16" y="611.90" width="7.61" height="16.75" fill="#463a7e" />
<rect x="340.47" y="611.90" width="7.61" height="16.75" fill="#3f4f8c" />
<rect x="347.78" y="611.90" width="7.61" height="16.75" fill="#3f4f8c" />
<rect x="355.09" y="611.90" width="7.61" height="16.75" fill="#3f4f8c" />
<rect x="362.40" y="611.90" width="7.61" height="16.75" fill="#3f4f8c" />
<rect x="369.71" y="611.90" width="7.61" height="16.75" fill="#3f4f8c" />
<rect x="377.02" y="611.90" width="7.61" height="16.75" fill="#3f4f8c" />
<rect x="384.33" y="611.90" width="7.61" height="16.75" fill="#3f4f8c" />
<rect x="391.64" y="611.90" width="7.61" height="16.75" fill="#3f4f8c" />
<rect x="398.95" y="611.90" width="7.61" height="16.75" fill="#453a7c" />
<rect x="406.26" y="611.90" width="7.61" height="16.75" fill="#3f4f8c" />
<rect x="413.57" y="611.90" width="7.61" height="16.75" fill="#3f4f8c" />
<rect x="420.88" y="611.90" width="7.61" height="16.75" fill="#3f4f8c" />
<rect x="428.19" y="611.90" width="7.61" height="16.75" fill="#2e2840" />
<line x1="84.61" y1="578.40" x2="84.61" y2="628.60" stroke="#ffffff" stroke-width="0.25" stroke-opacity="0.12"/>
<line x1="91.92" y1="578.40" x2="91.92" y2="628.60" stroke="#ffffff" stroke-width="0.25" stroke-opacity="0.12"/>
<line x1="99.23" y1="578.40" x2="99.23" y2="628.60" stroke="#ffffff" stroke-width="0.25" stroke-opacity="0.12"/>
<line x1="106.54" y1="578.40" x2="106.54" y2="628.60" stroke="#ffffff" stroke-width="0.25" stroke-opacity="0.12"/>
<line x1="113.85" y1="578.40" x2="113.85" y2="628.60" stroke="#ffffff" stroke-width="0.25" stroke-opacity="0.12"/>
<line x1="121.16" y1="578.40" x2="121.16" y2="628.60" stroke="#ffffff" stroke-width="0.25" stroke-opacity="0.12"/>
<line x1="128.47" y1="578.40" x2="128.47" y2="628.60" stroke="#ffffff" stroke-width="0.25" stroke-opacity="0.12"/>
<line x1="135.78" y1="578.40" x2="135.78" y2="628.60" stroke="#ffffff" stroke-width="0.25" stroke-opacity="0.12"/>
<line x1="143.09" y1="578.40" x2="143.09" y2="628.60" stroke="#ffffff" stroke-width="0.25" stroke-opacity="0.12"/>
<line x1="150.40" y1="578.40" x2="150.40" y2="628.60" stroke="#ffffff" stroke-width="0.25" stroke-opacity="0.12"/>
<line x1="157.71" y1="578.40" x2="157.71" y2="628.60" stroke="#ffffff" stroke-width="0.25" stroke-opacity="0.12"/>
<line x1="165.02" y1="578.40" x2="165.02" y2="628.60" stroke="#ffffff" stroke-width="0.25" stroke-opacity="0.12"/>
<line x1="172.33" y1="578.40" x2="172.33" y2="628.60" stroke="#ffffff" stroke-width="0.25" stroke-opacity="0.12"/>
<line x1="179.64" y1="578.40" x2="179.64" y2="628.60" stroke="#ffffff" stroke-width="0.25" stroke-opacity="0.12"/>
<line x1="186.95" y1="578.40" x2="186.95" y2="628.60" stroke="#ffffff" stroke-width="0.25" stroke-opacity="0.12"/>
<line x1="194.26" y1="578.40" x2="194.26" y2="628.60" stroke="#ffffff" stroke-width="0.25" stroke-opacity="0.12"/>
<line x1="201.57" y1="578.40" x2="201.57" y2="628.60" stroke="#ffffff" stroke-width="0.25" stroke-opacity="0.12"/>
<line x1="208.88" y1="578.40" x2="208.88" y2="628.60" stroke="#ffffff" stroke-width="0.25" stroke-opacity="0.12"/>
<line x1="216.19" y1="578.40" x2="216.19" y2="628.60" stroke="#ffffff" stroke-width="0.25" stroke-opacity="0.12"/>
<line x1="223.50" y1="578.40" x2="223.50" y2="628.60" stroke="#ffffff" stroke-width="0.25" stroke-opacity="0.12"/>
<line x1="230.81" y1="578.40" x2="230.81" y2="628.60" stroke="#ffffff" stroke-width="0.25" stroke-opacity="0.12"/>
<line x1="238.12" y1="578.40" x2="238.12" y2="628.60" stroke="#ffffff" stroke-width="0.25" stroke-opacity="0.12"/>
<line x1="245.43" y1="578.40" x2="245.43" y2="628.60" stroke="#ffffff" stroke-width="0.25" stroke-opacity="0.12"/>
<line x1="252.74" y1="578.40" x2="252.74" y2="628.60" stroke="#ffffff" stroke-width="0.25" stroke-opacity="0.12"/>
<line x1="260.06" y1="578.40" x2="260.06" y2="628.60" stroke="#ffffff" stroke-width="0.25" stroke-opacity="0.12"/>
<line x1="267.37" y1="578.40" x2="267.37" y2="628.60" stroke="#ffffff" stroke-width="0.25" stroke-opacity="0.12"/>
<line x1="274.68" y1="578.40" x2="274.68" y2="628.60" stroke="#ffffff" stroke-width="0.25" stroke-opacity="0.12"/>
<line x1="281.99" y1="578.40" x2="281.99" y2="628.60" stroke="#ffffff" stroke-width="0.25" stroke-opacity="0.12"/>
<line x1="289.30" y1="578.40" x2="289.30" y2="628.60" stroke="#ffffff" stroke-width="0.25" stroke-opacity="0.12"/>
<line x1="296.61" y1="578.40" x2="296.61" y2="628.60" stroke="#ffffff" stroke-width="0.25" stroke-opacity="0.12"/>
<line x1="303.92" y1="578.40" x2="303.92" y2="628.60" stroke="#ffffff" stroke-width="0.25" stroke-opacity="0.12"/>
<line x1="311.23" y1="578.40" x2="311.23" y2="628.60" stroke="#ffffff" stroke-width="0.25" stroke-opacity="0.12"/>
<line x1="318.54" y1="578.40" x2="318.54" y2="628.60" stroke="#ffffff" stroke-width="0.25" stroke-opacity="0.12"/>
<line x1="325.85" y1="578.40" x2="325.85" y2="628.60" stroke="#ffffff" stroke-width="0.25" stroke-opacity="0.12"/>
<line x1="333.16" y1="578.40" x2="333.16" y2="628.60" stroke="#ffffff" stroke-width="0.25" stroke-opacity="0.12"/>
<line x1="340.47" y1="578.40" x2="340.47" y2="628.60" stroke="#ffffff" stroke-width="0.25" stroke-opacity="0.12"/>
<line x1="347.78" y1="578.40" x2="347.78" y2="628.60" stroke="#ffffff" stroke-width="0.25" stroke-opacity="0.12"/>
<line x1="355.09" y1="578.40" x2="355.09" y2="628.60" stroke="#ffffff" stroke-width="0.25" stroke-opacity="0.12"/>
<line x1="362.40" y1="578.40" x2="362.40" y2="628.60" stroke="#ffffff" stroke-width="0.25" stroke-opacity="0.12"/>
<line x1="369.71" y1="578.40" x2="369.71" y2="628.60" stroke="#ffffff" stroke-width="0.25" stroke-opacity="0.12"/>
<line x1="377.02" y1="578.40" x2="377.02" y2="628.60" stroke="#ffffff" stroke-width="0.25" stroke-opacity="0.12"/>
<line x1="384.33" y1="578.40" x2="384.33" y2="628.60" stroke="#ffffff" stroke-width="0.25" stroke-opacity="0.12"/>
<line x1="391.64" y1="578.40" x2="391.64" y2="628.60" stroke="#ffffff" stroke-width="0.25" stroke-opacity="0.12"/>
<line x1="398.95" y1="578.40" x2="398.95" y2="628.60" stroke="#ffffff" stroke-width="0.25" stroke-opacity="0.12"/>
<line x1="406.26" y1="578.40" x2="406.26" y2="628.60" stroke="#ffffff" stroke-width="0.25" stroke-opacity="0.12"/>
<line x1="413.57" y1="578.40" x2="413.57" y2="628.60" stroke="#ffffff" stroke-width="0.25" stroke-opacity="0.12"/>
<line x1="420.88" y1="578.40" x2="420.88" y2="628.60" stroke="#ffffff" stroke-width="0.25" stroke-opacity="0.12"/>
<line x1="428.19" y1="578.40" x2="428.19" y2="628.60" stroke="#ffffff" stroke-width="0.25" stroke-opacity="0.12"/>
<rect x="77.30" y="578.40" width="358.20" height="50.20" fill="none" stroke="#111" stroke-width="1.1"/>
<text x="81.96" y="633.60" font-size="4.9" fill="#333" stroke="#333" stroke-width="0.08" text-anchor="end" transform="rotate(-45 81.96 633.60)" >IL-1α</text>
<text x="89.27" y="633.60" font-size="4.9" fill="#333" stroke="#333" stroke-width="0.08" text-anchor="end" transform="rotate(-45 89.27 633.60)" >IL-1β</text>
<text x="96.58" y="633.60" font-size="4.9" fill="#333" stroke="#333" stroke-width="0.08" text-anchor="end" transform="rotate(-45 96.58 633.60)" >IL-1RA</text>
<text x="103.89" y="633.60" font-size="4.9" fill="#333" stroke="#333" stroke-width="0.08" text-anchor="end" transform="rotate(-45 103.89 633.60)" >IL-2</text>
<text x="111.20" y="633.60" font-size="4.9" fill="#333" stroke="#333" stroke-width="0.08" text-anchor="end" transform="rotate(-45 111.20 633.60)" >IL-4</text>
<text x="118.51" y="633.60" font-size="4.9" fill="#333" stroke="#333" stroke-width="0.08" text-anchor="end" transform="rotate(-45 118.51 633.60)" >IL-5</text>
<text x="125.82" y="633.60" font-size="4.9" fill="#333" stroke="#333" stroke-width="0.08" text-anchor="end" transform="rotate(-45 125.82 633.60)" >IL-6</text>
<text x="133.13" y="633.60" font-size="4.9" fill="#333" stroke="#333" stroke-width="0.08" text-anchor="end" transform="rotate(-45 133.13 633.60)" >IL-7</text>
<text x="140.44" y="633.60" font-size="4.9" fill="#333" stroke="#333" stroke-width="0.08" text-anchor="end" transform="rotate(-45 140.44 633.60)" >IL-8</text>
<text x="147.75" y="633.60" font-size="4.9" fill="#333" stroke="#333" stroke-width="0.08" text-anchor="end" transform="rotate(-45 147.75 633.60)" >IL-9</text>
<text x="155.06" y="633.60" font-size="4.9" fill="#333" stroke="#333" stroke-width="0.08" text-anchor="end" transform="rotate(-45 155.06 633.60)" >IL-10</text>
<text x="162.37" y="633.60" font-size="4.9" fill="#333" stroke="#333" stroke-width="0.08" text-anchor="end" transform="rotate(-45 162.37 633.60)" >IL-12P40</text>
<text x="169.68" y="633.60" font-size="4.9" fill="#333" stroke="#333" stroke-width="0.08" text-anchor="end" transform="rotate(-45 169.68 633.60)" >IL-12P70</text>
<text x="176.99" y="633.60" font-size="4.9" fill="#333" stroke="#333" stroke-width="0.08" text-anchor="end" transform="rotate(-45 176.99 633.60)" >IL-13</text>
<text x="184.30" y="633.60" font-size="4.9" fill="#333" stroke="#333" stroke-width="0.08" text-anchor="end" transform="rotate(-45 184.30 633.60)" >IL-15</text>
<text x="191.61" y="633.60" font-size="4.9" fill="#333" stroke="#333" stroke-width="0.08" text-anchor="end" transform="rotate(-45 191.61 633.60)" >IL-17A</text>
<text x="198.92" y="633.60" font-size="4.9" fill="#333" stroke="#333" stroke-width="0.08" text-anchor="end" transform="rotate(-45 198.92 633.60)" >IL-17F</text>
<text x="206.23" y="633.60" font-size="4.9" fill="#333" stroke="#333" stroke-width="0.08" text-anchor="end" transform="rotate(-45 206.23 633.60)" >IL-18</text>
<text x="213.54" y="633.60" font-size="4.9" fill="#333" stroke="#333" stroke-width="0.08" text-anchor="end" transform="rotate(-45 213.54 633.60)" >IL-21</text>
<text x="220.85" y="633.60" font-size="4.9" fill="#333" stroke="#333" stroke-width="0.08" text-anchor="end" transform="rotate(-45 220.85 633.60)" >IL-22</text>
<text x="228.16" y="633.60" font-size="4.9" fill="#333" stroke="#333" stroke-width="0.08" text-anchor="end" transform="rotate(-45 228.16 633.60)" >IL-27</text>
<text x="235.47" y="633.60" font-size="4.9" fill="#333" stroke="#333" stroke-width="0.08" text-anchor="end" transform="rotate(-45 235.47 633.60)" >IL-31</text>
<text x="242.78" y="633.60" font-size="4.9" fill="#333" stroke="#333" stroke-width="0.08" text-anchor="end" transform="rotate(-45 242.78 633.60)" >IFNα</text>
<text x="250.09" y="633.60" font-size="4.9" fill="#333" stroke="#333" stroke-width="0.08" text-anchor="end" transform="rotate(-45 250.09 633.60)" >IFNγ</text>
<text x="257.40" y="633.60" font-size="4.9" fill="#333" stroke="#333" stroke-width="0.08" text-anchor="end" transform="rotate(-45 257.40 633.60)" >TNFα</text>
<text x="264.71" y="633.60" font-size="4.9" fill="#333" stroke="#333" stroke-width="0.08" text-anchor="end" transform="rotate(-45 264.71 633.60)" >TNFβ</text>
<text x="272.02" y="633.60" font-size="4.9" fill="#333" stroke="#333" stroke-width="0.08" text-anchor="end" transform="rotate(-45 272.02 633.60)" >GM-CSF</text>
<text x="279.33" y="633.60" font-size="4.9" fill="#333" stroke="#333" stroke-width="0.08" text-anchor="end" transform="rotate(-45 279.33 633.60)" >LIF</text>
<text x="286.64" y="633.60" font-size="4.9" fill="#333" stroke="#333" stroke-width="0.08" text-anchor="end" transform="rotate(-45 286.64 633.60)" >CCL2</text>
<text x="293.95" y="633.60" font-size="4.9" fill="#333" stroke="#333" stroke-width="0.08" text-anchor="end" transform="rotate(-45 293.95 633.60)" >CCL3</text>
<text x="301.26" y="633.60" font-size="4.9" fill="#333" stroke="#333" stroke-width="0.08" text-anchor="end" transform="rotate(-45 301.26 633.60)" >CCL4</text>
<text x="308.57" y="633.60" font-size="4.9" fill="#333" stroke="#333" stroke-width="0.08" text-anchor="end" transform="rotate(-45 308.57 633.60)" >CCL5</text>
<text x="315.88" y="633.60" font-size="4.9" fill="#333" stroke="#333" stroke-width="0.08" text-anchor="end" transform="rotate(-45 315.88 633.60)" >CXCL1</text>
<text x="323.19" y="633.60" font-size="4.9" fill="#333" stroke="#333" stroke-width="0.08" text-anchor="end" transform="rotate(-45 323.19 633.60)" >CXCL9</text>
<text x="330.50" y="633.60" font-size="4.9" fill="#333" stroke="#333" stroke-width="0.08" text-anchor="end" transform="rotate(-45 330.50 633.60)" >CXCL10</text>
<text x="337.81" y="633.60" font-size="4.9" fill="#333" stroke="#333" stroke-width="0.08" text-anchor="end" transform="rotate(-45 337.81 633.60)" >CXCL12</text>
<text x="345.12" y="633.60" font-size="4.9" fill="#333" stroke="#333" stroke-width="0.08" text-anchor="end" transform="rotate(-45 345.12 633.60)" >BDNF</text>
<text x="352.43" y="633.60" font-size="4.9" fill="#333" stroke="#333" stroke-width="0.08" text-anchor="end" transform="rotate(-45 352.43 633.60)" >FGF-2</text>
<text x="359.74" y="633.60" font-size="4.9" fill="#333" stroke="#333" stroke-width="0.08" text-anchor="end" transform="rotate(-45 359.74 633.60)" >G-CSF</text>
<text x="367.05" y="633.60" font-size="4.9" fill="#333" stroke="#333" stroke-width="0.08" text-anchor="end" transform="rotate(-45 367.05 633.60)" >HGF</text>
<text x="374.36" y="633.60" font-size="4.9" fill="#333" stroke="#333" stroke-width="0.08" text-anchor="end" transform="rotate(-45 374.36 633.60)" >NGF</text>
<text x="381.67" y="633.60" font-size="4.9" fill="#333" stroke="#333" stroke-width="0.08" text-anchor="end" transform="rotate(-45 381.67 633.60)" >PDGF-BB</text>
<text x="388.98" y="633.60" font-size="4.9" fill="#333" stroke="#333" stroke-width="0.08" text-anchor="end" transform="rotate(-45 388.98 633.60)" >SCF</text>
<text x="396.29" y="633.60" font-size="4.9" fill="#333" stroke="#333" stroke-width="0.08" text-anchor="end" transform="rotate(-45 396.29 633.60)" >VEGF</text>
<text x="403.60" y="633.60" font-size="4.9" fill="#333" stroke="#333" stroke-width="0.08" text-anchor="end" transform="rotate(-45 403.60 633.60)" >VEGF-D</text>
<text x="410.91" y="633.60" font-size="4.9" fill="#333" stroke="#333" stroke-width="0.08" text-anchor="end" transform="rotate(-45 410.91 633.60)" >FasL</text>
<text x="418.22" y="633.60" font-size="4.9" fill="#333" stroke="#333" stroke-width="0.08" text-anchor="end" transform="rotate(-45 418.22 633.60)" >ICAM-1</text>
<text x="425.53" y="633.60" font-size="4.9" fill="#333" stroke="#333" stroke-width="0.08" text-anchor="end" transform="rotate(-45 425.53 633.60)" >TNFSF10</text>
<text x="432.84" y="633.60" font-size="4.9" fill="#333" stroke="#333" stroke-width="0.08" text-anchor="end" transform="rotate(-45 432.84 633.60)" >VCAM-1</text>
<path d="M77.50,652.40 V657.60 H281.20 V652.40" stroke="#231f20" stroke-width="0.8" fill="none"/>
<path d="M283.90,652.40 V657.60 H339.60 V652.40" stroke="#231f20" stroke-width="0.8" fill="none"/>
<path d="M342.00,652.40 V657.60 H405.50 V652.40" stroke="#231f20" stroke-width="0.8" fill="none"/>
<path d="M408.00,652.40 V657.60 H435.20 V652.40" stroke="#231f20" stroke-width="0.8" fill="none"/>
<text x="179.10" y="666.20" font-size="5.6" fill="#231f20" stroke="#231f20" stroke-width="0.12" text-anchor="middle" textLength="24.20" lengthAdjust="spacingAndGlyphs" >Cytokines</text>
<text x="312.00" y="666.20" font-size="5.6" fill="#231f20" stroke="#231f20" stroke-width="0.12" text-anchor="middle" textLength="29.00" lengthAdjust="spacingAndGlyphs" >Chemokines</text>
<text x="373.60" y="666.20" font-size="5.6" fill="#231f20" stroke="#231f20" stroke-width="0.12" text-anchor="middle" textLength="35.20" lengthAdjust="spacingAndGlyphs" >Growth Factors</text>
<text x="422.40" y="666.20" font-size="5.6" fill="#231f20" stroke="#231f20" stroke-width="0.12" text-anchor="middle" textLength="13.00" lengthAdjust="spacingAndGlyphs" >Other</text>
<rect x="446.6" y="586.6" width="10.2" height="35.6" fill="url(#hmbar)" stroke="#111" stroke-width="0.9"/>
<text x="460.20" y="589.30" font-size="5.2" fill="#333" stroke="#333" stroke-width="0.12" textLength="6.60" lengthAdjust="spacingAndGlyphs" >1.0</text>
<text x="460.20" y="606.30" font-size="5.2" fill="#333" stroke="#333" stroke-width="0.12" textLength="6.60" lengthAdjust="spacingAndGlyphs" >0.5</text>
<text x="460.20" y="623.70" font-size="5.2" fill="#333" stroke="#333" stroke-width="0.12" textLength="2.60" lengthAdjust="spacingAndGlyphs" >0</text>
<rect x="0" y="0" width="520" height="1.3" fill="#4a4a4a"/>
<rect x="0" y="0" width="1.4" height="675" fill="#4a4a4a"/>
<rect x="517.8" y="0" width="2.2" height="675" fill="#4a4a4a"/>
<rect x="0" y="672.7" width="520" height="2.3" fill="#4a4a4a"/>
</svg>
</body></html>
